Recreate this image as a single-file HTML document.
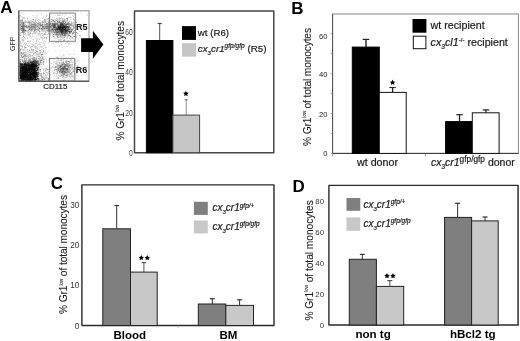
<!DOCTYPE html>
<html><head><meta charset="utf-8"><style>
html,body{margin:0;padding:0;background:#fff;}
body{width:520px;height:341px;overflow:hidden;}
svg{display:block;font-family:"Liberation Sans", sans-serif;filter:grayscale(1) blur(0.3px);}
</style></head><body>
<svg width="520" height="341" viewBox="0 0 520 341">
<rect width="520" height="341" fill="#fff"/>
<text x="0.3" y="13.3" font-size="17" font-weight="bold" font-style="normal" text-anchor="start" fill="#000" >A</text><text x="291.3" y="13.8" font-size="17" font-weight="bold" font-style="normal" text-anchor="start" fill="#000" >B</text><text x="50.8" y="189.4" font-size="17" font-weight="bold" font-style="normal" text-anchor="start" fill="#000" >C</text><text x="292.5" y="192.1" font-size="17" font-weight="bold" font-style="normal" text-anchor="start" fill="#000" >D</text><filter id="bl" x="-5%" y="-5%" width="110%" height="110%"><feGaussianBlur stdDeviation="0.5"/></filter><g fill="#000" filter="url(#bl)"><path fill-opacity="0.68" d="M25.9 70.1h.8v.8h-.8zM20.5 74.6h.8v.8h-.8zM27.5 79.8h.8v.8h-.8zM34.5 64.0h.8v.8h-.8zM28.5 70.2h.8v.8h-.8zM19.3 68.4h.8v.8h-.8zM34.0 69.3h.8v.8h-.8zM30.6 70.7h.8v.8h-.8zM27.7 69.5h.8v.8h-.8zM22.8 70.0h.8v.8h-.8zM21.9 70.0h.8v.8h-.8zM19.4 66.0h.8v.8h-.8zM35.4 68.5h.8v.8h-.8zM38.4 74.4h.8v.8h-.8zM24.6 71.9h.8v.8h-.8zM29.5 69.8h.8v.8h-.8zM33.0 69.0h.8v.8h-.8zM30.8 69.6h.8v.8h-.8zM31.6 75.0h.8v.8h-.8zM34.1 67.2h.8v.8h-.8zM21.5 66.7h.8v.8h-.8zM37.0 74.7h.8v.8h-.8zM33.6 67.9h.8v.8h-.8zM25.7 70.6h.8v.8h-.8zM32.3 77.5h.8v.8h-.8zM20.7 78.0h.8v.8h-.8zM29.4 65.9h.8v.8h-.8zM22.4 66.0h.8v.8h-.8zM36.5 67.6h.8v.8h-.8zM20.8 74.6h.8v.8h-.8zM23.0 70.2h.8v.8h-.8zM32.9 71.9h.8v.8h-.8zM34.5 78.2h.8v.8h-.8zM33.5 75.6h.8v.8h-.8zM35.2 77.2h.8v.8h-.8zM29.8 77.8h.8v.8h-.8zM32.6 78.7h.8v.8h-.8zM32.5 75.0h.8v.8h-.8zM25.0 76.0h.8v.8h-.8zM26.2 65.4h.8v.8h-.8zM31.0 71.5h.8v.8h-.8zM19.6 77.2h.8v.8h-.8zM26.8 73.6h.8v.8h-.8zM27.3 79.0h.8v.8h-.8zM21.2 74.0h.8v.8h-.8zM32.0 66.0h.8v.8h-.8zM29.1 76.2h.8v.8h-.8zM23.7 71.1h.8v.8h-.8zM29.3 79.4h.8v.8h-.8zM30.1 70.5h.8v.8h-.8zM24.0 63.4h.8v.8h-.8zM31.9 68.6h.8v.8h-.8zM28.4 69.8h.8v.8h-.8zM36.3 75.8h.8v.8h-.8zM20.0 67.1h.8v.8h-.8zM21.1 80.3h.8v.8h-.8zM27.1 68.6h.8v.8h-.8zM21.8 67.5h.8v.8h-.8zM21.2 64.2h.8v.8h-.8zM19.5 68.7h.8v.8h-.8zM34.0 72.8h.8v.8h-.8zM33.2 73.0h.8v.8h-.8zM29.6 70.3h.8v.8h-.8zM34.1 65.0h.8v.8h-.8zM22.9 72.8h.8v.8h-.8zM27.6 76.6h.8v.8h-.8zM29.9 77.0h.8v.8h-.8zM29.2 73.8h.8v.8h-.8zM30.6 68.6h.8v.8h-.8zM35.8 64.4h.8v.8h-.8zM29.7 70.9h.8v.8h-.8zM30.7 67.3h.8v.8h-.8zM25.9 67.8h.8v.8h-.8zM30.5 75.9h.8v.8h-.8zM39.8 70.5h.8v.8h-.8zM27.2 65.0h.8v.8h-.8zM35.9 74.5h.8v.8h-.8zM30.9 68.6h.8v.8h-.8zM19.6 66.1h.8v.8h-.8zM36.6 66.5h.8v.8h-.8zM27.5 75.2h.8v.8h-.8zM20.4 64.0h.8v.8h-.8zM25.7 77.2h.8v.8h-.8zM31.7 66.1h.8v.8h-.8zM24.0 64.8h.8v.8h-.8zM28.1 73.8h.8v.8h-.8zM19.9 66.4h.8v.8h-.8zM34.2 74.2h.8v.8h-.8zM19.4 79.7h.8v.8h-.8zM24.7 72.9h.8v.8h-.8zM33.3 64.7h.8v.8h-.8zM34.0 69.2h.8v.8h-.8zM35.5 73.7h.8v.8h-.8zM26.8 73.1h.8v.8h-.8zM23.5 75.0h.8v.8h-.8zM31.6 75.0h.8v.8h-.8zM23.8 72.1h.8v.8h-.8zM32.7 78.9h.8v.8h-.8zM26.7 76.7h.8v.8h-.8zM25.3 77.9h.8v.8h-.8zM32.5 64.8h.8v.8h-.8zM25.7 79.5h.8v.8h-.8zM24.5 70.3h.8v.8h-.8zM20.0 65.0h.8v.8h-.8zM35.1 79.3h.8v.8h-.8zM37.3 75.2h.8v.8h-.8zM22.0 68.8h.8v.8h-.8zM24.7 67.6h.8v.8h-.8zM21.9 67.5h.8v.8h-.8zM21.6 75.9h.8v.8h-.8zM28.5 76.2h.8v.8h-.8zM23.0 67.9h.8v.8h-.8zM23.5 79.2h.8v.8h-.8zM31.7 69.8h.8v.8h-.8zM22.3 68.0h.8v.8h-.8zM21.5 78.4h.8v.8h-.8zM27.3 71.7h.8v.8h-.8zM23.9 70.8h.8v.8h-.8zM32.7 80.5h.8v.8h-.8zM19.7 70.5h.8v.8h-.8zM27.5 66.1h.8v.8h-.8zM22.5 72.9h.8v.8h-.8zM27.1 67.6h.8v.8h-.8zM31.7 75.4h.8v.8h-.8zM29.5 77.3h.8v.8h-.8zM22.9 77.3h.8v.8h-.8zM34.1 68.0h.8v.8h-.8zM23.9 73.9h.8v.8h-.8zM29.7 66.3h.8v.8h-.8zM23.9 68.8h.8v.8h-.8zM21.4 74.9h.8v.8h-.8zM27.9 70.1h.8v.8h-.8zM24.1 66.3h.8v.8h-.8zM24.5 73.6h.8v.8h-.8zM31.3 64.8h.8v.8h-.8zM23.2 73.3h.8v.8h-.8zM24.6 69.8h.8v.8h-.8zM25.1 77.0h.8v.8h-.8zM35.3 73.9h.8v.8h-.8zM24.0 76.6h.8v.8h-.8zM25.2 65.9h.8v.8h-.8zM31.9 74.9h.8v.8h-.8zM35.2 71.7h.8v.8h-.8zM27.8 76.4h.8v.8h-.8zM21.9 68.6h.8v.8h-.8zM33.9 80.2h.8v.8h-.8zM30.0 79.9h.8v.8h-.8zM31.1 76.9h.8v.8h-.8zM25.5 67.1h.8v.8h-.8zM26.1 68.3h.8v.8h-.8zM22.7 75.1h.8v.8h-.8zM37.4 78.1h.8v.8h-.8zM37.1 76.0h.8v.8h-.8zM20.5 77.1h.8v.8h-.8zM23.8 74.9h.8v.8h-.8zM31.3 62.3h.8v.8h-.8zM32.2 68.9h.8v.8h-.8zM31.9 68.7h.8v.8h-.8zM21.1 64.3h.8v.8h-.8zM27.9 67.8h.8v.8h-.8zM25.2 70.5h.8v.8h-.8zM23.3 71.9h.8v.8h-.8zM28.2 70.7h.8v.8h-.8zM24.8 76.7h.8v.8h-.8zM35.7 70.1h.8v.8h-.8zM29.5 77.6h.8v.8h-.8zM25.0 79.9h.8v.8h-.8zM34.1 63.7h.8v.8h-.8zM20.8 69.8h.8v.8h-.8zM23.6 64.3h.8v.8h-.8zM33.2 75.0h.8v.8h-.8zM34.1 79.5h.8v.8h-.8zM23.9 71.4h.8v.8h-.8zM29.6 70.6h.8v.8h-.8zM25.2 66.5h.8v.8h-.8zM29.7 71.9h.8v.8h-.8zM33.6 75.2h.8v.8h-.8zM24.0 76.3h.8v.8h-.8zM23.2 76.3h.8v.8h-.8zM24.5 71.7h.8v.8h-.8zM21.4 75.5h.8v.8h-.8zM36.7 73.6h.8v.8h-.8zM35.9 75.4h.8v.8h-.8zM33.2 76.4h.8v.8h-.8zM23.9 74.0h.8v.8h-.8zM36.1 76.3h.8v.8h-.8zM32.4 77.7h.8v.8h-.8zM23.8 72.2h.8v.8h-.8zM28.4 72.3h.8v.8h-.8zM31.5 79.4h.8v.8h-.8zM21.4 77.5h.8v.8h-.8zM31.7 63.9h.8v.8h-.8zM34.3 66.4h.8v.8h-.8zM29.9 70.6h.8v.8h-.8zM24.2 68.6h.8v.8h-.8zM23.3 72.9h.8v.8h-.8zM25.8 67.0h.8v.8h-.8zM29.2 64.3h.8v.8h-.8zM20.5 67.4h.8v.8h-.8zM30.9 67.9h.8v.8h-.8zM26.4 79.1h.8v.8h-.8zM30.7 71.9h.8v.8h-.8zM22.5 73.6h.8v.8h-.8zM27.7 78.8h.8v.8h-.8zM26.0 69.1h.8v.8h-.8zM27.8 77.9h.8v.8h-.8zM33.6 71.9h.8v.8h-.8zM32.1 70.3h.8v.8h-.8zM23.4 63.5h.8v.8h-.8zM27.2 67.6h.8v.8h-.8zM26.4 75.9h.8v.8h-.8zM26.7 68.9h.8v.8h-.8zM23.6 74.5h.8v.8h-.8zM24.8 70.9h.8v.8h-.8zM24.4 63.1h.8v.8h-.8zM26.6 71.8h.8v.8h-.8zM27.3 69.5h.8v.8h-.8zM37.1 74.4h.8v.8h-.8zM19.7 70.0h.8v.8h-.8zM29.9 75.1h.8v.8h-.8zM21.0 74.1h.8v.8h-.8zM26.9 75.7h.8v.8h-.8zM35.0 68.7h.8v.8h-.8zM27.2 75.9h.8v.8h-.8zM33.9 73.4h.8v.8h-.8zM31.1 69.3h.8v.8h-.8zM32.1 77.8h.8v.8h-.8zM30.3 65.5h.8v.8h-.8zM31.8 71.7h.8v.8h-.8zM34.5 74.9h.8v.8h-.8zM23.0 72.6h.8v.8h-.8zM21.3 64.9h.8v.8h-.8zM31.1 80.1h.8v.8h-.8zM33.9 74.5h.8v.8h-.8zM20.0 70.2h.8v.8h-.8zM21.4 71.3h.8v.8h-.8zM21.1 80.2h.8v.8h-.8zM24.2 79.7h.8v.8h-.8zM27.0 78.3h.8v.8h-.8zM21.4 68.4h.8v.8h-.8zM31.4 79.4h.8v.8h-.8zM20.3 70.6h.8v.8h-.8zM32.4 71.6h.8v.8h-.8zM27.4 70.3h.8v.8h-.8zM27.2 74.6h.8v.8h-.8zM29.8 80.7h.8v.8h-.8zM35.4 74.6h.8v.8h-.8zM30.0 78.4h.8v.8h-.8zM31.8 72.9h.8v.8h-.8zM24.7 73.8h.8v.8h-.8zM32.8 78.0h.8v.8h-.8zM19.7 63.6h.8v.8h-.8zM29.3 67.0h.8v.8h-.8zM21.1 76.2h.8v.8h-.8zM26.7 77.7h.8v.8h-.8zM22.9 75.1h.8v.8h-.8zM22.8 73.8h.8v.8h-.8zM33.1 71.9h.8v.8h-.8zM28.3 67.3h.8v.8h-.8zM21.2 73.5h.8v.8h-.8zM22.8 76.1h.8v.8h-.8zM27.4 78.5h.8v.8h-.8zM27.5 77.8h.8v.8h-.8zM24.8 64.2h.8v.8h-.8zM26.2 69.7h.8v.8h-.8zM34.6 78.0h.8v.8h-.8zM23.5 73.7h.8v.8h-.8zM35.1 74.1h.8v.8h-.8zM24.4 66.0h.8v.8h-.8zM33.6 77.2h.8v.8h-.8zM34.6 66.1h.8v.8h-.8zM22.0 66.4h.8v.8h-.8zM32.5 69.1h.8v.8h-.8zM31.6 78.2h.8v.8h-.8zM22.3 67.0h.8v.8h-.8zM31.8 75.0h.8v.8h-.8zM25.0 69.0h.8v.8h-.8zM32.5 65.5h.8v.8h-.8zM28.1 64.9h.8v.8h-.8zM33.9 72.3h.8v.8h-.8zM26.0 75.3h.8v.8h-.8zM26.1 71.8h.8v.8h-.8zM30.3 72.4h.8v.8h-.8zM30.0 68.5h.8v.8h-.8zM30.1 79.1h.8v.8h-.8zM35.4 74.8h.8v.8h-.8zM23.1 68.1h.8v.8h-.8zM26.5 75.0h.8v.8h-.8zM29.5 78.3h.8v.8h-.8zM25.9 77.2h.8v.8h-.8zM26.9 80.5h.8v.8h-.8zM29.3 69.0h.8v.8h-.8zM20.6 68.3h.8v.8h-.8zM29.5 65.8h.8v.8h-.8zM24.7 62.8h.8v.8h-.8zM22.2 69.9h.8v.8h-.8zM24.7 70.5h.8v.8h-.8zM26.0 74.8h.8v.8h-.8zM29.1 66.8h.8v.8h-.8zM23.0 70.8h.8v.8h-.8zM28.7 64.0h.8v.8h-.8zM26.6 77.5h.8v.8h-.8zM28.5 70.5h.8v.8h-.8zM21.9 74.1h.8v.8h-.8zM32.6 70.2h.8v.8h-.8zM29.4 80.1h.8v.8h-.8zM29.7 75.3h.8v.8h-.8zM39.0 78.4h.8v.8h-.8zM23.1 69.9h.8v.8h-.8zM24.5 72.2h.8v.8h-.8zM25.9 65.6h.8v.8h-.8zM23.2 80.2h.8v.8h-.8zM20.4 67.8h.8v.8h-.8zM25.8 67.0h.8v.8h-.8zM27.3 70.2h.8v.8h-.8zM27.8 69.8h.8v.8h-.8zM21.7 62.9h.8v.8h-.8zM36.1 73.5h.8v.8h-.8zM35.6 80.7h.8v.8h-.8zM20.8 71.4h.8v.8h-.8zM26.1 63.2h.8v.8h-.8zM33.0 66.8h.8v.8h-.8zM27.8 65.4h.8v.8h-.8zM33.5 72.9h.8v.8h-.8zM30.8 73.3h.8v.8h-.8zM21.7 63.8h.8v.8h-.8zM31.4 65.0h.8v.8h-.8zM34.6 67.2h.8v.8h-.8zM35.4 68.8h.8v.8h-.8zM26.6 75.9h.8v.8h-.8zM19.8 75.3h.8v.8h-.8zM22.3 78.6h.8v.8h-.8zM29.1 72.0h.8v.8h-.8zM31.9 68.8h.8v.8h-.8zM26.7 64.1h.8v.8h-.8zM20.1 70.1h.8v.8h-.8zM31.6 74.3h.8v.8h-.8zM37.4 73.6h.8v.8h-.8zM28.9 79.6h.8v.8h-.8zM22.6 76.4h.8v.8h-.8zM28.3 67.0h.8v.8h-.8zM34.4 70.1h.8v.8h-.8zM34.5 65.6h.8v.8h-.8zM32.9 72.3h.8v.8h-.8zM34.8 64.9h.8v.8h-.8zM30.3 64.0h.8v.8h-.8zM21.6 78.3h.8v.8h-.8zM27.1 71.0h.8v.8h-.8zM27.5 67.8h.8v.8h-.8zM22.3 65.5h.8v.8h-.8zM32.5 68.2h.8v.8h-.8zM31.1 72.4h.8v.8h-.8zM27.4 74.0h.8v.8h-.8zM31.0 64.3h.8v.8h-.8zM35.7 73.6h.8v.8h-.8zM20.6 63.9h.8v.8h-.8zM27.2 71.5h.8v.8h-.8zM27.1 74.3h.8v.8h-.8zM26.2 69.8h.8v.8h-.8zM23.8 67.3h.8v.8h-.8zM26.7 73.2h.8v.8h-.8zM26.3 70.9h.8v.8h-.8zM35.9 79.2h.8v.8h-.8zM19.8 77.5h.8v.8h-.8zM28.5 67.0h.8v.8h-.8zM33.8 65.1h.8v.8h-.8zM36.4 79.2h.8v.8h-.8zM23.1 72.2h.8v.8h-.8zM30.9 74.2h.8v.8h-.8zM27.6 75.5h.8v.8h-.8zM29.9 77.6h.8v.8h-.8zM27.2 64.9h.8v.8h-.8zM34.4 74.6h.8v.8h-.8zM32.6 76.9h.8v.8h-.8zM35.4 75.0h.8v.8h-.8zM21.9 66.2h.8v.8h-.8zM23.0 75.7h.8v.8h-.8zM29.6 78.3h.8v.8h-.8zM28.2 79.4h.8v.8h-.8z"/><path fill-opacity="0.68" d="M33.1 68.8h.8v.8h-.8zM32.8 73.8h.8v.8h-.8zM28.4 75.0h.8v.8h-.8zM22.6 79.5h.8v.8h-.8zM23.6 72.0h.8v.8h-.8zM22.5 64.1h.8v.8h-.8zM22.1 77.3h.8v.8h-.8zM33.2 78.9h.8v.8h-.8zM29.4 73.6h.8v.8h-.8zM36.6 67.4h.8v.8h-.8zM26.0 70.1h.8v.8h-.8zM32.6 69.0h.8v.8h-.8zM36.0 65.4h.8v.8h-.8zM27.8 78.5h.8v.8h-.8zM25.2 76.2h.8v.8h-.8zM22.7 73.1h.8v.8h-.8zM30.5 74.2h.8v.8h-.8zM32.0 68.6h.8v.8h-.8zM35.6 66.4h.8v.8h-.8zM28.3 71.7h.8v.8h-.8zM24.5 68.3h.8v.8h-.8zM29.7 77.2h.8v.8h-.8zM29.7 76.5h.8v.8h-.8zM25.1 80.0h.8v.8h-.8zM30.9 76.7h.8v.8h-.8zM36.4 67.5h.8v.8h-.8zM22.1 62.9h.8v.8h-.8zM19.5 62.4h.8v.8h-.8zM30.5 68.4h.8v.8h-.8zM24.9 67.2h.8v.8h-.8zM33.9 64.5h.8v.8h-.8zM30.4 78.0h.8v.8h-.8zM20.7 80.4h.8v.8h-.8zM28.4 74.5h.8v.8h-.8zM19.6 62.3h.8v.8h-.8zM31.3 66.9h.8v.8h-.8zM32.3 73.0h.8v.8h-.8zM23.1 74.2h.8v.8h-.8zM22.7 69.8h.8v.8h-.8zM23.5 70.3h.8v.8h-.8zM30.6 79.2h.8v.8h-.8zM24.0 75.7h.8v.8h-.8zM35.3 71.8h.8v.8h-.8zM28.3 77.7h.8v.8h-.8zM29.2 77.8h.8v.8h-.8zM29.0 70.8h.8v.8h-.8zM21.9 70.1h.8v.8h-.8zM22.4 71.3h.8v.8h-.8zM25.4 74.9h.8v.8h-.8zM36.0 65.4h.8v.8h-.8zM19.3 65.9h.8v.8h-.8zM22.1 68.9h.8v.8h-.8zM21.7 66.2h.8v.8h-.8zM33.6 63.4h.8v.8h-.8zM29.4 78.0h.8v.8h-.8zM29.1 78.9h.8v.8h-.8zM26.4 66.2h.8v.8h-.8zM19.4 78.2h.8v.8h-.8zM25.9 71.0h.8v.8h-.8zM21.8 75.7h.8v.8h-.8zM30.0 75.5h.8v.8h-.8zM24.5 77.2h.8v.8h-.8zM21.4 73.4h.8v.8h-.8zM30.5 77.0h.8v.8h-.8zM29.3 66.4h.8v.8h-.8zM27.2 70.9h.8v.8h-.8zM28.9 68.0h.8v.8h-.8zM19.5 74.9h.8v.8h-.8zM32.3 73.1h.8v.8h-.8zM32.2 63.9h.8v.8h-.8zM25.1 70.8h.8v.8h-.8zM27.7 61.7h.8v.8h-.8zM32.4 64.0h.8v.8h-.8zM25.3 77.8h.8v.8h-.8zM27.4 70.9h.8v.8h-.8zM22.2 68.6h.8v.8h-.8zM23.8 67.0h.8v.8h-.8zM26.1 73.2h.8v.8h-.8zM24.4 78.7h.8v.8h-.8zM27.6 74.1h.8v.8h-.8zM27.6 70.0h.8v.8h-.8zM33.3 72.4h.8v.8h-.8zM28.8 77.9h.8v.8h-.8zM35.8 73.9h.8v.8h-.8zM23.3 75.9h.8v.8h-.8zM22.0 68.8h.8v.8h-.8zM26.1 72.3h.8v.8h-.8zM22.4 75.0h.8v.8h-.8zM34.2 66.0h.8v.8h-.8zM33.8 72.1h.8v.8h-.8zM34.2 77.3h.8v.8h-.8zM28.2 65.6h.8v.8h-.8zM30.5 65.8h.8v.8h-.8zM38.4 80.0h.8v.8h-.8zM23.1 72.3h.8v.8h-.8zM23.9 75.3h.8v.8h-.8zM34.4 70.2h.8v.8h-.8zM23.3 74.3h.8v.8h-.8zM39.4 79.5h.8v.8h-.8zM31.7 72.3h.8v.8h-.8zM31.7 79.3h.8v.8h-.8zM25.6 72.0h.8v.8h-.8zM32.9 76.2h.8v.8h-.8zM38.0 63.0h.8v.8h-.8zM28.1 69.5h.8v.8h-.8zM25.7 75.7h.8v.8h-.8zM21.2 75.3h.8v.8h-.8zM28.3 65.3h.8v.8h-.8zM26.4 66.4h.8v.8h-.8zM29.9 64.6h.8v.8h-.8zM29.0 69.0h.8v.8h-.8zM21.7 80.4h.8v.8h-.8zM28.1 75.4h.8v.8h-.8zM29.6 63.2h.8v.8h-.8zM34.4 77.2h.8v.8h-.8zM25.6 73.1h.8v.8h-.8zM24.6 78.6h.8v.8h-.8zM22.6 74.4h.8v.8h-.8zM26.6 72.8h.8v.8h-.8zM26.8 74.9h.8v.8h-.8zM19.7 66.6h.8v.8h-.8zM26.9 67.7h.8v.8h-.8zM29.8 72.7h.8v.8h-.8zM28.2 68.7h.8v.8h-.8zM35.9 72.5h.8v.8h-.8zM32.4 75.3h.8v.8h-.8zM31.2 68.0h.8v.8h-.8zM27.1 76.7h.8v.8h-.8zM29.4 76.4h.8v.8h-.8zM23.2 66.9h.8v.8h-.8zM34.8 68.9h.8v.8h-.8zM35.1 61.3h.8v.8h-.8zM25.7 76.6h.8v.8h-.8zM19.8 72.4h.8v.8h-.8zM25.1 73.2h.8v.8h-.8zM19.4 64.9h.8v.8h-.8zM22.6 64.4h.8v.8h-.8zM27.1 73.6h.8v.8h-.8zM19.2 64.5h.8v.8h-.8zM20.5 73.0h.8v.8h-.8zM24.6 66.2h.8v.8h-.8zM27.2 66.5h.8v.8h-.8zM25.9 72.4h.8v.8h-.8zM29.5 76.3h.8v.8h-.8zM27.7 68.1h.8v.8h-.8zM20.1 66.8h.8v.8h-.8zM21.8 68.1h.8v.8h-.8zM24.8 66.1h.8v.8h-.8zM25.4 74.3h.8v.8h-.8zM27.3 68.8h.8v.8h-.8zM23.1 74.2h.8v.8h-.8zM35.6 72.7h.8v.8h-.8zM29.0 78.0h.8v.8h-.8zM20.8 74.7h.8v.8h-.8zM23.0 67.8h.8v.8h-.8zM27.3 75.5h.8v.8h-.8zM24.2 76.9h.8v.8h-.8zM23.4 73.8h.8v.8h-.8zM27.9 78.7h.8v.8h-.8zM22.6 78.7h.8v.8h-.8zM29.4 73.6h.8v.8h-.8zM35.1 73.6h.8v.8h-.8zM32.6 78.5h.8v.8h-.8zM34.4 77.7h.8v.8h-.8zM21.9 68.8h.8v.8h-.8zM23.6 75.1h.8v.8h-.8zM29.9 65.5h.8v.8h-.8zM29.7 75.1h.8v.8h-.8zM19.5 66.6h.8v.8h-.8zM30.6 78.8h.8v.8h-.8zM25.9 75.2h.8v.8h-.8zM32.1 76.6h.8v.8h-.8zM23.3 68.5h.8v.8h-.8zM32.3 80.1h.8v.8h-.8zM20.8 77.5h.8v.8h-.8zM30.5 80.5h.8v.8h-.8zM28.4 64.1h.8v.8h-.8zM21.6 64.6h.8v.8h-.8zM20.0 76.7h.8v.8h-.8zM19.8 64.9h.8v.8h-.8zM28.0 72.3h.8v.8h-.8zM19.5 71.2h.8v.8h-.8zM24.2 76.4h.8v.8h-.8zM36.1 67.5h.8v.8h-.8zM31.1 68.0h.8v.8h-.8zM24.7 65.5h.8v.8h-.8zM31.1 69.1h.8v.8h-.8zM24.2 74.7h.8v.8h-.8zM31.5 77.9h.8v.8h-.8zM32.0 78.7h.8v.8h-.8zM29.8 60.7h.8v.8h-.8zM36.5 75.7h.8v.8h-.8zM20.6 76.8h.8v.8h-.8zM37.6 73.1h.8v.8h-.8zM24.9 79.0h.8v.8h-.8zM35.4 69.3h.8v.8h-.8zM29.3 74.6h.8v.8h-.8zM36.7 78.2h.8v.8h-.8zM28.8 68.0h.8v.8h-.8zM25.5 79.7h.8v.8h-.8zM32.7 71.7h.8v.8h-.8zM24.6 79.5h.8v.8h-.8zM32.5 66.3h.8v.8h-.8zM29.7 69.0h.8v.8h-.8zM28.4 65.9h.8v.8h-.8zM29.2 73.3h.8v.8h-.8zM28.0 74.1h.8v.8h-.8zM32.9 66.5h.8v.8h-.8zM29.7 68.4h.8v.8h-.8zM34.2 68.0h.8v.8h-.8zM34.5 77.8h.8v.8h-.8zM29.5 79.0h.8v.8h-.8zM26.1 74.7h.8v.8h-.8zM30.9 73.7h.8v.8h-.8zM32.7 77.9h.8v.8h-.8zM31.2 71.6h.8v.8h-.8zM26.5 76.4h.8v.8h-.8zM25.1 68.4h.8v.8h-.8zM34.9 73.0h.8v.8h-.8zM21.7 66.1h.8v.8h-.8zM37.9 67.8h.8v.8h-.8zM19.5 75.5h.8v.8h-.8zM29.0 72.4h.8v.8h-.8zM20.6 75.3h.8v.8h-.8zM26.2 65.1h.8v.8h-.8zM29.6 73.8h.8v.8h-.8zM35.5 64.2h.8v.8h-.8zM31.5 76.3h.8v.8h-.8zM31.7 68.8h.8v.8h-.8zM37.2 79.6h.8v.8h-.8zM27.9 75.0h.8v.8h-.8zM32.5 66.9h.8v.8h-.8zM31.4 78.4h.8v.8h-.8zM26.5 71.8h.8v.8h-.8zM20.9 74.5h.8v.8h-.8zM33.1 74.1h.8v.8h-.8zM35.9 70.8h.8v.8h-.8zM30.8 71.5h.8v.8h-.8zM22.1 64.6h.8v.8h-.8zM26.5 76.2h.8v.8h-.8zM28.7 77.7h.8v.8h-.8zM25.6 69.0h.8v.8h-.8zM34.4 76.5h.8v.8h-.8zM22.4 80.0h.8v.8h-.8zM27.8 68.5h.8v.8h-.8zM29.2 72.9h.8v.8h-.8zM34.2 72.6h.8v.8h-.8zM25.2 73.0h.8v.8h-.8zM23.2 78.4h.8v.8h-.8zM26.9 78.2h.8v.8h-.8zM32.0 69.8h.8v.8h-.8zM33.9 75.4h.8v.8h-.8zM22.7 79.8h.8v.8h-.8zM27.2 76.0h.8v.8h-.8zM26.3 80.2h.8v.8h-.8zM25.2 74.7h.8v.8h-.8zM23.7 72.5h.8v.8h-.8zM19.6 67.8h.8v.8h-.8zM29.4 77.5h.8v.8h-.8zM34.1 71.7h.8v.8h-.8zM25.3 67.9h.8v.8h-.8zM27.3 66.7h.8v.8h-.8zM32.0 72.1h.8v.8h-.8zM26.0 68.4h.8v.8h-.8zM23.6 76.5h.8v.8h-.8zM27.2 70.5h.8v.8h-.8zM32.5 69.2h.8v.8h-.8zM22.5 76.0h.8v.8h-.8zM19.7 69.0h.8v.8h-.8zM24.6 73.4h.8v.8h-.8zM31.1 78.0h.8v.8h-.8zM27.9 65.4h.8v.8h-.8zM24.3 63.8h.8v.8h-.8zM31.9 73.6h.8v.8h-.8zM23.9 69.5h.8v.8h-.8zM24.3 79.0h.8v.8h-.8zM33.9 77.1h.8v.8h-.8zM33.3 70.0h.8v.8h-.8zM24.1 66.5h.8v.8h-.8zM24.1 66.0h.8v.8h-.8zM26.1 79.4h.8v.8h-.8zM33.3 75.9h.8v.8h-.8zM29.5 66.4h.8v.8h-.8zM22.8 71.7h.8v.8h-.8zM19.3 64.3h.8v.8h-.8zM36.5 75.6h.8v.8h-.8zM25.1 74.0h.8v.8h-.8zM25.8 64.8h.8v.8h-.8zM34.9 73.8h.8v.8h-.8zM29.5 75.0h.8v.8h-.8zM31.5 69.9h.8v.8h-.8zM29.0 80.6h.8v.8h-.8zM30.5 71.0h.8v.8h-.8zM21.3 78.4h.8v.8h-.8zM26.3 79.8h.8v.8h-.8zM34.4 73.4h.8v.8h-.8zM34.3 74.6h.8v.8h-.8zM21.5 76.7h.8v.8h-.8zM33.8 67.7h.8v.8h-.8zM26.3 62.5h.8v.8h-.8zM27.5 77.1h.8v.8h-.8zM35.3 74.0h.8v.8h-.8zM33.0 76.8h.8v.8h-.8zM21.7 69.0h.8v.8h-.8zM24.9 75.8h.8v.8h-.8zM34.4 66.0h.8v.8h-.8zM22.8 74.0h.8v.8h-.8zM30.4 74.0h.8v.8h-.8zM28.8 67.5h.8v.8h-.8zM29.5 75.3h.8v.8h-.8zM33.9 73.8h.8v.8h-.8zM26.5 74.3h.8v.8h-.8zM28.9 63.8h.8v.8h-.8zM21.5 73.9h.8v.8h-.8zM33.5 71.4h.8v.8h-.8zM27.2 78.4h.8v.8h-.8zM24.3 64.1h.8v.8h-.8zM30.9 77.2h.8v.8h-.8zM21.4 72.3h.8v.8h-.8zM32.9 71.8h.8v.8h-.8zM24.8 71.5h.8v.8h-.8zM36.2 72.9h.8v.8h-.8zM31.2 64.2h.8v.8h-.8zM31.8 70.3h.8v.8h-.8zM26.5 65.8h.8v.8h-.8zM23.3 70.2h.8v.8h-.8zM30.5 73.6h.8v.8h-.8zM26.5 69.0h.8v.8h-.8zM32.3 70.1h.8v.8h-.8zM35.8 72.4h.8v.8h-.8zM26.8 78.8h.8v.8h-.8zM32.5 72.5h.8v.8h-.8zM33.3 74.8h.8v.8h-.8zM21.4 68.7h.8v.8h-.8zM25.6 79.1h.8v.8h-.8zM25.3 73.2h.8v.8h-.8zM23.9 74.3h.8v.8h-.8zM35.8 71.7h.8v.8h-.8zM31.3 76.4h.8v.8h-.8zM25.8 72.4h.8v.8h-.8zM23.3 75.2h.8v.8h-.8zM28.5 77.8h.8v.8h-.8zM21.5 70.8h.8v.8h-.8zM21.7 70.7h.8v.8h-.8zM31.8 69.8h.8v.8h-.8zM29.8 77.9h.8v.8h-.8zM29.6 74.3h.8v.8h-.8zM24.5 79.7h.8v.8h-.8zM36.4 78.0h.8v.8h-.8zM28.0 76.2h.8v.8h-.8zM23.7 76.7h.8v.8h-.8zM31.8 70.8h.8v.8h-.8zM26.1 67.6h.8v.8h-.8zM28.2 68.3h.8v.8h-.8zM28.8 64.1h.8v.8h-.8zM32.4 70.2h.8v.8h-.8zM34.0 67.6h.8v.8h-.8zM24.1 76.6h.8v.8h-.8zM22.9 76.5h.8v.8h-.8zM34.1 71.9h.8v.8h-.8zM24.9 76.2h.8v.8h-.8zM24.7 79.3h.8v.8h-.8zM22.9 73.3h.8v.8h-.8zM30.8 72.8h.8v.8h-.8zM33.4 68.5h.8v.8h-.8zM33.6 73.4h.8v.8h-.8zM37.8 78.6h.8v.8h-.8zM22.7 74.3h.8v.8h-.8zM21.8 75.9h.8v.8h-.8zM30.5 80.1h.8v.8h-.8zM32.0 73.5h.8v.8h-.8zM21.2 70.1h.8v.8h-.8zM34.0 73.4h.8v.8h-.8zM30.5 77.8h.8v.8h-.8zM26.8 72.9h.8v.8h-.8zM28.6 69.7h.8v.8h-.8zM20.2 63.8h.8v.8h-.8zM31.1 65.4h.8v.8h-.8zM27.5 72.8h.8v.8h-.8z"/><path fill-opacity="0.68" d="M28.6 80.6h.8v.8h-.8zM30.1 74.7h.8v.8h-.8zM30.2 65.1h.8v.8h-.8zM19.3 73.6h.8v.8h-.8zM33.2 75.2h.8v.8h-.8zM30.9 69.4h.8v.8h-.8zM23.8 78.8h.8v.8h-.8zM21.0 68.5h.8v.8h-.8zM25.4 71.6h.8v.8h-.8zM28.4 75.4h.8v.8h-.8zM22.5 68.5h.8v.8h-.8zM23.2 73.9h.8v.8h-.8zM33.3 74.7h.8v.8h-.8zM21.1 74.1h.8v.8h-.8zM23.4 77.7h.8v.8h-.8zM32.2 79.0h.8v.8h-.8zM25.0 68.2h.8v.8h-.8zM31.5 78.0h.8v.8h-.8zM24.2 66.5h.8v.8h-.8zM35.7 66.2h.8v.8h-.8zM29.7 80.3h.8v.8h-.8zM35.6 72.1h.8v.8h-.8zM24.0 70.9h.8v.8h-.8zM33.2 64.2h.8v.8h-.8zM33.3 74.5h.8v.8h-.8zM35.3 64.9h.8v.8h-.8zM35.6 75.5h.8v.8h-.8zM26.8 77.5h.8v.8h-.8zM31.2 80.7h.8v.8h-.8zM21.9 76.0h.8v.8h-.8zM26.6 69.8h.8v.8h-.8zM22.8 75.4h.8v.8h-.8zM26.8 78.5h.8v.8h-.8zM32.8 77.2h.8v.8h-.8zM29.7 76.4h.8v.8h-.8zM38.7 66.7h.8v.8h-.8zM21.0 68.0h.8v.8h-.8zM24.3 72.0h.8v.8h-.8zM27.7 78.6h.8v.8h-.8zM20.0 68.8h.8v.8h-.8zM22.4 76.7h.8v.8h-.8zM27.3 70.0h.8v.8h-.8zM23.2 65.8h.8v.8h-.8zM21.3 78.1h.8v.8h-.8zM31.2 73.1h.8v.8h-.8zM33.7 70.1h.8v.8h-.8zM32.6 76.1h.8v.8h-.8zM31.7 71.4h.8v.8h-.8zM33.4 65.9h.8v.8h-.8zM25.1 74.5h.8v.8h-.8zM21.4 73.9h.8v.8h-.8zM36.9 66.8h.8v.8h-.8zM22.5 73.8h.8v.8h-.8zM31.7 70.0h.8v.8h-.8zM23.0 65.3h.8v.8h-.8zM25.2 69.5h.8v.8h-.8zM25.6 67.5h.8v.8h-.8zM35.6 78.8h.8v.8h-.8zM26.8 77.6h.8v.8h-.8zM24.6 73.0h.8v.8h-.8zM35.4 69.2h.8v.8h-.8zM35.0 66.5h.8v.8h-.8zM28.3 66.8h.8v.8h-.8zM35.2 66.1h.8v.8h-.8zM30.7 65.3h.8v.8h-.8zM34.5 67.2h.8v.8h-.8zM34.0 76.2h.8v.8h-.8zM27.8 70.8h.8v.8h-.8zM25.5 67.8h.8v.8h-.8zM29.6 75.8h.8v.8h-.8zM28.8 64.2h.8v.8h-.8zM34.0 67.9h.8v.8h-.8zM30.7 66.7h.8v.8h-.8zM21.4 76.7h.8v.8h-.8zM27.2 63.4h.8v.8h-.8zM32.8 66.1h.8v.8h-.8zM27.0 79.2h.8v.8h-.8zM30.8 66.4h.8v.8h-.8zM28.4 68.2h.8v.8h-.8zM21.3 73.9h.8v.8h-.8zM25.4 69.4h.8v.8h-.8zM27.3 71.1h.8v.8h-.8zM27.0 80.3h.8v.8h-.8zM26.4 66.2h.8v.8h-.8zM26.1 69.9h.8v.8h-.8zM23.2 71.7h.8v.8h-.8zM19.3 69.6h.8v.8h-.8zM31.2 67.8h.8v.8h-.8zM34.0 69.8h.8v.8h-.8zM26.9 63.8h.8v.8h-.8zM36.8 66.6h.8v.8h-.8zM24.6 67.9h.8v.8h-.8zM25.8 72.4h.8v.8h-.8zM19.8 73.0h.8v.8h-.8zM31.8 69.1h.8v.8h-.8zM25.8 77.7h.8v.8h-.8zM19.4 72.1h.8v.8h-.8zM32.8 71.1h.8v.8h-.8zM25.9 71.7h.8v.8h-.8zM34.4 79.3h.8v.8h-.8zM23.3 67.0h.8v.8h-.8zM21.6 65.4h.8v.8h-.8zM23.0 72.9h.8v.8h-.8zM27.6 64.9h.8v.8h-.8zM24.9 78.3h.8v.8h-.8zM26.6 72.0h.8v.8h-.8zM28.6 67.6h.8v.8h-.8zM32.8 78.3h.8v.8h-.8zM25.6 74.4h.8v.8h-.8zM33.9 72.8h.8v.8h-.8zM29.4 70.0h.8v.8h-.8zM32.2 67.6h.8v.8h-.8zM34.3 70.6h.8v.8h-.8zM22.9 66.7h.8v.8h-.8zM23.1 75.7h.8v.8h-.8zM27.7 65.8h.8v.8h-.8zM21.2 77.1h.8v.8h-.8zM25.9 66.5h.8v.8h-.8zM37.3 69.6h.8v.8h-.8zM29.8 79.1h.8v.8h-.8zM37.8 76.1h.8v.8h-.8zM35.3 77.5h.8v.8h-.8zM31.3 65.0h.8v.8h-.8zM34.2 70.1h.8v.8h-.8zM34.3 72.9h.8v.8h-.8zM26.6 68.8h.8v.8h-.8zM31.1 70.7h.8v.8h-.8zM29.5 72.1h.8v.8h-.8zM22.2 66.3h.8v.8h-.8zM29.2 76.3h.8v.8h-.8zM22.1 80.8h.8v.8h-.8zM38.0 64.6h.8v.8h-.8zM22.4 70.4h.8v.8h-.8zM21.5 65.3h.8v.8h-.8zM35.3 73.1h.8v.8h-.8zM30.3 67.2h.8v.8h-.8zM32.7 79.7h.8v.8h-.8zM35.0 77.4h.8v.8h-.8zM31.6 62.4h.8v.8h-.8zM34.1 74.7h.8v.8h-.8zM26.2 73.8h.8v.8h-.8zM36.1 74.3h.8v.8h-.8zM22.0 77.6h.8v.8h-.8zM24.9 68.0h.8v.8h-.8zM29.6 66.7h.8v.8h-.8zM27.3 78.5h.8v.8h-.8zM22.8 73.0h.8v.8h-.8zM30.6 72.5h.8v.8h-.8zM33.5 72.9h.8v.8h-.8zM33.6 77.7h.8v.8h-.8zM22.9 74.9h.8v.8h-.8zM33.5 78.2h.8v.8h-.8zM25.5 77.7h.8v.8h-.8zM31.8 75.2h.8v.8h-.8zM28.8 70.5h.8v.8h-.8zM28.3 68.0h.8v.8h-.8zM31.6 69.6h.8v.8h-.8zM34.9 70.4h.8v.8h-.8zM29.3 74.9h.8v.8h-.8zM28.9 64.4h.8v.8h-.8zM24.2 79.2h.8v.8h-.8zM27.4 65.1h.8v.8h-.8zM25.1 70.7h.8v.8h-.8zM22.4 70.3h.8v.8h-.8zM37.8 70.2h.8v.8h-.8zM23.8 66.9h.8v.8h-.8zM19.7 74.2h.8v.8h-.8zM23.4 69.3h.8v.8h-.8zM30.7 77.5h.8v.8h-.8zM32.0 73.9h.8v.8h-.8zM34.7 74.7h.8v.8h-.8zM34.0 69.1h.8v.8h-.8zM28.7 78.4h.8v.8h-.8zM26.4 73.9h.8v.8h-.8zM26.3 65.1h.8v.8h-.8zM35.4 75.9h.8v.8h-.8zM26.1 70.2h.8v.8h-.8zM31.1 80.0h.8v.8h-.8zM29.4 77.7h.8v.8h-.8zM37.6 66.7h.8v.8h-.8zM34.1 73.4h.8v.8h-.8zM33.3 69.0h.8v.8h-.8zM20.1 65.4h.8v.8h-.8zM26.1 70.6h.8v.8h-.8zM33.0 75.0h.8v.8h-.8zM23.5 64.1h.8v.8h-.8zM36.4 79.3h.8v.8h-.8zM34.9 68.5h.8v.8h-.8zM29.3 67.6h.8v.8h-.8zM30.5 75.1h.8v.8h-.8zM33.0 74.7h.8v.8h-.8zM34.7 73.9h.8v.8h-.8zM35.0 66.1h.8v.8h-.8zM30.8 77.4h.8v.8h-.8zM25.9 68.7h.8v.8h-.8zM32.0 77.5h.8v.8h-.8zM24.7 72.7h.8v.8h-.8zM27.1 72.8h.8v.8h-.8zM29.8 72.5h.8v.8h-.8zM25.0 71.6h.8v.8h-.8zM28.7 76.4h.8v.8h-.8zM29.1 65.8h.8v.8h-.8zM29.8 67.6h.8v.8h-.8zM31.1 66.3h.8v.8h-.8zM23.9 75.0h.8v.8h-.8zM22.8 74.3h.8v.8h-.8zM27.7 63.5h.8v.8h-.8zM27.3 70.3h.8v.8h-.8zM32.0 73.8h.8v.8h-.8zM37.2 71.8h.8v.8h-.8zM28.1 68.6h.8v.8h-.8zM23.1 79.8h.8v.8h-.8zM30.6 75.2h.8v.8h-.8zM29.7 70.0h.8v.8h-.8zM31.8 77.6h.8v.8h-.8zM27.9 75.9h.8v.8h-.8zM25.6 80.4h.8v.8h-.8zM27.0 77.3h.8v.8h-.8zM33.4 62.9h.8v.8h-.8zM23.5 66.6h.8v.8h-.8zM19.7 75.4h.8v.8h-.8zM21.6 77.6h.8v.8h-.8zM23.4 71.9h.8v.8h-.8zM30.9 71.2h.8v.8h-.8zM30.9 80.2h.8v.8h-.8zM20.5 68.3h.8v.8h-.8zM23.3 72.1h.8v.8h-.8zM20.5 79.1h.8v.8h-.8zM21.6 79.1h.8v.8h-.8zM30.2 68.0h.8v.8h-.8zM32.9 73.4h.8v.8h-.8zM32.6 73.0h.8v.8h-.8zM27.6 74.5h.8v.8h-.8zM35.5 75.5h.8v.8h-.8zM20.2 74.9h.8v.8h-.8zM27.0 76.7h.8v.8h-.8zM32.2 70.2h.8v.8h-.8zM33.6 76.9h.8v.8h-.8zM26.5 74.9h.8v.8h-.8zM27.6 80.3h.8v.8h-.8zM22.0 65.4h.8v.8h-.8zM25.0 72.0h.8v.8h-.8zM30.5 78.6h.8v.8h-.8zM20.7 69.8h.8v.8h-.8zM24.2 78.3h.8v.8h-.8zM23.1 78.3h.8v.8h-.8zM32.9 65.5h.8v.8h-.8zM26.0 64.4h.8v.8h-.8zM27.2 78.6h.8v.8h-.8zM20.0 67.9h.8v.8h-.8zM24.1 76.4h.8v.8h-.8zM30.1 76.0h.8v.8h-.8zM24.8 69.3h.8v.8h-.8zM25.4 69.1h.8v.8h-.8zM36.0 66.1h.8v.8h-.8zM30.0 62.6h.8v.8h-.8zM30.4 76.9h.8v.8h-.8zM24.3 75.6h.8v.8h-.8zM22.6 78.1h.8v.8h-.8zM20.0 77.5h.8v.8h-.8zM24.3 68.2h.8v.8h-.8zM28.1 72.4h.8v.8h-.8zM23.7 74.1h.8v.8h-.8zM31.9 75.1h.8v.8h-.8zM23.9 74.3h.8v.8h-.8zM25.5 67.7h.8v.8h-.8zM20.0 76.5h.8v.8h-.8zM26.5 76.5h.8v.8h-.8zM29.4 79.0h.8v.8h-.8zM33.7 74.8h.8v.8h-.8zM24.3 74.1h.8v.8h-.8zM26.4 66.9h.8v.8h-.8zM28.2 78.5h.8v.8h-.8zM31.1 66.7h.8v.8h-.8zM23.6 66.3h.8v.8h-.8zM30.9 74.0h.8v.8h-.8zM22.7 69.3h.8v.8h-.8zM37.8 73.2h.8v.8h-.8zM20.2 68.5h.8v.8h-.8zM22.2 68.5h.8v.8h-.8zM34.0 66.7h.8v.8h-.8zM32.1 64.1h.8v.8h-.8zM20.9 77.8h.8v.8h-.8zM32.2 68.1h.8v.8h-.8zM32.6 68.3h.8v.8h-.8zM26.2 71.8h.8v.8h-.8zM20.0 79.7h.8v.8h-.8zM28.8 78.1h.8v.8h-.8zM22.5 78.1h.8v.8h-.8zM35.0 80.4h.8v.8h-.8zM35.7 72.8h.8v.8h-.8zM34.2 71.8h.8v.8h-.8zM30.8 74.8h.8v.8h-.8zM25.6 76.3h.8v.8h-.8zM29.5 75.0h.8v.8h-.8zM31.2 78.9h.8v.8h-.8zM22.1 75.3h.8v.8h-.8zM29.6 75.3h.8v.8h-.8zM34.6 79.0h.8v.8h-.8zM23.3 76.1h.8v.8h-.8zM36.5 72.1h.8v.8h-.8zM25.8 66.5h.8v.8h-.8zM25.1 62.6h.8v.8h-.8zM38.7 63.8h.8v.8h-.8zM34.0 65.8h.8v.8h-.8zM30.7 65.6h.8v.8h-.8zM24.4 73.8h.8v.8h-.8zM29.6 79.5h.8v.8h-.8zM25.2 80.5h.8v.8h-.8zM34.6 74.9h.8v.8h-.8zM33.8 75.8h.8v.8h-.8zM29.2 68.7h.8v.8h-.8zM28.4 67.4h.8v.8h-.8zM26.8 75.2h.8v.8h-.8zM30.5 73.3h.8v.8h-.8zM21.4 67.5h.8v.8h-.8zM29.6 69.7h.8v.8h-.8zM31.9 72.0h.8v.8h-.8zM25.7 72.0h.8v.8h-.8zM29.3 77.6h.8v.8h-.8zM32.0 66.6h.8v.8h-.8zM25.8 79.5h.8v.8h-.8zM30.4 79.8h.8v.8h-.8zM30.4 71.6h.8v.8h-.8zM21.1 65.0h.8v.8h-.8zM28.2 69.8h.8v.8h-.8zM23.9 65.0h.8v.8h-.8zM35.2 79.1h.8v.8h-.8zM22.8 76.8h.8v.8h-.8zM35.1 75.7h.8v.8h-.8zM34.6 80.3h.8v.8h-.8zM34.3 70.3h.8v.8h-.8zM28.1 75.2h.8v.8h-.8zM34.9 75.0h.8v.8h-.8zM22.5 75.4h.8v.8h-.8zM29.1 78.3h.8v.8h-.8zM29.0 68.9h.8v.8h-.8zM24.7 62.2h.8v.8h-.8zM26.2 71.0h.8v.8h-.8zM34.3 72.9h.8v.8h-.8zM29.5 79.5h.8v.8h-.8zM30.0 74.1h.8v.8h-.8zM34.3 66.1h.8v.8h-.8zM25.1 63.8h.8v.8h-.8zM32.7 66.0h.8v.8h-.8zM33.6 73.9h.8v.8h-.8zM24.5 67.8h.8v.8h-.8zM34.6 75.9h.8v.8h-.8zM23.1 70.4h.8v.8h-.8zM26.9 73.8h.8v.8h-.8zM29.7 72.4h.8v.8h-.8zM29.3 65.9h.8v.8h-.8zM36.4 76.9h.8v.8h-.8zM23.9 79.5h.8v.8h-.8zM26.4 80.6h.8v.8h-.8zM28.7 79.9h.8v.8h-.8zM37.3 68.4h.8v.8h-.8zM22.5 69.5h.8v.8h-.8zM31.1 68.4h.8v.8h-.8zM35.1 80.8h.8v.8h-.8zM33.0 74.4h.8v.8h-.8zM34.0 69.1h.8v.8h-.8zM31.4 67.2h.8v.8h-.8zM29.4 75.1h.8v.8h-.8zM34.9 76.3h.8v.8h-.8zM32.5 60.9h.8v.8h-.8zM26.2 76.4h.8v.8h-.8zM25.6 72.1h.8v.8h-.8zM28.2 63.7h.8v.8h-.8zM35.5 79.8h.8v.8h-.8zM21.3 73.2h.8v.8h-.8zM31.8 79.5h.8v.8h-.8zM35.9 65.5h.8v.8h-.8zM22.6 70.1h.8v.8h-.8zM20.5 68.4h.8v.8h-.8zM25.9 73.8h.8v.8h-.8zM33.7 70.6h.8v.8h-.8zM25.0 68.8h.8v.8h-.8zM26.5 72.5h.8v.8h-.8z"/><path fill-opacity="0.68" d="M23.1 67.9h.8v.8h-.8zM27.7 66.3h.8v.8h-.8zM34.6 76.6h.8v.8h-.8zM27.6 79.5h.8v.8h-.8zM28.8 80.4h.8v.8h-.8zM23.8 70.0h.8v.8h-.8zM34.9 76.0h.8v.8h-.8zM30.5 64.0h.8v.8h-.8zM23.0 70.5h.8v.8h-.8zM32.8 71.8h.8v.8h-.8zM22.1 68.5h.8v.8h-.8zM38.1 67.1h.8v.8h-.8zM30.0 77.0h.8v.8h-.8zM34.7 76.2h.8v.8h-.8zM21.9 66.2h.8v.8h-.8zM27.4 75.8h.8v.8h-.8zM29.3 75.2h.8v.8h-.8zM33.9 68.1h.8v.8h-.8zM35.8 70.3h.8v.8h-.8zM23.4 66.3h.8v.8h-.8zM30.6 75.9h.8v.8h-.8zM29.5 68.9h.8v.8h-.8zM34.6 74.3h.8v.8h-.8zM26.6 68.5h.8v.8h-.8zM24.2 70.6h.8v.8h-.8zM21.8 79.7h.8v.8h-.8zM26.7 77.4h.8v.8h-.8zM29.5 72.1h.8v.8h-.8zM28.4 79.9h.8v.8h-.8zM33.4 78.8h.8v.8h-.8zM33.1 76.0h.8v.8h-.8zM29.1 78.1h.8v.8h-.8zM25.5 74.7h.8v.8h-.8zM32.4 64.2h.8v.8h-.8zM27.8 76.6h.8v.8h-.8zM34.1 79.4h.8v.8h-.8zM28.9 76.2h.8v.8h-.8zM27.0 65.3h.8v.8h-.8zM37.3 72.6h.8v.8h-.8zM23.3 68.9h.8v.8h-.8zM21.0 80.0h.8v.8h-.8zM22.4 68.8h.8v.8h-.8zM19.4 78.0h.8v.8h-.8zM27.1 69.6h.8v.8h-.8zM32.2 80.3h.8v.8h-.8zM32.3 68.3h.8v.8h-.8zM32.9 66.1h.8v.8h-.8zM27.1 70.7h.8v.8h-.8zM33.5 76.1h.8v.8h-.8zM30.0 66.5h.8v.8h-.8zM21.7 64.0h.8v.8h-.8zM21.5 70.6h.8v.8h-.8zM26.4 64.1h.8v.8h-.8zM22.1 69.7h.8v.8h-.8zM20.7 76.2h.8v.8h-.8zM30.9 73.9h.8v.8h-.8zM33.6 75.6h.8v.8h-.8zM33.9 77.1h.8v.8h-.8zM31.6 64.9h.8v.8h-.8zM31.9 66.7h.8v.8h-.8zM31.1 73.2h.8v.8h-.8zM24.0 62.9h.8v.8h-.8zM33.7 75.0h.8v.8h-.8zM29.1 71.6h.8v.8h-.8zM28.7 71.1h.8v.8h-.8zM28.6 69.2h.8v.8h-.8zM19.7 70.3h.8v.8h-.8zM19.4 74.4h.8v.8h-.8zM37.4 77.9h.8v.8h-.8zM26.7 78.7h.8v.8h-.8zM29.9 61.7h.8v.8h-.8zM29.7 78.3h.8v.8h-.8zM27.3 78.7h.8v.8h-.8zM22.0 71.0h.8v.8h-.8zM25.1 74.9h.8v.8h-.8zM30.0 68.6h.8v.8h-.8zM21.7 73.3h.8v.8h-.8zM28.2 67.4h.8v.8h-.8zM32.7 71.9h.8v.8h-.8zM30.9 74.1h.8v.8h-.8zM28.1 75.4h.8v.8h-.8zM24.8 66.6h.8v.8h-.8zM19.6 66.2h.8v.8h-.8zM29.1 64.5h.8v.8h-.8zM24.8 70.9h.8v.8h-.8zM24.8 75.1h.8v.8h-.8zM28.2 79.4h.8v.8h-.8zM23.5 65.5h.8v.8h-.8zM29.5 75.8h.8v.8h-.8zM35.3 69.9h.8v.8h-.8zM29.8 71.6h.8v.8h-.8zM27.6 76.7h.8v.8h-.8zM20.5 70.8h.8v.8h-.8zM34.4 70.9h.8v.8h-.8zM27.1 64.1h.8v.8h-.8zM35.8 71.5h.8v.8h-.8zM26.7 77.3h.8v.8h-.8zM31.2 71.1h.8v.8h-.8zM32.8 77.5h.8v.8h-.8zM23.2 76.6h.8v.8h-.8zM28.3 75.6h.8v.8h-.8zM24.7 76.2h.8v.8h-.8zM28.9 75.4h.8v.8h-.8zM31.6 66.0h.8v.8h-.8zM30.0 79.4h.8v.8h-.8zM37.1 67.0h.8v.8h-.8zM37.0 75.6h.8v.8h-.8zM30.8 69.6h.8v.8h-.8zM23.4 68.2h.8v.8h-.8zM27.8 68.9h.8v.8h-.8zM32.1 76.4h.8v.8h-.8zM35.2 71.0h.8v.8h-.8zM21.9 72.4h.8v.8h-.8zM26.6 70.1h.8v.8h-.8zM33.2 76.1h.8v.8h-.8zM29.9 74.6h.8v.8h-.8zM23.3 75.7h.8v.8h-.8zM32.5 75.3h.8v.8h-.8zM35.5 65.9h.8v.8h-.8zM31.2 63.6h.8v.8h-.8zM29.6 77.6h.8v.8h-.8zM27.9 64.8h.8v.8h-.8zM31.4 66.1h.8v.8h-.8zM33.4 78.2h.8v.8h-.8zM26.9 73.4h.8v.8h-.8zM24.9 71.6h.8v.8h-.8zM29.5 69.6h.8v.8h-.8zM26.7 69.0h.8v.8h-.8zM28.8 75.0h.8v.8h-.8zM27.9 74.8h.8v.8h-.8zM20.6 63.5h.8v.8h-.8zM26.3 65.3h.8v.8h-.8zM28.4 74.1h.8v.8h-.8zM33.9 71.5h.8v.8h-.8zM34.6 68.2h.8v.8h-.8zM21.8 68.2h.8v.8h-.8zM32.3 74.8h.8v.8h-.8zM33.6 76.9h.8v.8h-.8zM33.0 65.1h.8v.8h-.8zM33.6 71.5h.8v.8h-.8zM22.1 74.2h.8v.8h-.8zM35.0 78.1h.8v.8h-.8zM36.8 68.1h.8v.8h-.8zM36.3 70.1h.8v.8h-.8zM30.3 79.8h.8v.8h-.8zM34.6 72.0h.8v.8h-.8zM19.5 74.3h.8v.8h-.8zM21.0 72.2h.8v.8h-.8zM23.3 76.4h.8v.8h-.8zM20.9 75.9h.8v.8h-.8zM25.7 77.0h.8v.8h-.8zM31.9 67.7h.8v.8h-.8zM22.6 74.6h.8v.8h-.8zM35.3 76.0h.8v.8h-.8zM27.3 76.1h.8v.8h-.8zM26.9 74.1h.8v.8h-.8zM22.5 67.1h.8v.8h-.8zM20.4 68.1h.8v.8h-.8zM21.7 66.0h.8v.8h-.8zM28.0 76.6h.8v.8h-.8zM28.0 77.1h.8v.8h-.8zM26.8 80.2h.8v.8h-.8zM33.3 66.6h.8v.8h-.8zM30.8 77.3h.8v.8h-.8zM26.5 77.8h.8v.8h-.8zM22.2 70.7h.8v.8h-.8zM23.6 70.5h.8v.8h-.8zM31.0 76.2h.8v.8h-.8zM27.0 77.3h.8v.8h-.8zM36.2 64.6h.8v.8h-.8zM21.4 66.4h.8v.8h-.8zM21.4 76.9h.8v.8h-.8zM28.1 75.3h.8v.8h-.8zM27.8 73.5h.8v.8h-.8zM39.7 72.8h.8v.8h-.8zM22.3 75.3h.8v.8h-.8zM31.6 78.6h.8v.8h-.8zM23.1 68.8h.8v.8h-.8zM19.5 74.8h.8v.8h-.8zM28.9 77.1h.8v.8h-.8zM33.3 65.5h.8v.8h-.8zM27.6 73.9h.8v.8h-.8zM31.3 65.9h.8v.8h-.8zM24.1 69.8h.8v.8h-.8zM37.2 69.4h.8v.8h-.8zM30.7 79.1h.8v.8h-.8zM23.5 69.1h.8v.8h-.8zM22.3 80.4h.8v.8h-.8zM30.2 72.5h.8v.8h-.8zM20.7 63.4h.8v.8h-.8zM24.1 64.6h.8v.8h-.8zM26.3 70.0h.8v.8h-.8zM24.7 77.1h.8v.8h-.8zM25.7 71.2h.8v.8h-.8zM21.4 66.4h.8v.8h-.8zM25.1 67.3h.8v.8h-.8zM33.9 69.7h.8v.8h-.8zM35.2 68.4h.8v.8h-.8zM23.3 70.2h.8v.8h-.8zM28.6 71.1h.8v.8h-.8zM24.5 68.2h.8v.8h-.8zM30.1 76.9h.8v.8h-.8zM25.5 74.9h.8v.8h-.8zM29.8 71.4h.8v.8h-.8zM29.8 72.1h.8v.8h-.8zM24.0 60.4h.8v.8h-.8zM21.4 68.5h.8v.8h-.8zM20.7 76.7h.8v.8h-.8zM22.4 77.9h.8v.8h-.8zM33.5 74.0h.8v.8h-.8zM26.2 72.6h.8v.8h-.8zM32.4 67.2h.8v.8h-.8zM22.1 69.4h.8v.8h-.8zM33.3 74.9h.8v.8h-.8zM33.8 64.9h.8v.8h-.8zM25.7 70.2h.8v.8h-.8zM33.3 65.2h.8v.8h-.8zM20.2 72.7h.8v.8h-.8zM26.0 79.4h.8v.8h-.8zM23.1 73.4h.8v.8h-.8zM35.0 65.1h.8v.8h-.8zM29.7 67.5h.8v.8h-.8zM28.0 65.1h.8v.8h-.8zM24.9 70.3h.8v.8h-.8zM29.3 79.0h.8v.8h-.8zM22.6 70.5h.8v.8h-.8zM27.7 79.2h.8v.8h-.8zM25.1 79.2h.8v.8h-.8zM21.6 72.5h.8v.8h-.8zM25.5 67.4h.8v.8h-.8zM25.3 73.6h.8v.8h-.8zM37.8 72.5h.8v.8h-.8zM31.3 66.8h.8v.8h-.8zM26.0 68.8h.8v.8h-.8zM26.4 71.8h.8v.8h-.8zM26.9 71.8h.8v.8h-.8zM22.8 77.5h.8v.8h-.8zM33.1 68.2h.8v.8h-.8zM24.7 68.8h.8v.8h-.8zM36.9 66.8h.8v.8h-.8zM19.7 71.0h.8v.8h-.8zM31.9 79.1h.8v.8h-.8zM28.2 64.5h.8v.8h-.8zM25.8 70.9h.8v.8h-.8zM27.4 70.2h.8v.8h-.8zM33.8 71.0h.8v.8h-.8zM31.3 69.0h.8v.8h-.8zM26.4 69.4h.8v.8h-.8zM35.2 66.0h.8v.8h-.8zM29.2 73.7h.8v.8h-.8zM33.9 74.6h.8v.8h-.8zM23.2 65.4h.8v.8h-.8zM26.8 80.6h.8v.8h-.8zM21.6 72.0h.8v.8h-.8zM35.6 72.2h.8v.8h-.8zM34.8 73.5h.8v.8h-.8zM28.3 80.0h.8v.8h-.8zM27.1 69.5h.8v.8h-.8zM32.6 71.2h.8v.8h-.8zM32.0 74.9h.8v.8h-.8zM24.8 75.6h.8v.8h-.8zM25.2 68.6h.8v.8h-.8zM23.5 66.5h.8v.8h-.8zM36.0 73.1h.8v.8h-.8zM38.4 75.9h.8v.8h-.8zM33.9 72.7h.8v.8h-.8zM23.0 75.0h.8v.8h-.8zM21.4 68.4h.8v.8h-.8zM31.3 66.2h.8v.8h-.8zM36.2 75.4h.8v.8h-.8zM23.1 80.3h.8v.8h-.8zM34.2 75.4h.8v.8h-.8zM32.1 68.0h.8v.8h-.8zM27.2 74.6h.8v.8h-.8zM23.5 70.5h.8v.8h-.8zM25.8 67.2h.8v.8h-.8zM30.8 69.3h.8v.8h-.8zM32.7 71.7h.8v.8h-.8zM25.4 74.4h.8v.8h-.8zM32.3 71.8h.8v.8h-.8zM23.1 72.8h.8v.8h-.8zM29.6 71.9h.8v.8h-.8zM35.3 70.7h.8v.8h-.8zM24.1 70.1h.8v.8h-.8zM32.1 80.6h.8v.8h-.8zM26.5 68.7h.8v.8h-.8zM32.0 71.7h.8v.8h-.8zM25.3 67.1h.8v.8h-.8zM28.3 76.6h.8v.8h-.8zM32.1 67.5h.8v.8h-.8zM29.9 80.6h.8v.8h-.8zM33.6 67.6h.8v.8h-.8zM30.0 62.0h.8v.8h-.8zM33.2 71.0h.8v.8h-.8zM29.2 72.1h.8v.8h-.8zM26.0 68.2h.8v.8h-.8zM30.7 78.8h.8v.8h-.8zM31.6 80.0h.8v.8h-.8zM28.1 71.1h.8v.8h-.8zM22.5 79.2h.8v.8h-.8zM33.9 70.3h.8v.8h-.8zM29.4 80.2h.8v.8h-.8zM32.6 67.0h.8v.8h-.8zM26.3 69.3h.8v.8h-.8zM24.6 68.3h.8v.8h-.8zM32.6 70.0h.8v.8h-.8zM28.8 65.8h.8v.8h-.8zM30.1 74.6h.8v.8h-.8zM20.2 76.7h.8v.8h-.8zM24.8 71.9h.8v.8h-.8zM34.1 64.9h.8v.8h-.8zM35.8 76.3h.8v.8h-.8zM25.6 67.1h.8v.8h-.8zM19.9 77.5h.8v.8h-.8zM27.8 72.4h.8v.8h-.8zM32.8 75.2h.8v.8h-.8zM27.8 70.5h.8v.8h-.8zM29.2 71.4h.8v.8h-.8zM20.1 69.7h.8v.8h-.8zM22.9 67.5h.8v.8h-.8zM30.9 67.9h.8v.8h-.8zM30.3 76.3h.8v.8h-.8zM23.7 64.2h.8v.8h-.8zM26.1 67.0h.8v.8h-.8zM33.1 74.8h.8v.8h-.8zM22.7 72.3h.8v.8h-.8zM31.2 67.4h.8v.8h-.8zM29.0 77.1h.8v.8h-.8zM24.0 71.3h.8v.8h-.8zM24.5 67.4h.8v.8h-.8zM35.3 70.9h.8v.8h-.8zM20.9 67.5h.8v.8h-.8zM29.0 80.8h.8v.8h-.8zM25.3 64.9h.8v.8h-.8zM22.2 76.1h.8v.8h-.8zM21.9 65.7h.8v.8h-.8zM25.2 72.2h.8v.8h-.8zM31.9 66.8h.8v.8h-.8zM25.7 74.7h.8v.8h-.8zM33.8 68.2h.8v.8h-.8zM32.6 76.5h.8v.8h-.8zM25.6 69.2h.8v.8h-.8zM25.6 64.6h.8v.8h-.8zM20.3 64.3h.8v.8h-.8zM35.4 79.1h.8v.8h-.8zM30.2 74.0h.8v.8h-.8zM28.8 69.0h.8v.8h-.8zM29.6 73.1h.8v.8h-.8zM35.4 74.5h.8v.8h-.8zM21.7 68.6h.8v.8h-.8zM23.9 69.1h.8v.8h-.8zM32.3 69.7h.8v.8h-.8zM30.4 65.8h.8v.8h-.8zM32.9 78.0h.8v.8h-.8zM31.1 65.3h.8v.8h-.8zM27.2 76.8h.8v.8h-.8zM32.6 73.6h.8v.8h-.8zM32.2 77.5h.8v.8h-.8zM31.4 64.4h.8v.8h-.8zM32.3 72.0h.8v.8h-.8zM35.5 73.1h.8v.8h-.8zM33.8 70.6h.8v.8h-.8zM22.6 67.6h.8v.8h-.8zM23.1 78.2h.8v.8h-.8zM34.2 77.1h.8v.8h-.8zM27.8 78.5h.8v.8h-.8zM32.1 64.6h.8v.8h-.8zM25.0 70.2h.8v.8h-.8zM29.3 65.0h.8v.8h-.8zM32.3 75.1h.8v.8h-.8zM27.9 74.9h.8v.8h-.8zM28.3 76.1h.8v.8h-.8zM24.5 64.5h.8v.8h-.8zM31.0 77.9h.8v.8h-.8zM32.5 67.2h.8v.8h-.8zM31.0 65.9h.8v.8h-.8zM35.0 68.1h.8v.8h-.8zM27.0 75.4h.8v.8h-.8zM22.1 73.2h.8v.8h-.8z"/><path fill-opacity="0.68" d="M24.3 71.6h.8v.8h-.8zM21.7 71.6h.8v.8h-.8zM31.5 72.4h.8v.8h-.8zM21.0 63.5h.8v.8h-.8zM26.5 67.1h.8v.8h-.8zM24.6 76.9h.8v.8h-.8zM29.6 74.5h.8v.8h-.8zM27.7 80.0h.8v.8h-.8zM25.5 65.1h.8v.8h-.8zM28.0 65.0h.8v.8h-.8zM21.6 63.5h.8v.8h-.8zM31.1 63.7h.8v.8h-.8zM20.7 76.6h.8v.8h-.8zM27.2 70.7h.8v.8h-.8zM33.1 78.0h.8v.8h-.8zM20.5 71.9h.8v.8h-.8zM33.6 65.1h.8v.8h-.8zM22.0 77.6h.8v.8h-.8zM19.4 74.6h.8v.8h-.8zM20.4 63.1h.8v.8h-.8zM26.4 76.0h.8v.8h-.8zM26.6 67.8h.8v.8h-.8zM33.2 76.1h.8v.8h-.8zM30.0 75.7h.8v.8h-.8zM26.1 64.9h.8v.8h-.8zM28.2 68.0h.8v.8h-.8zM27.8 67.7h.8v.8h-.8zM32.2 74.9h.8v.8h-.8zM35.4 71.2h.8v.8h-.8zM20.4 69.5h.8v.8h-.8zM25.7 68.9h.8v.8h-.8zM35.4 65.8h.8v.8h-.8zM22.4 64.0h.8v.8h-.8zM23.0 73.7h.8v.8h-.8zM28.0 77.7h.8v.8h-.8zM26.0 74.0h.8v.8h-.8zM22.4 75.1h.8v.8h-.8zM32.1 70.8h.8v.8h-.8zM27.7 72.1h.8v.8h-.8zM28.2 79.4h.8v.8h-.8zM19.9 73.6h.8v.8h-.8zM34.3 67.7h.8v.8h-.8zM32.9 75.0h.8v.8h-.8zM30.1 72.0h.8v.8h-.8zM20.4 64.3h.8v.8h-.8zM29.5 77.1h.8v.8h-.8zM31.7 73.1h.8v.8h-.8zM25.2 76.4h.8v.8h-.8zM26.6 69.7h.8v.8h-.8zM35.2 72.8h.8v.8h-.8zM28.4 72.4h.8v.8h-.8zM30.2 79.0h.8v.8h-.8zM32.2 74.2h.8v.8h-.8zM27.8 75.6h.8v.8h-.8zM33.6 64.9h.8v.8h-.8zM21.9 69.0h.8v.8h-.8zM33.6 72.3h.8v.8h-.8zM27.9 65.9h.8v.8h-.8zM23.2 66.1h.8v.8h-.8zM31.9 77.0h.8v.8h-.8zM20.7 79.0h.8v.8h-.8zM34.3 77.5h.8v.8h-.8zM24.5 64.5h.8v.8h-.8zM28.0 78.3h.8v.8h-.8zM29.9 80.3h.8v.8h-.8zM33.1 65.5h.8v.8h-.8zM26.7 74.5h.8v.8h-.8zM25.3 79.1h.8v.8h-.8zM22.4 74.3h.8v.8h-.8zM27.0 66.6h.8v.8h-.8zM27.0 69.1h.8v.8h-.8zM26.6 76.5h.8v.8h-.8zM32.1 78.2h.8v.8h-.8zM25.2 75.9h.8v.8h-.8zM35.1 79.7h.8v.8h-.8zM31.3 75.4h.8v.8h-.8zM22.7 66.5h.8v.8h-.8zM25.3 68.7h.8v.8h-.8zM20.8 70.8h.8v.8h-.8zM23.0 72.2h.8v.8h-.8zM29.7 72.6h.8v.8h-.8zM21.0 79.4h.8v.8h-.8zM22.0 66.4h.8v.8h-.8zM30.6 78.3h.8v.8h-.8zM20.7 66.7h.8v.8h-.8zM33.3 75.9h.8v.8h-.8zM23.1 70.8h.8v.8h-.8zM23.4 76.6h.8v.8h-.8zM19.2 78.7h.8v.8h-.8zM34.1 79.8h.8v.8h-.8zM31.6 72.6h.8v.8h-.8zM34.2 65.7h.8v.8h-.8zM21.9 72.4h.8v.8h-.8zM31.4 77.1h.8v.8h-.8zM22.6 67.0h.8v.8h-.8zM24.0 77.9h.8v.8h-.8zM20.4 64.4h.8v.8h-.8zM24.5 73.8h.8v.8h-.8zM29.0 68.4h.8v.8h-.8zM23.1 77.7h.8v.8h-.8zM33.8 69.7h.8v.8h-.8zM25.7 75.1h.8v.8h-.8zM27.8 79.4h.8v.8h-.8zM27.9 70.5h.8v.8h-.8zM22.8 79.8h.8v.8h-.8zM24.1 79.8h.8v.8h-.8zM30.7 68.3h.8v.8h-.8zM32.8 77.0h.8v.8h-.8zM30.4 80.4h.8v.8h-.8zM22.6 80.2h.8v.8h-.8zM38.3 77.9h.8v.8h-.8zM20.0 75.6h.8v.8h-.8zM25.9 64.7h.8v.8h-.8zM36.1 73.9h.8v.8h-.8zM24.1 73.8h.8v.8h-.8zM22.1 77.9h.8v.8h-.8zM28.1 63.3h.8v.8h-.8zM25.7 72.6h.8v.8h-.8zM24.3 68.4h.8v.8h-.8zM21.7 68.9h.8v.8h-.8zM32.5 64.0h.8v.8h-.8zM20.0 78.1h.8v.8h-.8zM34.3 65.8h.8v.8h-.8zM38.0 72.2h.8v.8h-.8zM33.6 66.3h.8v.8h-.8zM29.1 69.4h.8v.8h-.8zM22.0 77.0h.8v.8h-.8zM23.5 74.3h.8v.8h-.8zM28.2 76.0h.8v.8h-.8zM24.4 76.4h.8v.8h-.8zM36.5 74.0h.8v.8h-.8zM28.9 71.3h.8v.8h-.8zM20.5 69.8h.8v.8h-.8zM26.3 80.3h.8v.8h-.8zM29.8 65.8h.8v.8h-.8zM37.4 69.4h.8v.8h-.8zM27.6 68.3h.8v.8h-.8zM26.3 74.9h.8v.8h-.8zM33.2 66.3h.8v.8h-.8zM23.1 70.3h.8v.8h-.8zM30.5 76.8h.8v.8h-.8zM24.7 72.9h.8v.8h-.8zM29.2 66.0h.8v.8h-.8zM34.7 65.6h.8v.8h-.8zM28.8 73.3h.8v.8h-.8zM25.0 80.2h.8v.8h-.8zM27.6 70.1h.8v.8h-.8zM33.1 68.5h.8v.8h-.8zM36.2 76.7h.8v.8h-.8zM35.7 80.6h.8v.8h-.8zM23.5 76.7h.8v.8h-.8zM24.8 74.1h.8v.8h-.8zM27.7 68.2h.8v.8h-.8zM20.1 76.9h.8v.8h-.8zM27.1 72.7h.8v.8h-.8zM33.6 69.4h.8v.8h-.8zM28.3 76.4h.8v.8h-.8zM25.0 72.2h.8v.8h-.8zM31.7 74.6h.8v.8h-.8zM26.4 63.9h.8v.8h-.8zM31.4 66.1h.8v.8h-.8zM27.2 78.9h.8v.8h-.8zM30.6 65.4h.8v.8h-.8zM26.8 71.6h.8v.8h-.8zM24.6 69.1h.8v.8h-.8zM29.5 73.2h.8v.8h-.8zM31.5 68.0h.8v.8h-.8zM25.3 78.1h.8v.8h-.8zM19.9 76.4h.8v.8h-.8zM20.0 73.9h.8v.8h-.8zM35.2 78.8h.8v.8h-.8zM32.0 74.7h.8v.8h-.8zM36.7 68.3h.8v.8h-.8zM34.3 76.9h.8v.8h-.8zM25.7 62.9h.8v.8h-.8zM27.0 71.6h.8v.8h-.8zM27.3 67.3h.8v.8h-.8zM31.9 78.8h.8v.8h-.8zM36.9 64.8h.8v.8h-.8zM23.3 72.1h.8v.8h-.8zM19.6 65.2h.8v.8h-.8zM30.2 78.8h.8v.8h-.8zM23.6 68.4h.8v.8h-.8zM38.0 67.0h.8v.8h-.8zM34.3 67.4h.8v.8h-.8zM26.6 65.3h.8v.8h-.8zM35.1 75.8h.8v.8h-.8zM24.0 68.9h.8v.8h-.8zM21.1 75.1h.8v.8h-.8zM21.6 80.0h.8v.8h-.8zM24.4 78.7h.8v.8h-.8zM21.9 80.5h.8v.8h-.8zM31.1 68.5h.8v.8h-.8zM29.3 73.7h.8v.8h-.8zM23.2 69.7h.8v.8h-.8zM28.7 75.3h.8v.8h-.8zM19.7 71.9h.8v.8h-.8zM26.5 80.3h.8v.8h-.8zM22.3 69.1h.8v.8h-.8zM21.2 79.2h.8v.8h-.8zM29.3 73.9h.8v.8h-.8zM35.3 73.7h.8v.8h-.8zM26.3 78.7h.8v.8h-.8zM24.6 68.7h.8v.8h-.8zM28.2 80.4h.8v.8h-.8zM30.4 65.7h.8v.8h-.8zM24.7 70.4h.8v.8h-.8zM32.1 69.0h.8v.8h-.8zM24.0 75.0h.8v.8h-.8zM28.7 64.5h.8v.8h-.8zM21.2 79.7h.8v.8h-.8zM34.3 71.5h.8v.8h-.8zM21.8 74.3h.8v.8h-.8zM30.3 71.8h.8v.8h-.8zM33.2 76.1h.8v.8h-.8zM22.1 74.1h.8v.8h-.8zM32.4 79.2h.8v.8h-.8zM26.4 77.9h.8v.8h-.8zM33.5 74.2h.8v.8h-.8zM35.5 71.2h.8v.8h-.8zM35.0 71.0h.8v.8h-.8zM35.1 70.8h.8v.8h-.8zM22.9 78.1h.8v.8h-.8zM32.9 77.1h.8v.8h-.8zM29.7 79.2h.8v.8h-.8zM20.1 75.6h.8v.8h-.8zM22.8 67.8h.8v.8h-.8zM25.8 66.6h.8v.8h-.8zM25.0 64.4h.8v.8h-.8zM33.1 63.8h.8v.8h-.8zM24.6 65.3h.8v.8h-.8zM20.2 75.7h.8v.8h-.8zM28.0 76.2h.8v.8h-.8zM19.7 80.6h.8v.8h-.8zM27.8 74.7h.8v.8h-.8zM25.0 67.2h.8v.8h-.8zM19.3 80.4h.8v.8h-.8zM27.4 77.8h.8v.8h-.8zM32.4 76.9h.8v.8h-.8zM37.4 77.6h.8v.8h-.8zM33.6 67.0h.8v.8h-.8zM19.9 79.9h.8v.8h-.8zM22.2 77.1h.8v.8h-.8zM28.0 78.7h.8v.8h-.8zM24.5 76.3h.8v.8h-.8zM24.2 75.6h.8v.8h-.8zM29.5 69.2h.8v.8h-.8zM27.7 74.3h.8v.8h-.8zM23.4 74.0h.8v.8h-.8zM25.7 72.7h.8v.8h-.8zM29.1 76.4h.8v.8h-.8zM29.6 67.4h.8v.8h-.8zM30.4 74.6h.8v.8h-.8zM34.1 64.9h.8v.8h-.8zM24.1 76.4h.8v.8h-.8zM32.7 70.1h.8v.8h-.8zM27.3 76.0h.8v.8h-.8zM32.5 73.3h.8v.8h-.8zM23.7 73.1h.8v.8h-.8zM34.8 76.7h.8v.8h-.8zM31.5 68.2h.8v.8h-.8zM19.6 74.8h.8v.8h-.8zM26.6 64.6h.8v.8h-.8zM35.5 74.2h.8v.8h-.8zM21.6 70.8h.8v.8h-.8zM26.2 76.2h.8v.8h-.8zM35.0 76.8h.8v.8h-.8zM36.3 76.9h.8v.8h-.8zM26.9 76.6h.8v.8h-.8zM29.1 75.1h.8v.8h-.8zM33.1 71.8h.8v.8h-.8zM23.1 78.5h.8v.8h-.8zM20.8 70.5h.8v.8h-.8zM30.1 74.8h.8v.8h-.8zM23.7 70.7h.8v.8h-.8zM28.3 76.4h.8v.8h-.8zM21.8 67.4h.8v.8h-.8zM33.1 65.8h.8v.8h-.8zM30.4 64.9h.8v.8h-.8zM32.4 79.3h.8v.8h-.8zM32.8 73.5h.8v.8h-.8zM26.2 67.7h.8v.8h-.8zM35.9 71.9h.8v.8h-.8zM31.0 75.7h.8v.8h-.8zM33.5 64.4h.8v.8h-.8zM23.0 76.3h.8v.8h-.8zM26.0 70.0h.8v.8h-.8zM26.3 77.1h.8v.8h-.8zM29.3 70.4h.8v.8h-.8zM34.2 79.2h.8v.8h-.8zM31.0 73.0h.8v.8h-.8zM29.5 65.8h.8v.8h-.8zM22.5 67.7h.8v.8h-.8zM24.2 77.5h.8v.8h-.8zM35.9 72.9h.8v.8h-.8zM33.5 65.0h.8v.8h-.8zM26.7 74.2h.8v.8h-.8zM22.5 68.7h.8v.8h-.8zM27.4 72.0h.8v.8h-.8zM26.7 72.4h.8v.8h-.8zM26.8 76.1h.8v.8h-.8zM32.3 72.1h.8v.8h-.8zM22.6 67.7h.8v.8h-.8zM32.2 77.9h.8v.8h-.8zM21.2 67.0h.8v.8h-.8zM26.4 67.7h.8v.8h-.8zM31.8 63.0h.8v.8h-.8zM29.6 67.3h.8v.8h-.8zM20.3 68.8h.8v.8h-.8zM23.1 67.0h.8v.8h-.8zM25.2 72.3h.8v.8h-.8zM31.9 67.7h.8v.8h-.8zM35.3 71.7h.8v.8h-.8zM25.0 69.7h.8v.8h-.8zM32.6 79.0h.8v.8h-.8zM30.9 64.3h.8v.8h-.8zM34.9 72.9h.8v.8h-.8zM19.4 77.8h.8v.8h-.8zM29.7 76.3h.8v.8h-.8zM31.3 70.3h.8v.8h-.8zM20.6 76.2h.8v.8h-.8zM32.5 66.9h.8v.8h-.8zM19.6 65.9h.8v.8h-.8zM34.0 76.3h.8v.8h-.8zM27.4 76.4h.8v.8h-.8zM33.1 66.2h.8v.8h-.8zM27.2 74.8h.8v.8h-.8zM32.4 73.1h.8v.8h-.8zM28.3 70.0h.8v.8h-.8zM24.8 70.0h.8v.8h-.8zM23.1 75.6h.8v.8h-.8zM31.6 65.6h.8v.8h-.8zM24.5 80.3h.8v.8h-.8zM21.0 67.4h.8v.8h-.8zM25.7 80.0h.8v.8h-.8zM31.4 73.9h.8v.8h-.8zM22.6 78.9h.8v.8h-.8zM28.5 78.2h.8v.8h-.8zM20.6 76.8h.8v.8h-.8zM35.6 76.6h.8v.8h-.8zM26.8 66.8h.8v.8h-.8zM36.2 78.9h.8v.8h-.8zM19.7 71.6h.8v.8h-.8zM34.9 76.9h.8v.8h-.8zM29.4 65.4h.8v.8h-.8zM21.4 75.3h.8v.8h-.8zM22.4 75.2h.8v.8h-.8zM25.7 75.1h.8v.8h-.8zM20.1 76.0h.8v.8h-.8zM23.4 65.5h.8v.8h-.8zM22.7 78.5h.8v.8h-.8zM22.3 80.0h.8v.8h-.8zM24.8 80.3h.8v.8h-.8zM37.5 70.4h.8v.8h-.8zM23.6 62.2h.8v.8h-.8zM31.9 67.5h.8v.8h-.8zM22.4 72.7h.8v.8h-.8zM23.5 77.0h.8v.8h-.8zM27.2 74.1h.8v.8h-.8zM24.9 65.3h.8v.8h-.8zM30.5 76.6h.8v.8h-.8zM25.3 69.1h.8v.8h-.8zM26.5 69.6h.8v.8h-.8zM25.3 62.2h.8v.8h-.8zM34.2 66.2h.8v.8h-.8zM26.3 73.9h.8v.8h-.8zM28.2 66.1h.8v.8h-.8zM30.1 78.4h.8v.8h-.8zM26.8 65.3h.8v.8h-.8zM20.8 72.9h.8v.8h-.8zM32.5 65.8h.8v.8h-.8zM30.8 76.7h.8v.8h-.8zM28.6 69.8h.8v.8h-.8zM30.7 66.0h.8v.8h-.8zM25.4 79.4h.8v.8h-.8zM28.1 72.3h.8v.8h-.8zM30.1 75.2h.8v.8h-.8zM24.0 78.8h.8v.8h-.8zM30.0 72.8h.8v.8h-.8z"/><path fill-opacity="0.68" d="M30.9 70.6h.8v.8h-.8zM25.3 69.7h.8v.8h-.8zM28.2 72.1h.8v.8h-.8zM19.7 72.1h.8v.8h-.8zM25.0 80.2h.8v.8h-.8zM21.3 72.6h.8v.8h-.8zM35.1 80.8h.8v.8h-.8zM30.1 67.6h.8v.8h-.8zM33.8 74.7h.8v.8h-.8zM26.5 79.9h.8v.8h-.8zM38.5 71.7h.8v.8h-.8zM21.1 68.4h.8v.8h-.8zM19.2 73.1h.8v.8h-.8zM26.3 77.6h.8v.8h-.8zM27.9 63.4h.8v.8h-.8zM21.3 64.2h.8v.8h-.8zM23.5 68.7h.8v.8h-.8zM33.5 69.8h.8v.8h-.8zM30.4 72.8h.8v.8h-.8zM27.7 72.0h.8v.8h-.8zM25.2 68.9h.8v.8h-.8zM33.6 70.4h.8v.8h-.8zM21.1 64.7h.8v.8h-.8zM31.0 77.7h.8v.8h-.8zM24.0 73.8h.8v.8h-.8zM28.0 74.1h.8v.8h-.8zM30.3 67.1h.8v.8h-.8zM21.6 73.8h.8v.8h-.8zM23.8 78.3h.8v.8h-.8zM30.4 63.8h.8v.8h-.8zM35.4 79.2h.8v.8h-.8zM36.5 69.4h.8v.8h-.8zM27.6 80.2h.8v.8h-.8zM33.8 77.2h.8v.8h-.8zM21.8 67.2h.8v.8h-.8zM29.7 67.9h.8v.8h-.8zM26.9 67.7h.8v.8h-.8zM22.8 79.8h.8v.8h-.8zM25.1 69.9h.8v.8h-.8zM20.7 77.3h.8v.8h-.8zM22.3 77.0h.8v.8h-.8zM19.9 77.5h.8v.8h-.8zM34.1 75.5h.8v.8h-.8zM19.4 77.8h.8v.8h-.8zM25.1 63.9h.8v.8h-.8zM23.7 73.0h.8v.8h-.8zM27.1 70.4h.8v.8h-.8zM26.2 77.5h.8v.8h-.8zM21.1 67.0h.8v.8h-.8zM37.1 69.4h.8v.8h-.8zM27.8 76.8h.8v.8h-.8zM21.8 68.3h.8v.8h-.8zM30.0 75.3h.8v.8h-.8zM22.2 65.9h.8v.8h-.8zM29.2 69.6h.8v.8h-.8zM23.2 79.4h.8v.8h-.8zM21.0 78.4h.8v.8h-.8zM37.0 68.3h.8v.8h-.8zM30.9 73.5h.8v.8h-.8zM32.7 70.8h.8v.8h-.8zM19.7 74.5h.8v.8h-.8zM20.6 77.1h.8v.8h-.8zM31.2 73.7h.8v.8h-.8zM30.7 67.9h.8v.8h-.8zM34.9 67.2h.8v.8h-.8zM19.5 62.0h.8v.8h-.8zM30.1 74.2h.8v.8h-.8zM22.0 78.3h.8v.8h-.8zM32.2 79.3h.8v.8h-.8zM27.3 62.5h.8v.8h-.8zM25.2 65.6h.8v.8h-.8zM29.8 75.1h.8v.8h-.8zM30.5 73.0h.8v.8h-.8zM28.1 75.7h.8v.8h-.8zM36.8 63.3h.8v.8h-.8zM20.0 71.3h.8v.8h-.8zM34.7 78.8h.8v.8h-.8zM28.4 70.2h.8v.8h-.8zM31.5 64.8h.8v.8h-.8zM31.7 77.2h.8v.8h-.8zM30.6 77.2h.8v.8h-.8zM21.0 65.9h.8v.8h-.8zM24.5 65.1h.8v.8h-.8zM29.6 73.1h.8v.8h-.8zM30.2 78.9h.8v.8h-.8zM20.9 70.3h.8v.8h-.8zM23.7 72.1h.8v.8h-.8zM34.3 64.2h.8v.8h-.8zM32.9 72.0h.8v.8h-.8zM27.8 68.4h.8v.8h-.8zM29.8 71.8h.8v.8h-.8zM30.6 65.6h.8v.8h-.8zM23.3 75.9h.8v.8h-.8zM31.6 80.2h.8v.8h-.8zM32.8 75.1h.8v.8h-.8zM31.3 76.1h.8v.8h-.8zM27.3 80.6h.8v.8h-.8zM33.5 70.9h.8v.8h-.8zM26.6 77.7h.8v.8h-.8zM34.9 71.3h.8v.8h-.8zM24.7 76.4h.8v.8h-.8zM22.1 78.3h.8v.8h-.8zM19.9 74.7h.8v.8h-.8zM35.0 78.1h.8v.8h-.8zM24.3 64.1h.8v.8h-.8zM24.1 64.6h.8v.8h-.8zM30.7 71.1h.8v.8h-.8zM29.3 78.9h.8v.8h-.8zM35.8 67.4h.8v.8h-.8zM25.1 73.6h.8v.8h-.8zM20.4 75.0h.8v.8h-.8zM27.8 65.7h.8v.8h-.8zM29.7 66.2h.8v.8h-.8zM32.2 74.3h.8v.8h-.8zM33.7 68.6h.8v.8h-.8zM22.1 73.3h.8v.8h-.8zM25.9 66.3h.8v.8h-.8zM27.6 77.4h.8v.8h-.8zM30.0 67.8h.8v.8h-.8zM32.3 72.9h.8v.8h-.8zM20.9 77.9h.8v.8h-.8zM25.6 69.3h.8v.8h-.8zM19.2 74.9h.8v.8h-.8zM23.1 71.8h.8v.8h-.8zM24.3 72.0h.8v.8h-.8zM20.8 67.9h.8v.8h-.8zM24.2 73.2h.8v.8h-.8zM32.3 74.7h.8v.8h-.8zM31.3 67.7h.8v.8h-.8zM31.6 69.0h.8v.8h-.8zM24.2 77.1h.8v.8h-.8zM29.7 78.4h.8v.8h-.8zM22.5 78.7h.8v.8h-.8zM22.6 77.9h.8v.8h-.8zM23.0 78.6h.8v.8h-.8zM24.9 67.4h.8v.8h-.8zM20.7 70.7h.8v.8h-.8zM19.4 63.1h.8v.8h-.8zM28.8 65.1h.8v.8h-.8zM34.1 76.8h.8v.8h-.8zM21.9 71.9h.8v.8h-.8zM23.5 75.1h.8v.8h-.8zM22.1 73.6h.8v.8h-.8zM21.6 74.8h.8v.8h-.8zM31.1 69.4h.8v.8h-.8zM27.6 72.8h.8v.8h-.8zM26.2 72.5h.8v.8h-.8zM38.0 73.9h.8v.8h-.8zM31.9 72.5h.8v.8h-.8zM26.6 77.5h.8v.8h-.8zM30.1 76.5h.8v.8h-.8zM38.1 79.2h.8v.8h-.8zM23.9 65.4h.8v.8h-.8zM23.4 72.8h.8v.8h-.8zM24.6 68.6h.8v.8h-.8zM24.9 77.8h.8v.8h-.8zM35.3 76.7h.8v.8h-.8zM33.9 66.9h.8v.8h-.8zM33.3 67.2h.8v.8h-.8zM33.8 74.2h.8v.8h-.8zM27.4 68.1h.8v.8h-.8zM21.5 68.0h.8v.8h-.8zM27.1 69.3h.8v.8h-.8zM33.1 70.0h.8v.8h-.8zM22.0 72.6h.8v.8h-.8zM33.2 64.5h.8v.8h-.8zM20.7 68.0h.8v.8h-.8zM34.1 73.6h.8v.8h-.8zM25.6 67.0h.8v.8h-.8zM28.6 61.1h.8v.8h-.8zM30.2 80.4h.8v.8h-.8zM23.4 76.0h.8v.8h-.8zM22.1 64.7h.8v.8h-.8zM29.9 64.7h.8v.8h-.8zM26.3 64.7h.8v.8h-.8zM29.0 69.8h.8v.8h-.8zM32.8 73.2h.8v.8h-.8zM31.1 70.1h.8v.8h-.8zM32.8 74.1h.8v.8h-.8zM25.2 67.2h.8v.8h-.8zM28.6 66.7h.8v.8h-.8zM25.5 66.5h.8v.8h-.8zM31.8 65.6h.8v.8h-.8zM30.4 71.0h.8v.8h-.8zM31.1 66.2h.8v.8h-.8zM37.6 68.6h.8v.8h-.8zM34.0 76.1h.8v.8h-.8zM35.5 74.2h.8v.8h-.8zM25.6 75.4h.8v.8h-.8zM33.1 68.8h.8v.8h-.8zM30.3 73.9h.8v.8h-.8zM29.4 65.4h.8v.8h-.8zM28.5 79.9h.8v.8h-.8zM28.8 76.0h.8v.8h-.8zM23.7 76.9h.8v.8h-.8zM30.2 74.2h.8v.8h-.8zM35.4 76.9h.8v.8h-.8zM27.5 68.8h.8v.8h-.8zM31.8 72.4h.8v.8h-.8zM30.7 69.8h.8v.8h-.8zM26.3 75.2h.8v.8h-.8zM33.2 72.1h.8v.8h-.8zM26.9 75.6h.8v.8h-.8zM29.2 69.9h.8v.8h-.8zM23.6 69.3h.8v.8h-.8zM23.8 71.6h.8v.8h-.8zM25.0 75.4h.8v.8h-.8zM28.1 80.0h.8v.8h-.8zM30.7 75.1h.8v.8h-.8zM23.3 62.8h.8v.8h-.8zM30.1 79.8h.8v.8h-.8zM29.2 65.6h.8v.8h-.8zM25.6 74.7h.8v.8h-.8zM27.6 77.2h.8v.8h-.8zM32.2 64.8h.8v.8h-.8zM20.4 66.6h.8v.8h-.8zM33.2 70.8h.8v.8h-.8zM34.6 70.8h.8v.8h-.8zM25.3 68.7h.8v.8h-.8zM28.1 74.0h.8v.8h-.8zM31.2 78.3h.8v.8h-.8zM26.1 75.7h.8v.8h-.8zM34.2 73.3h.8v.8h-.8zM22.0 70.6h.8v.8h-.8zM35.4 78.1h.8v.8h-.8zM21.8 71.0h.8v.8h-.8zM24.2 72.6h.8v.8h-.8zM30.6 75.7h.8v.8h-.8zM24.0 71.1h.8v.8h-.8zM25.6 80.6h.8v.8h-.8zM19.2 67.5h.8v.8h-.8zM22.8 74.1h.8v.8h-.8zM23.3 74.7h.8v.8h-.8zM25.1 74.2h.8v.8h-.8zM33.0 70.5h.8v.8h-.8zM30.2 61.9h.8v.8h-.8zM31.5 73.7h.8v.8h-.8zM30.8 68.1h.8v.8h-.8zM30.2 71.2h.8v.8h-.8zM36.3 61.1h.8v.8h-.8zM23.8 78.3h.8v.8h-.8zM22.1 74.3h.8v.8h-.8zM30.6 70.1h.8v.8h-.8zM21.9 71.6h.8v.8h-.8zM24.8 71.9h.8v.8h-.8zM29.0 69.1h.8v.8h-.8zM23.1 74.3h.8v.8h-.8zM30.7 78.6h.8v.8h-.8zM23.5 76.6h.8v.8h-.8zM31.5 68.7h.8v.8h-.8zM29.3 66.3h.8v.8h-.8zM30.6 73.6h.8v.8h-.8zM27.2 73.7h.8v.8h-.8zM24.4 63.3h.8v.8h-.8zM26.0 70.0h.8v.8h-.8zM31.8 68.1h.8v.8h-.8zM26.3 75.9h.8v.8h-.8zM23.1 73.5h.8v.8h-.8zM32.9 76.3h.8v.8h-.8zM22.5 72.9h.8v.8h-.8zM27.0 71.1h.8v.8h-.8zM21.9 75.6h.8v.8h-.8zM24.5 75.2h.8v.8h-.8zM28.9 75.7h.8v.8h-.8zM23.1 71.3h.8v.8h-.8zM29.4 79.5h.8v.8h-.8zM34.3 78.5h.8v.8h-.8zM21.9 72.8h.8v.8h-.8zM35.2 77.9h.8v.8h-.8zM25.8 67.4h.8v.8h-.8zM30.1 71.0h.8v.8h-.8zM21.4 75.7h.8v.8h-.8zM25.0 74.9h.8v.8h-.8zM28.5 69.5h.8v.8h-.8zM33.1 78.4h.8v.8h-.8zM34.4 80.5h.8v.8h-.8zM32.4 63.3h.8v.8h-.8zM23.8 65.3h.8v.8h-.8zM29.0 80.3h.8v.8h-.8zM29.6 79.1h.8v.8h-.8zM29.2 68.0h.8v.8h-.8zM28.4 68.0h.8v.8h-.8zM35.7 70.1h.8v.8h-.8zM32.8 61.2h.8v.8h-.8zM23.4 64.0h.8v.8h-.8zM20.2 75.6h.8v.8h-.8zM29.2 76.4h.8v.8h-.8zM24.8 70.4h.8v.8h-.8zM32.7 79.7h.8v.8h-.8zM20.5 77.5h.8v.8h-.8zM27.8 70.3h.8v.8h-.8zM35.4 72.2h.8v.8h-.8zM27.5 79.4h.8v.8h-.8zM34.9 70.7h.8v.8h-.8zM33.0 66.3h.8v.8h-.8zM35.8 64.9h.8v.8h-.8zM29.9 77.6h.8v.8h-.8zM23.9 72.8h.8v.8h-.8zM24.3 68.0h.8v.8h-.8zM27.3 72.3h.8v.8h-.8zM32.6 80.4h.8v.8h-.8zM29.0 75.0h.8v.8h-.8zM25.8 68.1h.8v.8h-.8zM29.2 68.3h.8v.8h-.8zM23.0 80.3h.8v.8h-.8zM29.9 79.3h.8v.8h-.8zM25.8 74.2h.8v.8h-.8zM28.3 63.4h.8v.8h-.8zM24.4 72.6h.8v.8h-.8zM23.0 77.7h.8v.8h-.8zM22.3 72.1h.8v.8h-.8zM22.0 66.7h.8v.8h-.8zM21.3 68.5h.8v.8h-.8zM35.9 72.9h.8v.8h-.8zM20.4 73.4h.8v.8h-.8zM25.0 76.2h.8v.8h-.8zM20.5 69.7h.8v.8h-.8zM28.1 77.6h.8v.8h-.8zM31.7 79.1h.8v.8h-.8zM29.9 69.5h.8v.8h-.8zM20.1 72.0h.8v.8h-.8zM25.9 73.4h.8v.8h-.8zM20.9 77.2h.8v.8h-.8zM25.4 66.3h.8v.8h-.8zM25.4 73.3h.8v.8h-.8zM21.1 66.8h.8v.8h-.8zM35.0 73.8h.8v.8h-.8zM23.4 77.5h.8v.8h-.8zM20.7 78.6h.8v.8h-.8zM23.8 68.9h.8v.8h-.8zM36.3 69.6h.8v.8h-.8zM30.3 69.0h.8v.8h-.8zM31.2 73.4h.8v.8h-.8zM24.1 75.4h.8v.8h-.8zM31.6 66.1h.8v.8h-.8zM36.0 70.4h.8v.8h-.8zM25.0 72.2h.8v.8h-.8zM24.0 75.5h.8v.8h-.8zM24.1 67.1h.8v.8h-.8zM23.2 77.3h.8v.8h-.8zM39.7 74.7h.8v.8h-.8zM28.0 78.3h.8v.8h-.8zM20.5 76.1h.8v.8h-.8zM21.3 80.3h.8v.8h-.8zM32.7 65.8h.8v.8h-.8zM27.1 77.4h.8v.8h-.8zM30.1 79.7h.8v.8h-.8zM33.8 63.9h.8v.8h-.8zM29.0 76.6h.8v.8h-.8zM20.6 75.3h.8v.8h-.8zM34.4 66.0h.8v.8h-.8zM20.5 66.9h.8v.8h-.8zM21.1 71.4h.8v.8h-.8zM34.0 71.6h.8v.8h-.8zM29.6 69.7h.8v.8h-.8zM35.1 76.1h.8v.8h-.8zM25.8 67.8h.8v.8h-.8zM32.2 73.4h.8v.8h-.8zM22.1 70.5h.8v.8h-.8zM29.1 74.1h.8v.8h-.8zM30.9 78.1h.8v.8h-.8zM33.4 68.1h.8v.8h-.8zM22.3 68.4h.8v.8h-.8zM36.6 72.0h.8v.8h-.8zM21.1 71.7h.8v.8h-.8zM22.5 71.9h.8v.8h-.8zM26.4 77.9h.8v.8h-.8zM21.9 73.3h.8v.8h-.8zM25.6 71.8h.8v.8h-.8zM34.0 68.9h.8v.8h-.8zM34.0 79.7h.8v.8h-.8zM27.1 63.8h.8v.8h-.8zM24.9 76.6h.8v.8h-.8zM21.7 70.4h.8v.8h-.8zM28.3 80.0h.8v.8h-.8zM33.7 77.6h.8v.8h-.8zM34.8 65.9h.8v.8h-.8zM21.0 77.6h.8v.8h-.8zM28.9 76.8h.8v.8h-.8z"/><path fill-opacity="0.5" d="M40.5 65.7h.8v.8h-.8zM43.1 63.8h.8v.8h-.8zM31.5 64.2h.8v.8h-.8zM32.5 63.8h.8v.8h-.8zM31.5 62.6h.8v.8h-.8zM35.0 63.0h.8v.8h-.8zM33.4 62.7h.8v.8h-.8zM36.6 65.0h.8v.8h-.8zM29.8 63.9h.8v.8h-.8zM34.8 63.0h.8v.8h-.8zM37.9 61.3h.8v.8h-.8zM34.4 62.5h.8v.8h-.8zM37.4 64.8h.8v.8h-.8zM35.7 57.9h.8v.8h-.8zM32.5 63.8h.8v.8h-.8zM35.3 64.8h.8v.8h-.8zM33.5 63.2h.8v.8h-.8zM29.2 64.6h.8v.8h-.8zM38.3 60.2h.8v.8h-.8zM34.0 63.5h.8v.8h-.8zM36.3 62.9h.8v.8h-.8zM36.3 64.5h.8v.8h-.8zM37.2 61.2h.8v.8h-.8zM34.4 62.3h.8v.8h-.8zM35.0 63.5h.8v.8h-.8z"/><path fill-opacity="0.5" d="M34.4 68.3h.8v.8h-.8zM34.0 62.3h.8v.8h-.8zM28.7 66.0h.8v.8h-.8zM34.3 64.5h.8v.8h-.8zM30.8 62.5h.8v.8h-.8zM36.6 62.0h.8v.8h-.8zM34.1 64.0h.8v.8h-.8zM38.8 64.1h.8v.8h-.8zM33.5 62.2h.8v.8h-.8zM31.4 65.3h.8v.8h-.8zM35.1 63.8h.8v.8h-.8zM29.4 60.0h.8v.8h-.8zM33.2 63.9h.8v.8h-.8zM31.3 62.8h.8v.8h-.8zM32.4 62.7h.8v.8h-.8zM33.9 67.7h.8v.8h-.8zM33.7 66.7h.8v.8h-.8zM37.3 65.0h.8v.8h-.8zM32.5 60.7h.8v.8h-.8zM32.2 62.1h.8v.8h-.8zM35.7 62.4h.8v.8h-.8zM36.7 60.7h.8v.8h-.8zM35.3 63.4h.8v.8h-.8zM32.7 64.1h.8v.8h-.8zM30.9 63.8h.8v.8h-.8z"/><path fill-opacity="0.5" d="M29.1 63.1h.8v.8h-.8zM36.7 64.7h.8v.8h-.8zM37.1 62.3h.8v.8h-.8zM33.9 65.1h.8v.8h-.8zM32.0 67.7h.8v.8h-.8zM34.5 59.6h.8v.8h-.8zM39.0 64.9h.8v.8h-.8zM33.3 60.8h.8v.8h-.8zM34.0 66.1h.8v.8h-.8zM32.3 64.9h.8v.8h-.8zM28.5 62.2h.8v.8h-.8zM34.6 64.6h.8v.8h-.8zM31.6 66.2h.8v.8h-.8zM36.2 64.0h.8v.8h-.8zM36.0 65.8h.8v.8h-.8zM29.1 63.1h.8v.8h-.8zM34.7 67.2h.8v.8h-.8zM36.5 64.8h.8v.8h-.8zM34.5 60.2h.8v.8h-.8zM39.6 63.5h.8v.8h-.8zM32.7 63.6h.8v.8h-.8zM35.6 66.6h.8v.8h-.8zM32.0 64.3h.8v.8h-.8zM35.1 65.3h.8v.8h-.8zM34.7 66.0h.8v.8h-.8z"/><path fill-opacity="0.5" d="M36.2 61.8h.8v.8h-.8zM32.7 63.7h.8v.8h-.8zM31.2 61.9h.8v.8h-.8zM32.9 63.6h.8v.8h-.8zM34.5 65.4h.8v.8h-.8zM37.0 65.2h.8v.8h-.8zM31.1 61.4h.8v.8h-.8zM27.0 62.3h.8v.8h-.8zM28.2 63.4h.8v.8h-.8zM32.5 60.8h.8v.8h-.8zM38.5 62.3h.8v.8h-.8zM27.8 62.4h.8v.8h-.8zM36.5 62.8h.8v.8h-.8zM28.6 62.7h.8v.8h-.8zM36.1 62.1h.8v.8h-.8zM28.1 59.6h.8v.8h-.8zM33.5 62.1h.8v.8h-.8zM30.6 61.0h.8v.8h-.8zM37.1 63.1h.8v.8h-.8zM36.4 64.7h.8v.8h-.8zM32.9 61.2h.8v.8h-.8zM36.2 65.3h.8v.8h-.8zM35.4 68.8h.8v.8h-.8zM38.5 64.6h.8v.8h-.8zM33.3 60.5h.8v.8h-.8z"/><path fill-opacity="0.5" d="M40.8 64.5h.8v.8h-.8zM33.5 59.0h.8v.8h-.8zM35.1 65.9h.8v.8h-.8zM34.3 61.2h.8v.8h-.8zM37.7 61.3h.8v.8h-.8zM34.5 65.2h.8v.8h-.8zM34.2 62.9h.8v.8h-.8zM35.7 67.2h.8v.8h-.8zM35.9 62.6h.8v.8h-.8zM35.4 66.8h.8v.8h-.8zM34.5 62.2h.8v.8h-.8zM31.5 66.0h.8v.8h-.8zM34.0 61.5h.8v.8h-.8zM37.9 66.1h.8v.8h-.8zM35.0 62.7h.8v.8h-.8zM28.1 64.9h.8v.8h-.8zM31.5 62.5h.8v.8h-.8zM33.4 61.9h.8v.8h-.8zM29.6 64.4h.8v.8h-.8zM34.6 62.9h.8v.8h-.8zM30.3 65.7h.8v.8h-.8zM32.5 61.8h.8v.8h-.8zM36.2 60.7h.8v.8h-.8zM34.5 64.4h.8v.8h-.8zM36.6 62.5h.8v.8h-.8z"/><path fill-opacity="0.5" d="M31.7 63.4h.8v.8h-.8zM31.0 63.1h.8v.8h-.8zM35.0 62.3h.8v.8h-.8zM34.3 65.6h.8v.8h-.8zM37.9 62.5h.8v.8h-.8zM35.2 64.0h.8v.8h-.8zM32.6 62.4h.8v.8h-.8zM35.7 61.5h.8v.8h-.8zM35.3 61.1h.8v.8h-.8zM31.6 63.0h.8v.8h-.8zM32.7 63.3h.8v.8h-.8zM37.6 64.6h.8v.8h-.8zM34.7 64.2h.8v.8h-.8zM30.0 65.0h.8v.8h-.8zM35.5 65.1h.8v.8h-.8zM34.0 66.1h.8v.8h-.8zM30.2 60.9h.8v.8h-.8zM35.2 60.6h.8v.8h-.8zM32.2 64.8h.8v.8h-.8zM31.6 63.6h.8v.8h-.8zM33.9 60.3h.8v.8h-.8zM32.8 62.6h.8v.8h-.8zM35.9 66.1h.8v.8h-.8zM32.3 63.1h.8v.8h-.8zM34.3 60.9h.8v.8h-.8z"/><path fill-opacity="0.2" d="M38.5 52.9h.8v.8h-.8zM23.4 36.1h.8v.8h-.8zM20.3 49.4h.8v.8h-.8zM41.2 33.8h.8v.8h-.8zM36.4 33.3h.8v.8h-.8zM36.3 42.3h.8v.8h-.8zM26.2 43.0h.8v.8h-.8zM23.5 32.8h.8v.8h-.8zM25.9 43.8h.8v.8h-.8zM28.6 33.6h.8v.8h-.8zM35.2 48.0h.8v.8h-.8zM32.1 35.1h.8v.8h-.8zM23.4 60.7h.8v.8h-.8zM20.1 56.9h.8v.8h-.8zM39.5 56.7h.8v.8h-.8zM30.1 59.6h.8v.8h-.8zM35.3 38.0h.8v.8h-.8zM20.3 45.3h.8v.8h-.8zM40.8 42.3h.8v.8h-.8zM30.7 60.3h.8v.8h-.8zM29.8 36.4h.8v.8h-.8zM21.7 43.3h.8v.8h-.8zM24.0 58.5h.8v.8h-.8zM27.7 42.7h.8v.8h-.8zM43.2 50.5h.8v.8h-.8zM43.5 41.0h.8v.8h-.8zM31.5 38.0h.8v.8h-.8zM20.5 55.0h.8v.8h-.8zM36.9 51.2h.8v.8h-.8zM29.5 35.9h.8v.8h-.8zM28.1 56.9h.8v.8h-.8zM34.3 57.1h.8v.8h-.8zM30.6 45.9h.8v.8h-.8zM25.9 61.1h.8v.8h-.8zM31.7 55.6h.8v.8h-.8zM44.6 58.0h.8v.8h-.8zM45.0 47.8h.8v.8h-.8zM40.2 61.6h.8v.8h-.8zM22.0 37.0h.8v.8h-.8zM37.1 51.7h.8v.8h-.8zM41.7 40.3h.8v.8h-.8zM25.7 50.0h.8v.8h-.8zM21.2 52.3h.8v.8h-.8zM40.7 55.4h.8v.8h-.8zM27.4 61.5h.8v.8h-.8zM42.9 53.7h.8v.8h-.8zM30.1 60.8h.8v.8h-.8zM22.8 56.1h.8v.8h-.8zM21.5 39.3h.8v.8h-.8zM34.9 58.5h.8v.8h-.8z"/><path fill-opacity="0.2" d="M32.2 49.0h.8v.8h-.8zM29.0 61.6h.8v.8h-.8zM32.8 51.4h.8v.8h-.8zM45.6 59.6h.8v.8h-.8zM45.7 36.7h.8v.8h-.8zM36.0 36.7h.8v.8h-.8zM33.1 61.3h.8v.8h-.8zM21.0 51.9h.8v.8h-.8zM43.3 51.6h.8v.8h-.8zM31.3 43.4h.8v.8h-.8zM34.1 47.0h.8v.8h-.8zM30.9 37.0h.8v.8h-.8zM22.1 39.7h.8v.8h-.8zM37.2 61.4h.8v.8h-.8zM36.3 34.7h.8v.8h-.8zM44.5 38.3h.8v.8h-.8zM43.9 61.3h.8v.8h-.8zM37.2 38.6h.8v.8h-.8zM24.9 60.5h.8v.8h-.8zM43.7 56.3h.8v.8h-.8zM43.0 48.0h.8v.8h-.8zM45.8 37.5h.8v.8h-.8zM41.7 33.3h.8v.8h-.8zM37.2 48.6h.8v.8h-.8zM41.6 42.5h.8v.8h-.8zM25.8 59.3h.8v.8h-.8zM45.3 39.5h.8v.8h-.8zM22.2 39.6h.8v.8h-.8zM27.3 48.9h.8v.8h-.8zM42.0 35.0h.8v.8h-.8zM42.3 52.5h.8v.8h-.8zM35.9 35.7h.8v.8h-.8zM42.7 36.3h.8v.8h-.8zM38.0 41.2h.8v.8h-.8zM31.8 52.5h.8v.8h-.8zM36.7 42.8h.8v.8h-.8zM27.2 50.0h.8v.8h-.8zM25.3 47.1h.8v.8h-.8zM36.9 44.7h.8v.8h-.8zM39.4 44.1h.8v.8h-.8zM38.9 50.2h.8v.8h-.8zM38.5 49.3h.8v.8h-.8zM24.2 55.1h.8v.8h-.8zM29.4 34.0h.8v.8h-.8zM23.1 52.2h.8v.8h-.8zM40.7 44.4h.8v.8h-.8zM24.8 55.2h.8v.8h-.8zM42.3 37.6h.8v.8h-.8zM20.6 58.9h.8v.8h-.8zM27.9 56.8h.8v.8h-.8z"/><path fill-opacity="0.2" d="M22.7 43.8h.8v.8h-.8zM30.5 56.7h.8v.8h-.8zM22.8 53.1h.8v.8h-.8zM40.9 54.1h.8v.8h-.8zM28.7 41.5h.8v.8h-.8zM45.9 32.5h.8v.8h-.8zM39.1 59.6h.8v.8h-.8zM30.4 43.6h.8v.8h-.8zM24.1 42.7h.8v.8h-.8zM43.5 54.0h.8v.8h-.8zM44.9 33.2h.8v.8h-.8zM32.0 50.6h.8v.8h-.8zM30.3 41.0h.8v.8h-.8zM38.6 43.8h.8v.8h-.8zM36.2 62.0h.8v.8h-.8zM20.5 45.7h.8v.8h-.8zM33.9 50.6h.8v.8h-.8zM27.0 56.2h.8v.8h-.8zM28.9 45.4h.8v.8h-.8zM25.7 58.8h.8v.8h-.8zM35.7 60.5h.8v.8h-.8zM34.7 45.7h.8v.8h-.8zM39.4 42.4h.8v.8h-.8zM38.1 60.7h.8v.8h-.8zM22.8 43.7h.8v.8h-.8zM21.0 44.6h.8v.8h-.8zM33.5 45.1h.8v.8h-.8zM42.7 46.3h.8v.8h-.8zM42.5 46.6h.8v.8h-.8zM41.5 47.1h.8v.8h-.8zM23.0 36.3h.8v.8h-.8zM43.3 61.7h.8v.8h-.8zM23.2 38.2h.8v.8h-.8zM29.3 46.4h.8v.8h-.8zM30.0 35.5h.8v.8h-.8zM44.7 45.8h.8v.8h-.8zM44.2 37.1h.8v.8h-.8zM46.0 34.0h.8v.8h-.8zM38.6 37.9h.8v.8h-.8zM43.9 59.3h.8v.8h-.8zM32.7 40.8h.8v.8h-.8zM40.1 47.2h.8v.8h-.8zM39.4 44.5h.8v.8h-.8zM39.7 42.6h.8v.8h-.8zM42.5 38.0h.8v.8h-.8zM41.9 34.6h.8v.8h-.8zM20.7 32.6h.8v.8h-.8zM39.5 58.4h.8v.8h-.8zM23.1 34.4h.8v.8h-.8zM40.4 52.4h.8v.8h-.8z"/><path fill-opacity="0.2" d="M42.4 47.9h.8v.8h-.8zM25.2 46.9h.8v.8h-.8zM23.5 61.7h.8v.8h-.8zM33.2 49.5h.8v.8h-.8zM43.5 61.9h.8v.8h-.8zM30.8 36.3h.8v.8h-.8zM24.7 48.7h.8v.8h-.8zM41.4 59.8h.8v.8h-.8zM30.3 56.3h.8v.8h-.8zM32.2 45.9h.8v.8h-.8zM33.2 49.7h.8v.8h-.8zM23.1 40.6h.8v.8h-.8zM23.9 39.5h.8v.8h-.8zM44.6 58.0h.8v.8h-.8zM44.3 44.0h.8v.8h-.8zM28.8 54.1h.8v.8h-.8zM20.1 50.4h.8v.8h-.8zM28.9 41.9h.8v.8h-.8zM36.5 51.5h.8v.8h-.8zM37.0 48.0h.8v.8h-.8zM36.7 48.6h.8v.8h-.8zM35.1 45.8h.8v.8h-.8zM24.4 53.7h.8v.8h-.8zM33.0 39.1h.8v.8h-.8zM42.4 41.8h.8v.8h-.8zM31.6 46.7h.8v.8h-.8zM45.7 46.8h.8v.8h-.8zM37.9 34.3h.8v.8h-.8zM39.0 39.2h.8v.8h-.8zM43.6 49.0h.8v.8h-.8zM42.8 56.2h.8v.8h-.8zM22.3 59.0h.8v.8h-.8zM23.7 38.2h.8v.8h-.8zM20.7 43.2h.8v.8h-.8zM43.6 40.3h.8v.8h-.8zM31.7 33.4h.8v.8h-.8zM28.9 34.3h.8v.8h-.8zM32.9 34.3h.8v.8h-.8zM25.3 55.3h.8v.8h-.8zM28.4 43.5h.8v.8h-.8zM27.0 57.8h.8v.8h-.8zM45.9 37.8h.8v.8h-.8zM27.1 38.1h.8v.8h-.8zM31.4 51.5h.8v.8h-.8zM44.0 32.4h.8v.8h-.8zM36.4 46.4h.8v.8h-.8zM44.8 40.8h.8v.8h-.8zM21.0 51.8h.8v.8h-.8zM23.7 40.0h.8v.8h-.8zM36.5 42.8h.8v.8h-.8z"/><path fill-opacity="0.2" d="M25.4 39.3h.8v.8h-.8zM24.2 61.3h.8v.8h-.8zM23.1 55.5h.8v.8h-.8zM30.2 46.7h.8v.8h-.8zM44.7 52.8h.8v.8h-.8zM40.2 37.2h.8v.8h-.8zM41.3 37.0h.8v.8h-.8zM45.4 41.5h.8v.8h-.8zM37.4 38.7h.8v.8h-.8zM22.3 57.3h.8v.8h-.8zM40.6 37.7h.8v.8h-.8zM22.2 40.8h.8v.8h-.8zM45.4 41.4h.8v.8h-.8zM26.4 35.2h.8v.8h-.8zM45.9 47.0h.8v.8h-.8zM39.9 45.8h.8v.8h-.8zM23.0 52.5h.8v.8h-.8zM40.4 36.3h.8v.8h-.8zM33.1 55.6h.8v.8h-.8zM40.8 35.9h.8v.8h-.8zM26.7 44.9h.8v.8h-.8zM24.5 60.0h.8v.8h-.8zM40.5 45.4h.8v.8h-.8zM38.0 34.7h.8v.8h-.8zM44.7 51.9h.8v.8h-.8zM23.1 39.7h.8v.8h-.8zM33.2 57.3h.8v.8h-.8zM34.7 58.8h.8v.8h-.8zM22.1 56.7h.8v.8h-.8zM23.0 40.3h.8v.8h-.8zM45.3 33.7h.8v.8h-.8zM42.2 37.4h.8v.8h-.8zM37.7 52.2h.8v.8h-.8zM26.8 43.5h.8v.8h-.8zM30.0 50.8h.8v.8h-.8zM35.7 47.6h.8v.8h-.8zM40.0 53.4h.8v.8h-.8zM21.9 61.1h.8v.8h-.8zM23.0 53.9h.8v.8h-.8zM22.5 54.1h.8v.8h-.8zM39.0 47.5h.8v.8h-.8zM29.8 42.5h.8v.8h-.8zM43.7 55.9h.8v.8h-.8zM25.5 59.9h.8v.8h-.8zM40.7 59.9h.8v.8h-.8zM25.4 51.3h.8v.8h-.8zM30.1 59.0h.8v.8h-.8zM25.2 44.1h.8v.8h-.8zM40.1 53.5h.8v.8h-.8zM21.6 45.2h.8v.8h-.8z"/><path fill-opacity="0.2" d="M25.3 49.6h.8v.8h-.8zM31.7 52.3h.8v.8h-.8zM42.0 39.1h.8v.8h-.8zM35.2 60.5h.8v.8h-.8zM44.8 50.0h.8v.8h-.8zM22.1 47.3h.8v.8h-.8zM34.9 41.5h.8v.8h-.8zM39.8 57.5h.8v.8h-.8zM28.8 36.8h.8v.8h-.8zM29.3 49.6h.8v.8h-.8zM39.5 34.5h.8v.8h-.8zM23.0 44.4h.8v.8h-.8zM30.6 40.9h.8v.8h-.8zM28.3 46.5h.8v.8h-.8zM20.2 60.4h.8v.8h-.8zM21.9 60.2h.8v.8h-.8zM30.6 39.9h.8v.8h-.8zM39.1 58.7h.8v.8h-.8zM41.0 47.5h.8v.8h-.8zM45.7 37.2h.8v.8h-.8zM42.8 35.4h.8v.8h-.8zM37.6 43.9h.8v.8h-.8zM36.5 34.4h.8v.8h-.8zM40.6 54.7h.8v.8h-.8zM32.6 58.0h.8v.8h-.8zM23.4 34.6h.8v.8h-.8zM32.0 42.8h.8v.8h-.8zM43.2 42.6h.8v.8h-.8zM41.6 46.2h.8v.8h-.8zM39.1 39.0h.8v.8h-.8zM33.4 57.3h.8v.8h-.8zM29.1 51.6h.8v.8h-.8zM39.0 49.2h.8v.8h-.8zM24.2 49.5h.8v.8h-.8zM25.0 54.9h.8v.8h-.8zM28.5 41.1h.8v.8h-.8zM36.8 53.7h.8v.8h-.8zM37.7 54.1h.8v.8h-.8zM23.5 59.8h.8v.8h-.8zM36.4 38.6h.8v.8h-.8zM42.3 59.9h.8v.8h-.8zM30.2 58.9h.8v.8h-.8zM28.3 44.5h.8v.8h-.8zM25.3 38.0h.8v.8h-.8zM20.1 52.3h.8v.8h-.8zM27.7 40.3h.8v.8h-.8zM35.8 54.4h.8v.8h-.8zM39.4 52.5h.8v.8h-.8zM40.3 44.5h.8v.8h-.8zM24.9 41.9h.8v.8h-.8z"/><path fill-opacity="0.25" d="M27.1 52.6h.8v.8h-.8zM27.5 60.0h.8v.8h-.8zM36.3 53.2h.8v.8h-.8zM33.4 60.1h.8v.8h-.8zM35.4 43.2h.8v.8h-.8zM35.7 62.1h.8v.8h-.8zM40.1 50.3h.8v.8h-.8zM32.3 58.5h.8v.8h-.8zM29.7 51.8h.8v.8h-.8zM32.9 61.7h.8v.8h-.8zM24.7 62.9h.8v.8h-.8zM19.6 50.0h.8v.8h-.8zM22.1 56.8h.8v.8h-.8zM38.6 46.0h.8v.8h-.8zM30.8 48.2h.8v.8h-.8zM26.4 62.7h.8v.8h-.8zM42.6 57.4h.8v.8h-.8zM41.4 55.4h.8v.8h-.8zM41.9 56.6h.8v.8h-.8zM31.2 47.6h.8v.8h-.8zM37.2 60.0h.8v.8h-.8zM26.6 59.9h.8v.8h-.8zM22.0 51.8h.8v.8h-.8zM38.8 54.3h.8v.8h-.8zM38.1 58.0h.8v.8h-.8zM25.0 47.2h.8v.8h-.8zM21.0 52.8h.8v.8h-.8zM28.3 55.2h.8v.8h-.8zM27.0 55.6h.8v.8h-.8zM28.2 60.9h.8v.8h-.8zM34.6 52.9h.8v.8h-.8zM22.2 61.3h.8v.8h-.8zM34.3 62.0h.8v.8h-.8zM22.9 51.8h.8v.8h-.8zM23.5 49.7h.8v.8h-.8zM29.3 62.0h.8v.8h-.8zM19.7 59.7h.8v.8h-.8zM40.9 59.7h.8v.8h-.8zM26.3 61.5h.8v.8h-.8zM37.0 53.8h.8v.8h-.8zM35.4 50.3h.8v.8h-.8zM30.4 56.5h.8v.8h-.8zM19.7 52.9h.8v.8h-.8zM33.2 44.9h.8v.8h-.8zM40.4 59.7h.8v.8h-.8zM29.0 60.6h.8v.8h-.8zM31.3 54.7h.8v.8h-.8zM23.9 55.5h.8v.8h-.8zM36.4 57.7h.8v.8h-.8zM34.5 59.7h.8v.8h-.8zM40.8 57.9h.8v.8h-.8zM27.1 62.9h.8v.8h-.8zM42.5 53.9h.8v.8h-.8zM21.7 53.7h.8v.8h-.8zM29.2 49.8h.8v.8h-.8zM43.4 37.5h.8v.8h-.8zM28.6 54.2h.8v.8h-.8zM32.6 59.0h.8v.8h-.8zM30.3 47.0h.8v.8h-.8zM33.6 44.2h.8v.8h-.8zM42.2 44.2h.8v.8h-.8zM43.6 60.9h.8v.8h-.8zM43.6 50.9h.8v.8h-.8zM39.8 55.8h.8v.8h-.8zM34.1 62.6h.8v.8h-.8zM22.3 57.1h.8v.8h-.8zM24.5 59.6h.8v.8h-.8zM23.2 53.1h.8v.8h-.8zM43.1 60.8h.8v.8h-.8zM24.0 56.7h.8v.8h-.8zM29.3 54.7h.8v.8h-.8zM38.6 58.7h.8v.8h-.8zM20.9 48.4h.8v.8h-.8zM38.0 55.6h.8v.8h-.8zM36.6 60.3h.8v.8h-.8zM21.6 30.7h.8v.8h-.8zM21.6 20.7h.8v.8h-.8zM21.1 28.1h.8v.8h-.8zM23.5 30.5h.8v.8h-.8zM21.4 34.4h.8v.8h-.8zM22.6 28.0h.8v.8h-.8zM20.8 30.2h.8v.8h-.8zM22.1 19.3h.8v.8h-.8zM21.8 27.9h.8v.8h-.8zM20.6 25.0h.8v.8h-.8zM22.8 28.9h.8v.8h-.8zM20.6 32.0h.8v.8h-.8zM21.8 30.8h.8v.8h-.8zM20.1 30.0h.8v.8h-.8zM23.0 24.5h.8v.8h-.8zM23.1 21.9h.8v.8h-.8zM19.7 20.0h.8v.8h-.8zM19.3 16.7h.8v.8h-.8zM23.4 25.6h.8v.8h-.8zM23.0 25.6h.8v.8h-.8zM19.6 36.5h.8v.8h-.8zM21.5 32.8h.8v.8h-.8zM20.0 27.3h.8v.8h-.8zM20.1 24.2h.8v.8h-.8zM19.5 16.8h.8v.8h-.8zM20.0 35.3h.8v.8h-.8zM19.6 41.2h.8v.8h-.8zM19.3 48.6h.8v.8h-.8zM20.1 15.0h.8v.8h-.8zM19.2 22.7h.8v.8h-.8zM20.1 53.5h.8v.8h-.8zM19.8 73.0h.8v.8h-.8zM19.5 29.7h.8v.8h-.8zM19.3 46.7h.8v.8h-.8zM19.6 43.0h.8v.8h-.8z"/><path fill-opacity="0.25" d="M19.8 34.5h.8v.8h-.8zM23.9 62.9h.8v.8h-.8zM28.0 61.9h.8v.8h-.8zM33.9 63.5h.8v.8h-.8zM20.3 56.9h.8v.8h-.8zM21.3 53.3h.8v.8h-.8zM20.6 57.1h.8v.8h-.8zM39.7 51.8h.8v.8h-.8zM29.6 62.3h.8v.8h-.8zM30.1 61.5h.8v.8h-.8zM39.3 52.7h.8v.8h-.8zM24.0 54.1h.8v.8h-.8zM19.9 61.5h.8v.8h-.8zM23.4 55.9h.8v.8h-.8zM30.6 59.9h.8v.8h-.8zM25.1 60.8h.8v.8h-.8zM36.8 50.9h.8v.8h-.8zM19.9 61.1h.8v.8h-.8zM25.4 60.2h.8v.8h-.8zM40.3 57.3h.8v.8h-.8zM27.1 45.2h.8v.8h-.8zM25.2 61.4h.8v.8h-.8zM28.2 61.6h.8v.8h-.8zM21.6 59.3h.8v.8h-.8zM39.2 50.7h.8v.8h-.8zM31.9 61.9h.8v.8h-.8zM31.5 52.7h.8v.8h-.8zM25.8 56.7h.8v.8h-.8zM29.3 50.1h.8v.8h-.8zM19.6 58.9h.8v.8h-.8zM39.9 61.3h.8v.8h-.8zM33.5 53.4h.8v.8h-.8zM34.5 54.3h.8v.8h-.8zM31.9 54.9h.8v.8h-.8zM25.1 63.4h.8v.8h-.8zM24.7 53.5h.8v.8h-.8zM31.4 49.3h.8v.8h-.8zM25.3 61.3h.8v.8h-.8zM34.0 63.3h.8v.8h-.8zM37.6 58.2h.8v.8h-.8zM36.2 41.1h.8v.8h-.8zM41.8 58.3h.8v.8h-.8zM29.8 58.9h.8v.8h-.8zM34.6 42.9h.8v.8h-.8zM40.3 63.1h.8v.8h-.8zM39.9 60.2h.8v.8h-.8zM28.0 61.5h.8v.8h-.8zM42.1 59.8h.8v.8h-.8zM27.7 52.9h.8v.8h-.8zM24.1 59.0h.8v.8h-.8zM29.6 63.5h.8v.8h-.8zM24.2 52.1h.8v.8h-.8zM36.3 63.2h.8v.8h-.8zM20.9 59.5h.8v.8h-.8zM23.9 57.2h.8v.8h-.8zM34.8 60.1h.8v.8h-.8zM35.2 54.6h.8v.8h-.8zM39.8 52.3h.8v.8h-.8zM22.3 46.4h.8v.8h-.8zM27.4 55.7h.8v.8h-.8zM33.5 58.3h.8v.8h-.8zM43.0 57.8h.8v.8h-.8zM22.9 55.9h.8v.8h-.8zM34.1 58.7h.8v.8h-.8zM38.9 63.8h.8v.8h-.8zM35.3 63.1h.8v.8h-.8zM40.3 50.1h.8v.8h-.8zM31.8 62.2h.8v.8h-.8zM22.8 49.7h.8v.8h-.8zM31.5 62.8h.8v.8h-.8zM20.8 57.8h.8v.8h-.8zM28.5 63.7h.8v.8h-.8zM38.7 56.0h.8v.8h-.8zM41.0 49.4h.8v.8h-.8zM20.6 52.0h.8v.8h-.8zM23.3 29.2h.8v.8h-.8zM23.0 32.5h.8v.8h-.8zM23.5 25.1h.8v.8h-.8zM20.6 22.3h.8v.8h-.8zM21.3 30.0h.8v.8h-.8zM21.1 24.8h.8v.8h-.8zM21.7 32.1h.8v.8h-.8zM24.0 31.4h.8v.8h-.8zM21.5 40.4h.8v.8h-.8zM21.1 26.3h.8v.8h-.8zM23.8 27.9h.8v.8h-.8zM23.3 17.6h.8v.8h-.8zM20.4 20.1h.8v.8h-.8zM19.8 22.9h.8v.8h-.8zM19.9 14.8h.8v.8h-.8zM22.3 24.4h.8v.8h-.8zM23.8 24.3h.8v.8h-.8zM22.2 31.7h.8v.8h-.8zM19.6 21.5h.8v.8h-.8zM23.6 29.7h.8v.8h-.8zM20.7 16.3h.8v.8h-.8zM23.0 36.1h.8v.8h-.8zM23.1 30.7h.8v.8h-.8zM20.0 21.4h.8v.8h-.8zM23.6 23.3h.8v.8h-.8zM20.0 76.0h.8v.8h-.8zM20.1 64.0h.8v.8h-.8zM19.8 72.6h.8v.8h-.8zM19.4 60.8h.8v.8h-.8zM19.6 20.5h.8v.8h-.8zM19.5 18.8h.8v.8h-.8zM19.4 24.1h.8v.8h-.8zM20.0 73.8h.8v.8h-.8zM19.7 78.3h.8v.8h-.8zM19.9 45.3h.8v.8h-.8z"/><path fill-opacity="0.25" d="M25.8 55.5h.8v.8h-.8zM21.4 53.6h.8v.8h-.8zM33.3 49.0h.8v.8h-.8zM23.3 61.5h.8v.8h-.8zM26.1 58.6h.8v.8h-.8zM20.9 52.6h.8v.8h-.8zM40.5 41.9h.8v.8h-.8zM24.5 55.4h.8v.8h-.8zM43.1 51.0h.8v.8h-.8zM35.5 46.9h.8v.8h-.8zM27.4 62.8h.8v.8h-.8zM40.8 62.3h.8v.8h-.8zM41.7 51.8h.8v.8h-.8zM30.0 52.1h.8v.8h-.8zM43.6 42.9h.8v.8h-.8zM43.3 59.3h.8v.8h-.8zM23.9 47.9h.8v.8h-.8zM37.1 52.5h.8v.8h-.8zM27.4 63.5h.8v.8h-.8zM32.7 61.8h.8v.8h-.8zM24.1 62.9h.8v.8h-.8zM22.8 49.4h.8v.8h-.8zM42.7 62.3h.8v.8h-.8zM42.8 61.6h.8v.8h-.8zM35.5 57.0h.8v.8h-.8zM29.2 60.0h.8v.8h-.8zM31.3 50.2h.8v.8h-.8zM25.8 55.6h.8v.8h-.8zM36.6 54.3h.8v.8h-.8zM27.5 63.2h.8v.8h-.8zM33.2 53.1h.8v.8h-.8zM31.2 61.0h.8v.8h-.8zM20.2 61.3h.8v.8h-.8zM37.4 60.4h.8v.8h-.8zM33.0 50.8h.8v.8h-.8zM34.2 57.3h.8v.8h-.8zM24.0 54.9h.8v.8h-.8zM29.9 61.7h.8v.8h-.8zM24.3 58.4h.8v.8h-.8zM33.4 62.9h.8v.8h-.8zM41.6 53.9h.8v.8h-.8zM27.1 61.4h.8v.8h-.8zM24.4 46.0h.8v.8h-.8zM31.0 49.6h.8v.8h-.8zM22.2 60.9h.8v.8h-.8zM41.4 56.3h.8v.8h-.8zM22.6 59.9h.8v.8h-.8zM21.4 54.4h.8v.8h-.8zM34.8 59.0h.8v.8h-.8zM27.7 58.1h.8v.8h-.8zM25.5 50.4h.8v.8h-.8zM40.4 51.3h.8v.8h-.8zM22.1 59.7h.8v.8h-.8zM39.9 52.3h.8v.8h-.8zM30.2 54.4h.8v.8h-.8zM33.5 59.8h.8v.8h-.8zM42.5 62.6h.8v.8h-.8zM37.5 51.2h.8v.8h-.8zM41.9 53.9h.8v.8h-.8zM35.4 52.5h.8v.8h-.8zM38.7 43.0h.8v.8h-.8zM25.5 43.9h.8v.8h-.8zM37.4 60.8h.8v.8h-.8zM39.1 61.5h.8v.8h-.8zM39.6 58.3h.8v.8h-.8zM29.2 59.2h.8v.8h-.8zM26.2 54.6h.8v.8h-.8zM39.4 49.9h.8v.8h-.8zM24.2 45.8h.8v.8h-.8zM21.1 63.5h.8v.8h-.8zM19.8 59.5h.8v.8h-.8zM25.9 56.2h.8v.8h-.8zM29.2 54.5h.8v.8h-.8zM22.2 56.8h.8v.8h-.8zM25.1 52.0h.8v.8h-.8zM22.0 31.1h.8v.8h-.8zM19.8 22.5h.8v.8h-.8zM20.8 27.7h.8v.8h-.8zM21.8 30.5h.8v.8h-.8zM21.6 19.2h.8v.8h-.8zM23.9 34.3h.8v.8h-.8zM19.6 29.4h.8v.8h-.8zM22.7 24.8h.8v.8h-.8zM22.7 22.6h.8v.8h-.8zM23.8 30.1h.8v.8h-.8zM23.9 22.6h.8v.8h-.8zM22.8 29.1h.8v.8h-.8zM19.3 28.9h.8v.8h-.8zM19.4 16.7h.8v.8h-.8zM20.2 24.7h.8v.8h-.8zM19.4 22.0h.8v.8h-.8zM21.6 32.0h.8v.8h-.8zM23.6 26.2h.8v.8h-.8zM20.6 19.7h.8v.8h-.8zM23.3 31.0h.8v.8h-.8zM20.7 20.7h.8v.8h-.8zM21.1 22.5h.8v.8h-.8zM21.4 22.8h.8v.8h-.8zM23.8 31.9h.8v.8h-.8zM20.7 25.7h.8v.8h-.8zM19.5 34.4h.8v.8h-.8zM19.6 63.7h.8v.8h-.8zM19.5 40.6h.8v.8h-.8zM20.1 49.8h.8v.8h-.8zM19.3 71.1h.8v.8h-.8zM19.5 42.4h.8v.8h-.8zM19.9 48.3h.8v.8h-.8zM20.0 71.6h.8v.8h-.8zM19.7 24.0h.8v.8h-.8zM19.7 58.7h.8v.8h-.8z"/><path fill-opacity="0.25" d="M36.5 59.0h.8v.8h-.8zM23.3 60.8h.8v.8h-.8zM22.8 57.1h.8v.8h-.8zM42.6 62.8h.8v.8h-.8zM32.5 44.3h.8v.8h-.8zM40.6 62.3h.8v.8h-.8zM35.5 52.4h.8v.8h-.8zM25.6 53.5h.8v.8h-.8zM32.6 46.7h.8v.8h-.8zM39.9 62.2h.8v.8h-.8zM30.5 60.3h.8v.8h-.8zM30.7 58.2h.8v.8h-.8zM39.6 61.3h.8v.8h-.8zM23.7 61.6h.8v.8h-.8zM28.8 62.7h.8v.8h-.8zM22.6 41.8h.8v.8h-.8zM42.0 57.4h.8v.8h-.8zM38.1 63.7h.8v.8h-.8zM40.0 61.3h.8v.8h-.8zM25.1 54.0h.8v.8h-.8zM38.6 58.8h.8v.8h-.8zM28.9 58.1h.8v.8h-.8zM30.7 52.5h.8v.8h-.8zM43.1 59.1h.8v.8h-.8zM38.5 61.8h.8v.8h-.8zM24.7 54.4h.8v.8h-.8zM22.2 53.9h.8v.8h-.8zM25.1 61.2h.8v.8h-.8zM27.0 40.9h.8v.8h-.8zM41.0 62.4h.8v.8h-.8zM36.9 56.3h.8v.8h-.8zM32.2 61.6h.8v.8h-.8zM26.3 58.9h.8v.8h-.8zM34.7 59.0h.8v.8h-.8zM32.2 61.2h.8v.8h-.8zM33.8 58.1h.8v.8h-.8zM25.3 55.5h.8v.8h-.8zM40.6 58.9h.8v.8h-.8zM20.0 49.2h.8v.8h-.8zM34.2 60.2h.8v.8h-.8zM22.4 58.3h.8v.8h-.8zM36.1 63.7h.8v.8h-.8zM24.2 58.5h.8v.8h-.8zM33.3 52.4h.8v.8h-.8zM27.5 55.0h.8v.8h-.8zM33.3 61.4h.8v.8h-.8zM42.6 49.7h.8v.8h-.8zM36.1 50.6h.8v.8h-.8zM41.0 54.1h.8v.8h-.8zM37.0 60.2h.8v.8h-.8zM23.2 56.2h.8v.8h-.8zM23.1 53.3h.8v.8h-.8zM32.2 58.3h.8v.8h-.8zM42.4 61.5h.8v.8h-.8zM31.1 61.7h.8v.8h-.8zM39.8 53.4h.8v.8h-.8zM21.2 55.9h.8v.8h-.8zM33.0 54.3h.8v.8h-.8zM40.1 57.8h.8v.8h-.8zM20.4 54.6h.8v.8h-.8zM24.9 45.5h.8v.8h-.8zM34.8 60.3h.8v.8h-.8zM32.1 62.3h.8v.8h-.8zM40.4 60.1h.8v.8h-.8zM35.0 62.7h.8v.8h-.8zM36.1 59.0h.8v.8h-.8zM35.0 52.2h.8v.8h-.8zM25.2 46.9h.8v.8h-.8zM32.9 54.2h.8v.8h-.8zM36.0 58.0h.8v.8h-.8zM27.6 61.4h.8v.8h-.8zM21.2 55.2h.8v.8h-.8zM36.2 51.1h.8v.8h-.8zM43.3 59.0h.8v.8h-.8zM41.7 54.1h.8v.8h-.8zM23.2 22.2h.8v.8h-.8zM20.8 21.4h.8v.8h-.8zM23.6 30.3h.8v.8h-.8zM19.6 29.3h.8v.8h-.8zM23.0 28.5h.8v.8h-.8zM22.0 27.7h.8v.8h-.8zM22.1 26.2h.8v.8h-.8zM19.2 35.2h.8v.8h-.8zM23.7 28.3h.8v.8h-.8zM19.5 22.5h.8v.8h-.8zM23.7 27.1h.8v.8h-.8zM22.6 29.8h.8v.8h-.8zM20.4 28.7h.8v.8h-.8zM21.9 28.3h.8v.8h-.8zM23.8 33.7h.8v.8h-.8zM21.5 29.5h.8v.8h-.8zM22.4 20.5h.8v.8h-.8zM23.5 37.2h.8v.8h-.8zM23.2 30.3h.8v.8h-.8zM22.6 26.4h.8v.8h-.8zM24.0 28.7h.8v.8h-.8zM21.7 29.4h.8v.8h-.8zM19.3 27.2h.8v.8h-.8zM21.3 27.9h.8v.8h-.8zM23.7 30.3h.8v.8h-.8zM19.4 16.8h.8v.8h-.8zM19.7 29.0h.8v.8h-.8zM20.1 28.9h.8v.8h-.8zM20.0 69.1h.8v.8h-.8zM20.0 63.3h.8v.8h-.8zM19.8 51.7h.8v.8h-.8zM19.5 58.9h.8v.8h-.8zM19.3 50.4h.8v.8h-.8zM19.7 20.6h.8v.8h-.8zM20.1 27.6h.8v.8h-.8z"/><path fill-opacity="0.25" d="M32.8 58.1h.8v.8h-.8zM34.7 59.7h.8v.8h-.8zM21.5 55.6h.8v.8h-.8zM22.9 57.5h.8v.8h-.8zM36.1 40.2h.8v.8h-.8zM23.1 55.5h.8v.8h-.8zM29.0 59.6h.8v.8h-.8zM31.7 61.8h.8v.8h-.8zM38.8 58.2h.8v.8h-.8zM23.0 49.8h.8v.8h-.8zM32.1 61.0h.8v.8h-.8zM28.5 61.9h.8v.8h-.8zM32.7 49.8h.8v.8h-.8zM29.5 56.6h.8v.8h-.8zM32.5 58.4h.8v.8h-.8zM35.2 63.8h.8v.8h-.8zM32.1 45.4h.8v.8h-.8zM35.9 63.8h.8v.8h-.8zM42.1 57.8h.8v.8h-.8zM28.6 40.9h.8v.8h-.8zM26.9 40.8h.8v.8h-.8zM24.1 56.2h.8v.8h-.8zM41.4 55.4h.8v.8h-.8zM36.5 59.3h.8v.8h-.8zM25.7 63.0h.8v.8h-.8zM25.8 61.4h.8v.8h-.8zM21.5 59.9h.8v.8h-.8zM35.1 45.4h.8v.8h-.8zM22.6 57.8h.8v.8h-.8zM20.8 48.6h.8v.8h-.8zM41.2 63.9h.8v.8h-.8zM28.3 56.7h.8v.8h-.8zM26.4 52.2h.8v.8h-.8zM38.2 58.0h.8v.8h-.8zM29.5 51.8h.8v.8h-.8zM38.7 54.7h.8v.8h-.8zM38.4 56.0h.8v.8h-.8zM40.1 61.4h.8v.8h-.8zM24.9 58.0h.8v.8h-.8zM32.3 58.5h.8v.8h-.8zM20.4 49.1h.8v.8h-.8zM36.5 54.9h.8v.8h-.8zM30.8 61.4h.8v.8h-.8zM24.3 47.2h.8v.8h-.8zM37.1 62.5h.8v.8h-.8zM25.6 59.8h.8v.8h-.8zM36.4 60.5h.8v.8h-.8zM33.4 59.6h.8v.8h-.8zM33.5 61.8h.8v.8h-.8zM33.4 63.0h.8v.8h-.8zM42.2 52.9h.8v.8h-.8zM32.3 55.2h.8v.8h-.8zM41.8 58.0h.8v.8h-.8zM30.8 63.0h.8v.8h-.8zM32.6 36.3h.8v.8h-.8zM20.7 62.1h.8v.8h-.8zM23.7 61.8h.8v.8h-.8zM24.2 61.0h.8v.8h-.8zM34.5 45.9h.8v.8h-.8zM34.3 61.7h.8v.8h-.8zM33.0 59.2h.8v.8h-.8zM21.2 46.0h.8v.8h-.8zM43.8 53.3h.8v.8h-.8zM35.4 61.3h.8v.8h-.8zM30.7 46.2h.8v.8h-.8zM32.3 60.1h.8v.8h-.8zM22.0 46.1h.8v.8h-.8zM35.3 48.4h.8v.8h-.8zM36.2 56.7h.8v.8h-.8zM27.6 62.6h.8v.8h-.8zM25.9 56.3h.8v.8h-.8zM22.5 39.2h.8v.8h-.8zM34.6 52.0h.8v.8h-.8zM39.3 53.4h.8v.8h-.8zM40.6 59.1h.8v.8h-.8zM22.1 30.7h.8v.8h-.8zM19.7 28.3h.8v.8h-.8zM20.7 26.2h.8v.8h-.8zM22.2 27.0h.8v.8h-.8zM20.2 25.7h.8v.8h-.8zM21.6 26.5h.8v.8h-.8zM20.8 27.0h.8v.8h-.8zM19.8 35.1h.8v.8h-.8zM19.5 25.3h.8v.8h-.8zM20.2 28.8h.8v.8h-.8zM22.9 22.8h.8v.8h-.8zM22.9 23.5h.8v.8h-.8zM22.4 22.8h.8v.8h-.8zM22.4 22.8h.8v.8h-.8zM20.6 12.6h.8v.8h-.8zM21.8 26.3h.8v.8h-.8zM22.9 28.4h.8v.8h-.8zM23.4 34.8h.8v.8h-.8zM19.6 25.2h.8v.8h-.8zM20.0 25.4h.8v.8h-.8zM23.3 27.1h.8v.8h-.8zM23.4 25.2h.8v.8h-.8zM20.7 23.9h.8v.8h-.8zM23.6 31.8h.8v.8h-.8zM22.4 31.6h.8v.8h-.8zM19.3 46.5h.8v.8h-.8zM19.6 41.0h.8v.8h-.8zM19.9 72.8h.8v.8h-.8zM19.4 78.3h.8v.8h-.8zM19.5 68.6h.8v.8h-.8zM19.7 33.0h.8v.8h-.8zM19.4 46.8h.8v.8h-.8zM20.1 41.9h.8v.8h-.8zM19.2 25.5h.8v.8h-.8zM19.5 43.4h.8v.8h-.8z"/><path fill-opacity="0.25" d="M27.6 51.2h.8v.8h-.8zM42.3 59.0h.8v.8h-.8zM21.0 55.7h.8v.8h-.8zM32.0 59.1h.8v.8h-.8zM36.2 63.6h.8v.8h-.8zM28.4 59.9h.8v.8h-.8zM25.4 63.7h.8v.8h-.8zM39.3 56.3h.8v.8h-.8zM36.0 59.6h.8v.8h-.8zM26.1 62.0h.8v.8h-.8zM42.9 60.2h.8v.8h-.8zM42.6 59.9h.8v.8h-.8zM26.0 57.9h.8v.8h-.8zM19.6 62.9h.8v.8h-.8zM23.2 60.6h.8v.8h-.8zM39.9 62.2h.8v.8h-.8zM32.4 49.9h.8v.8h-.8zM24.3 52.7h.8v.8h-.8zM26.0 46.9h.8v.8h-.8zM35.0 46.8h.8v.8h-.8zM25.5 53.4h.8v.8h-.8zM35.4 60.0h.8v.8h-.8zM25.1 56.1h.8v.8h-.8zM24.5 59.2h.8v.8h-.8zM38.6 53.4h.8v.8h-.8zM41.2 60.0h.8v.8h-.8zM30.2 54.7h.8v.8h-.8zM43.4 51.5h.8v.8h-.8zM35.4 62.4h.8v.8h-.8zM41.3 45.9h.8v.8h-.8zM23.7 47.6h.8v.8h-.8zM43.5 61.8h.8v.8h-.8zM43.8 63.7h.8v.8h-.8zM28.4 59.5h.8v.8h-.8zM42.0 54.2h.8v.8h-.8zM33.2 56.7h.8v.8h-.8zM43.1 50.0h.8v.8h-.8zM20.9 55.5h.8v.8h-.8zM32.8 62.6h.8v.8h-.8zM39.0 63.2h.8v.8h-.8zM32.5 63.7h.8v.8h-.8zM25.3 57.5h.8v.8h-.8zM23.9 47.8h.8v.8h-.8zM33.6 61.6h.8v.8h-.8zM34.0 52.7h.8v.8h-.8zM43.1 63.7h.8v.8h-.8zM21.2 55.7h.8v.8h-.8zM31.8 56.8h.8v.8h-.8zM32.4 62.8h.8v.8h-.8zM22.4 63.0h.8v.8h-.8zM37.4 45.0h.8v.8h-.8zM35.9 61.0h.8v.8h-.8zM26.1 62.8h.8v.8h-.8zM27.0 49.1h.8v.8h-.8zM22.1 48.7h.8v.8h-.8zM33.9 60.9h.8v.8h-.8zM28.1 46.3h.8v.8h-.8zM31.8 61.5h.8v.8h-.8zM25.5 60.4h.8v.8h-.8zM33.2 49.0h.8v.8h-.8zM27.4 62.6h.8v.8h-.8zM32.9 62.4h.8v.8h-.8zM29.5 63.7h.8v.8h-.8zM28.1 56.6h.8v.8h-.8zM21.6 37.4h.8v.8h-.8zM29.3 58.8h.8v.8h-.8zM43.1 50.5h.8v.8h-.8zM29.5 62.9h.8v.8h-.8zM33.6 63.4h.8v.8h-.8zM43.0 61.8h.8v.8h-.8zM42.8 57.6h.8v.8h-.8zM37.7 55.6h.8v.8h-.8zM22.2 55.7h.8v.8h-.8zM34.3 57.7h.8v.8h-.8zM24.8 60.6h.8v.8h-.8zM21.7 28.1h.8v.8h-.8zM22.4 23.4h.8v.8h-.8zM23.7 30.6h.8v.8h-.8zM22.5 31.8h.8v.8h-.8zM23.2 25.0h.8v.8h-.8zM21.7 30.2h.8v.8h-.8zM22.4 15.9h.8v.8h-.8zM21.6 20.3h.8v.8h-.8zM22.2 25.2h.8v.8h-.8zM21.6 23.0h.8v.8h-.8zM21.4 22.3h.8v.8h-.8zM23.6 31.7h.8v.8h-.8zM21.0 29.2h.8v.8h-.8zM23.8 18.0h.8v.8h-.8zM21.8 28.6h.8v.8h-.8zM21.8 22.6h.8v.8h-.8zM20.4 28.0h.8v.8h-.8zM20.2 25.2h.8v.8h-.8zM22.9 24.4h.8v.8h-.8zM19.8 26.9h.8v.8h-.8zM19.6 32.4h.8v.8h-.8zM23.6 31.1h.8v.8h-.8zM23.5 25.1h.8v.8h-.8zM20.5 21.5h.8v.8h-.8zM23.2 32.4h.8v.8h-.8zM19.8 61.1h.8v.8h-.8zM19.5 80.1h.8v.8h-.8zM19.8 44.4h.8v.8h-.8zM19.4 60.1h.8v.8h-.8zM19.4 50.4h.8v.8h-.8zM19.5 19.3h.8v.8h-.8zM19.5 73.5h.8v.8h-.8zM20.0 71.5h.8v.8h-.8zM20.1 70.1h.8v.8h-.8zM19.9 54.5h.8v.8h-.8z"/><path fill-opacity="0.35" d="M48.7 80.7h.8v.8h-.8zM49.5 71.9h.8v.8h-.8zM49.3 78.9h.8v.8h-.8zM40.4 75.7h.8v.8h-.8zM38.0 78.8h.8v.8h-.8zM48.3 79.0h.8v.8h-.8zM36.3 70.3h.8v.8h-.8zM34.4 76.1h.8v.8h-.8zM41.4 78.9h.8v.8h-.8zM42.6 73.7h.8v.8h-.8zM40.1 70.7h.8v.8h-.8zM45.3 68.0h.8v.8h-.8zM45.4 68.8h.8v.8h-.8zM36.5 73.3h.8v.8h-.8zM50.0 74.4h.8v.8h-.8zM37.0 74.3h.8v.8h-.8zM37.8 74.2h.8v.8h-.8zM49.4 77.6h.8v.8h-.8zM43.5 68.4h.8v.8h-.8zM49.2 69.6h.8v.8h-.8zM48.4 80.5h.8v.8h-.8zM49.3 77.7h.8v.8h-.8zM44.9 70.5h.8v.8h-.8zM41.9 77.5h.8v.8h-.8zM63.1 71.3h.8v.8h-.8zM64.3 72.4h.8v.8h-.8zM60.0 71.2h.8v.8h-.8zM65.2 69.3h.8v.8h-.8zM64.9 71.0h.8v.8h-.8zM56.7 72.4h.8v.8h-.8zM65.5 73.0h.8v.8h-.8zM64.9 64.4h.8v.8h-.8zM62.0 66.6h.8v.8h-.8zM67.1 66.2h.8v.8h-.8zM62.7 70.8h.8v.8h-.8zM61.9 69.8h.8v.8h-.8zM61.9 68.5h.8v.8h-.8zM64.2 67.4h.8v.8h-.8zM61.2 67.9h.8v.8h-.8zM65.2 69.6h.8v.8h-.8zM64.8 65.3h.8v.8h-.8zM67.6 68.8h.8v.8h-.8zM62.9 71.8h.8v.8h-.8zM66.9 71.3h.8v.8h-.8zM63.6 66.9h.8v.8h-.8zM57.5 66.8h.8v.8h-.8zM60.2 66.2h.8v.8h-.8zM59.2 70.8h.8v.8h-.8zM63.8 70.7h.8v.8h-.8z"/><path fill-opacity="0.35" d="M37.7 75.2h.8v.8h-.8zM36.0 70.1h.8v.8h-.8zM44.3 78.6h.8v.8h-.8zM35.6 75.1h.8v.8h-.8zM45.2 77.2h.8v.8h-.8zM43.6 73.2h.8v.8h-.8zM43.0 78.2h.8v.8h-.8zM38.2 80.3h.8v.8h-.8zM35.6 75.8h.8v.8h-.8zM39.9 74.7h.8v.8h-.8zM35.3 80.7h.8v.8h-.8zM37.8 75.4h.8v.8h-.8zM43.8 79.4h.8v.8h-.8zM36.5 74.6h.8v.8h-.8zM46.0 69.7h.8v.8h-.8zM48.1 80.4h.8v.8h-.8zM45.7 69.8h.8v.8h-.8zM34.2 79.1h.8v.8h-.8zM38.4 71.3h.8v.8h-.8zM37.0 73.9h.8v.8h-.8zM38.7 68.3h.8v.8h-.8zM47.8 69.4h.8v.8h-.8zM43.4 71.9h.8v.8h-.8zM43.7 77.2h.8v.8h-.8zM66.9 68.6h.8v.8h-.8zM65.6 62.2h.8v.8h-.8zM62.1 70.0h.8v.8h-.8zM66.1 71.4h.8v.8h-.8zM57.9 69.2h.8v.8h-.8zM65.6 68.2h.8v.8h-.8zM60.5 68.7h.8v.8h-.8zM63.9 67.9h.8v.8h-.8zM64.0 64.4h.8v.8h-.8zM60.6 70.1h.8v.8h-.8zM61.3 68.8h.8v.8h-.8zM67.3 68.2h.8v.8h-.8zM69.5 71.8h.8v.8h-.8zM66.1 68.9h.8v.8h-.8zM61.6 69.0h.8v.8h-.8zM64.2 70.9h.8v.8h-.8zM62.2 63.6h.8v.8h-.8zM65.2 68.3h.8v.8h-.8zM63.5 64.1h.8v.8h-.8zM66.4 72.3h.8v.8h-.8zM63.5 69.1h.8v.8h-.8zM66.7 72.6h.8v.8h-.8zM70.1 66.4h.8v.8h-.8zM59.7 72.6h.8v.8h-.8zM62.6 69.7h.8v.8h-.8z"/><path fill-opacity="0.35" d="M38.0 78.2h.8v.8h-.8zM41.2 73.6h.8v.8h-.8zM41.5 80.0h.8v.8h-.8zM40.4 73.7h.8v.8h-.8zM36.8 70.6h.8v.8h-.8zM38.8 73.1h.8v.8h-.8zM39.0 69.0h.8v.8h-.8zM45.3 74.7h.8v.8h-.8zM45.1 71.4h.8v.8h-.8zM40.4 78.2h.8v.8h-.8zM37.7 68.4h.8v.8h-.8zM44.4 76.0h.8v.8h-.8zM44.9 74.8h.8v.8h-.8zM41.0 75.8h.8v.8h-.8zM42.7 76.9h.8v.8h-.8zM42.3 78.8h.8v.8h-.8zM45.8 75.8h.8v.8h-.8zM36.5 78.3h.8v.8h-.8zM34.5 76.5h.8v.8h-.8zM43.7 78.4h.8v.8h-.8zM44.3 78.6h.8v.8h-.8zM42.9 75.6h.8v.8h-.8zM47.0 69.5h.8v.8h-.8zM36.4 68.4h.8v.8h-.8zM63.1 62.5h.8v.8h-.8zM63.3 68.1h.8v.8h-.8zM63.1 66.9h.8v.8h-.8zM68.8 66.5h.8v.8h-.8zM65.3 67.6h.8v.8h-.8zM64.6 69.4h.8v.8h-.8zM59.4 69.6h.8v.8h-.8zM66.7 71.6h.8v.8h-.8zM60.2 67.0h.8v.8h-.8zM67.3 70.6h.8v.8h-.8zM60.0 65.4h.8v.8h-.8zM55.8 69.1h.8v.8h-.8zM62.6 71.5h.8v.8h-.8zM60.4 67.4h.8v.8h-.8zM66.0 70.2h.8v.8h-.8zM60.4 66.9h.8v.8h-.8zM60.6 66.4h.8v.8h-.8zM61.9 68.0h.8v.8h-.8zM60.3 70.0h.8v.8h-.8zM68.6 72.2h.8v.8h-.8zM61.2 68.1h.8v.8h-.8zM59.0 71.6h.8v.8h-.8zM62.5 67.6h.8v.8h-.8zM61.7 71.0h.8v.8h-.8zM58.9 67.4h.8v.8h-.8z"/><path fill-opacity="0.35" d="M42.9 69.6h.8v.8h-.8zM40.8 78.0h.8v.8h-.8zM41.0 76.4h.8v.8h-.8zM46.8 73.8h.8v.8h-.8zM34.8 72.5h.8v.8h-.8zM40.3 80.8h.8v.8h-.8zM48.4 78.2h.8v.8h-.8zM43.8 70.9h.8v.8h-.8zM35.7 68.2h.8v.8h-.8zM48.0 71.0h.8v.8h-.8zM40.8 76.7h.8v.8h-.8zM42.4 78.8h.8v.8h-.8zM42.3 79.3h.8v.8h-.8zM48.8 80.2h.8v.8h-.8zM36.7 77.5h.8v.8h-.8zM42.1 76.6h.8v.8h-.8zM48.5 69.2h.8v.8h-.8zM45.3 78.3h.8v.8h-.8zM45.8 72.1h.8v.8h-.8zM40.7 79.8h.8v.8h-.8zM37.7 68.6h.8v.8h-.8zM43.0 72.5h.8v.8h-.8zM41.5 73.3h.8v.8h-.8zM37.2 76.5h.8v.8h-.8zM60.0 65.8h.8v.8h-.8zM63.3 68.0h.8v.8h-.8zM68.6 69.4h.8v.8h-.8zM60.8 72.1h.8v.8h-.8zM58.9 66.6h.8v.8h-.8zM62.0 73.2h.8v.8h-.8zM60.2 70.6h.8v.8h-.8zM64.0 71.2h.8v.8h-.8zM69.2 67.7h.8v.8h-.8zM64.2 63.6h.8v.8h-.8zM64.7 66.5h.8v.8h-.8zM65.3 70.6h.8v.8h-.8zM65.3 66.3h.8v.8h-.8zM62.4 66.9h.8v.8h-.8zM63.9 66.2h.8v.8h-.8zM64.6 66.4h.8v.8h-.8zM67.7 72.0h.8v.8h-.8zM61.3 64.5h.8v.8h-.8zM66.7 65.1h.8v.8h-.8zM64.4 67.7h.8v.8h-.8zM65.2 70.8h.8v.8h-.8zM66.1 65.2h.8v.8h-.8zM60.4 70.5h.8v.8h-.8zM57.5 66.4h.8v.8h-.8zM65.4 65.9h.8v.8h-.8z"/><path fill-opacity="0.35" d="M37.5 72.3h.8v.8h-.8zM49.8 68.4h.8v.8h-.8zM47.7 79.0h.8v.8h-.8zM47.3 77.2h.8v.8h-.8zM47.9 78.9h.8v.8h-.8zM48.4 73.0h.8v.8h-.8zM36.6 74.5h.8v.8h-.8zM48.7 80.0h.8v.8h-.8zM48.8 78.6h.8v.8h-.8zM46.1 68.3h.8v.8h-.8zM41.1 74.9h.8v.8h-.8zM44.4 78.8h.8v.8h-.8zM49.9 79.8h.8v.8h-.8zM36.3 68.5h.8v.8h-.8zM34.5 69.5h.8v.8h-.8zM43.8 73.2h.8v.8h-.8zM41.8 79.2h.8v.8h-.8zM47.8 78.2h.8v.8h-.8zM35.9 72.1h.8v.8h-.8zM43.8 68.9h.8v.8h-.8zM36.9 76.8h.8v.8h-.8zM34.5 75.3h.8v.8h-.8zM40.1 69.1h.8v.8h-.8zM36.9 76.8h.8v.8h-.8zM64.0 72.3h.8v.8h-.8zM65.6 63.9h.8v.8h-.8zM71.8 71.8h.8v.8h-.8zM62.4 68.2h.8v.8h-.8zM66.4 68.9h.8v.8h-.8zM67.0 69.4h.8v.8h-.8zM60.7 68.1h.8v.8h-.8zM64.1 73.0h.8v.8h-.8zM64.3 66.4h.8v.8h-.8zM70.0 67.3h.8v.8h-.8zM60.6 68.7h.8v.8h-.8zM64.1 63.5h.8v.8h-.8zM63.1 68.5h.8v.8h-.8zM59.4 65.2h.8v.8h-.8zM65.2 66.4h.8v.8h-.8zM62.8 65.2h.8v.8h-.8zM69.8 68.5h.8v.8h-.8zM63.0 73.1h.8v.8h-.8zM60.3 64.8h.8v.8h-.8zM61.9 70.6h.8v.8h-.8zM56.4 63.3h.8v.8h-.8zM71.8 68.3h.8v.8h-.8zM67.9 71.0h.8v.8h-.8zM66.6 66.1h.8v.8h-.8zM61.7 72.0h.8v.8h-.8z"/><path fill-opacity="0.35" d="M48.5 80.2h.8v.8h-.8zM35.0 76.3h.8v.8h-.8zM36.1 73.2h.8v.8h-.8zM36.3 70.0h.8v.8h-.8zM34.4 73.5h.8v.8h-.8zM43.3 73.5h.8v.8h-.8zM41.9 79.2h.8v.8h-.8zM36.5 79.6h.8v.8h-.8zM41.8 76.6h.8v.8h-.8zM40.2 69.2h.8v.8h-.8zM36.8 74.4h.8v.8h-.8zM48.3 78.5h.8v.8h-.8zM47.1 69.1h.8v.8h-.8zM37.8 75.8h.8v.8h-.8zM39.3 69.4h.8v.8h-.8zM41.9 80.4h.8v.8h-.8zM36.1 74.5h.8v.8h-.8zM49.1 73.0h.8v.8h-.8zM45.9 77.2h.8v.8h-.8zM35.9 78.5h.8v.8h-.8zM38.1 69.1h.8v.8h-.8zM46.3 77.9h.8v.8h-.8zM45.9 68.4h.8v.8h-.8zM46.8 72.5h.8v.8h-.8zM70.9 69.2h.8v.8h-.8zM55.5 66.6h.8v.8h-.8zM66.0 65.4h.8v.8h-.8zM64.5 71.6h.8v.8h-.8zM66.7 69.0h.8v.8h-.8zM70.3 69.7h.8v.8h-.8zM67.5 65.3h.8v.8h-.8zM61.3 71.0h.8v.8h-.8zM62.2 71.0h.8v.8h-.8zM62.2 72.0h.8v.8h-.8zM65.0 72.0h.8v.8h-.8zM63.9 65.7h.8v.8h-.8zM62.8 66.4h.8v.8h-.8zM65.2 64.0h.8v.8h-.8zM63.5 72.0h.8v.8h-.8zM63.2 71.2h.8v.8h-.8zM62.8 69.1h.8v.8h-.8zM62.6 68.0h.8v.8h-.8zM60.5 69.2h.8v.8h-.8zM67.6 66.8h.8v.8h-.8zM65.6 71.6h.8v.8h-.8zM63.0 70.3h.8v.8h-.8zM54.8 67.3h.8v.8h-.8zM67.2 69.3h.8v.8h-.8zM65.9 68.0h.8v.8h-.8z"/><path fill-opacity="0.27" d="M31.0 29.0h.8v.8h-.8zM38.4 27.9h.8v.8h-.8zM44.2 34.1h.8v.8h-.8zM32.8 24.2h.8v.8h-.8zM47.7 26.6h.8v.8h-.8zM53.5 25.7h.8v.8h-.8zM45.5 26.1h.8v.8h-.8zM52.2 29.9h.8v.8h-.8zM41.8 28.6h.8v.8h-.8zM44.8 28.5h.8v.8h-.8zM25.6 31.3h.8v.8h-.8zM40.0 24.8h.8v.8h-.8zM21.8 16.9h.8v.8h-.8zM44.8 20.3h.8v.8h-.8zM40.4 22.9h.8v.8h-.8zM23.4 22.6h.8v.8h-.8zM46.9 27.9h.8v.8h-.8zM50.3 23.3h.8v.8h-.8zM34.0 30.1h.8v.8h-.8zM42.6 23.0h.8v.8h-.8zM49.6 26.4h.8v.8h-.8zM27.3 26.7h.8v.8h-.8zM54.4 29.2h.8v.8h-.8zM46.3 23.1h.8v.8h-.8zM33.9 36.8h.8v.8h-.8zM33.6 24.6h.8v.8h-.8zM21.1 26.4h.8v.8h-.8zM38.0 24.4h.8v.8h-.8zM22.0 21.3h.8v.8h-.8zM47.8 27.3h.8v.8h-.8zM30.5 26.9h.8v.8h-.8zM45.7 19.6h.8v.8h-.8zM28.7 21.5h.8v.8h-.8zM26.9 18.5h.8v.8h-.8zM39.3 22.1h.8v.8h-.8zM26.2 25.9h.8v.8h-.8zM39.9 23.8h.8v.8h-.8zM36.4 23.7h.8v.8h-.8zM41.7 24.8h.8v.8h-.8zM39.9 25.8h.8v.8h-.8zM23.0 29.9h.8v.8h-.8zM38.5 27.2h.8v.8h-.8zM44.2 21.8h.8v.8h-.8zM50.7 25.3h.8v.8h-.8zM22.7 24.4h.8v.8h-.8zM28.0 24.4h.8v.8h-.8zM46.3 26.1h.8v.8h-.8zM36.1 24.6h.8v.8h-.8zM34.7 25.5h.8v.8h-.8zM28.2 21.9h.8v.8h-.8zM44.7 23.7h.8v.8h-.8zM35.0 27.0h.8v.8h-.8zM54.5 24.7h.8v.8h-.8zM36.7 25.5h.8v.8h-.8zM52.0 16.7h.8v.8h-.8zM34.5 31.1h.8v.8h-.8zM41.2 28.5h.8v.8h-.8zM28.1 34.0h.8v.8h-.8zM44.0 21.8h.8v.8h-.8zM29.0 26.0h.8v.8h-.8zM52.6 24.5h.8v.8h-.8zM23.7 26.2h.8v.8h-.8zM43.0 29.9h.8v.8h-.8zM42.7 30.4h.8v.8h-.8zM46.1 28.0h.8v.8h-.8zM42.2 26.9h.8v.8h-.8zM38.9 24.3h.8v.8h-.8zM53.6 23.3h.8v.8h-.8zM29.2 29.0h.8v.8h-.8zM31.5 26.1h.8v.8h-.8zM54.2 28.0h.8v.8h-.8zM52.0 28.9h.8v.8h-.8zM42.4 30.7h.8v.8h-.8zM50.2 24.0h.8v.8h-.8zM24.5 16.6h.8v.8h-.8zM23.0 33.8h.8v.8h-.8zM34.5 29.3h.8v.8h-.8zM49.5 21.9h.8v.8h-.8zM48.4 29.1h.8v.8h-.8zM34.9 26.7h.8v.8h-.8zM23.7 23.0h.8v.8h-.8zM38.5 26.2h.8v.8h-.8zM45.1 27.3h.8v.8h-.8zM31.7 29.7h.8v.8h-.8zM39.9 28.6h.8v.8h-.8zM43.1 26.9h.8v.8h-.8zM35.7 24.0h.8v.8h-.8zM49.8 30.6h.8v.8h-.8zM24.8 30.0h.8v.8h-.8zM29.6 34.8h.8v.8h-.8zM36.4 31.8h.8v.8h-.8zM40.0 35.5h.8v.8h-.8zM22.0 25.9h.8v.8h-.8zM45.4 24.1h.8v.8h-.8zM42.0 22.4h.8v.8h-.8zM49.8 24.2h.8v.8h-.8zM48.1 22.9h.8v.8h-.8zM34.5 21.0h.8v.8h-.8zM46.8 27.9h.8v.8h-.8zM46.0 16.2h.8v.8h-.8zM47.1 28.0h.8v.8h-.8zM45.0 27.8h.8v.8h-.8zM44.0 19.5h.8v.8h-.8zM51.5 19.0h.8v.8h-.8zM32.2 21.1h.8v.8h-.8zM31.1 26.0h.8v.8h-.8zM49.2 21.8h.8v.8h-.8zM23.1 23.5h.8v.8h-.8zM37.5 23.2h.8v.8h-.8zM35.3 32.0h.8v.8h-.8zM46.7 30.1h.8v.8h-.8zM22.8 26.6h.8v.8h-.8zM52.5 27.6h.8v.8h-.8zM23.1 28.0h.8v.8h-.8zM35.2 30.8h.8v.8h-.8zM50.8 25.2h.8v.8h-.8zM43.6 26.5h.8v.8h-.8zM50.3 29.8h.8v.8h-.8zM31.7 19.1h.8v.8h-.8zM22.9 26.8h.8v.8h-.8zM28.0 32.7h.8v.8h-.8zM49.0 31.1h.8v.8h-.8zM49.5 31.0h.8v.8h-.8zM42.6 25.6h.8v.8h-.8zM37.8 24.9h.8v.8h-.8zM51.6 29.2h.8v.8h-.8zM42.3 27.7h.8v.8h-.8zM41.7 33.6h.8v.8h-.8zM23.7 27.5h.8v.8h-.8zM43.6 28.1h.8v.8h-.8zM54.5 23.8h.8v.8h-.8zM53.4 21.3h.8v.8h-.8zM30.9 26.8h.8v.8h-.8zM40.3 25.8h.8v.8h-.8zM49.7 25.8h.8v.8h-.8zM25.7 30.1h.8v.8h-.8zM49.1 26.3h.8v.8h-.8zM22.6 25.7h.8v.8h-.8zM42.1 33.3h.8v.8h-.8zM21.8 20.0h.8v.8h-.8zM22.7 23.0h.8v.8h-.8zM49.8 22.4h.8v.8h-.8zM26.4 26.5h.8v.8h-.8zM25.8 20.9h.8v.8h-.8zM30.5 30.3h.8v.8h-.8zM35.2 29.7h.8v.8h-.8zM28.4 29.2h.8v.8h-.8zM26.0 25.3h.8v.8h-.8zM21.6 24.5h.8v.8h-.8zM49.0 33.5h.8v.8h-.8z"/><path fill-opacity="0.27" d="M28.8 21.9h.8v.8h-.8zM46.8 22.9h.8v.8h-.8zM25.8 26.9h.8v.8h-.8zM32.7 27.4h.8v.8h-.8zM46.4 23.6h.8v.8h-.8zM50.0 34.0h.8v.8h-.8zM34.5 20.1h.8v.8h-.8zM35.4 20.4h.8v.8h-.8zM25.6 30.5h.8v.8h-.8zM41.8 23.4h.8v.8h-.8zM31.3 22.3h.8v.8h-.8zM34.5 27.7h.8v.8h-.8zM47.8 18.1h.8v.8h-.8zM53.2 20.1h.8v.8h-.8zM43.0 28.5h.8v.8h-.8zM38.7 24.6h.8v.8h-.8zM48.3 24.4h.8v.8h-.8zM21.2 23.6h.8v.8h-.8zM21.7 22.8h.8v.8h-.8zM33.6 24.6h.8v.8h-.8zM21.2 28.2h.8v.8h-.8zM28.0 26.9h.8v.8h-.8zM44.4 28.8h.8v.8h-.8zM37.2 17.8h.8v.8h-.8zM50.1 24.3h.8v.8h-.8zM33.6 27.3h.8v.8h-.8zM31.2 21.6h.8v.8h-.8zM29.5 21.3h.8v.8h-.8zM55.0 25.5h.8v.8h-.8zM40.2 25.5h.8v.8h-.8zM29.1 26.6h.8v.8h-.8zM21.9 26.7h.8v.8h-.8zM49.6 22.4h.8v.8h-.8zM50.8 28.7h.8v.8h-.8zM25.0 25.6h.8v.8h-.8zM34.8 22.8h.8v.8h-.8zM45.4 26.7h.8v.8h-.8zM28.1 26.3h.8v.8h-.8zM31.0 27.4h.8v.8h-.8zM50.0 33.1h.8v.8h-.8zM48.2 29.0h.8v.8h-.8zM44.1 28.8h.8v.8h-.8zM37.4 20.2h.8v.8h-.8zM51.2 26.9h.8v.8h-.8zM49.1 24.0h.8v.8h-.8zM53.1 31.4h.8v.8h-.8zM33.6 25.7h.8v.8h-.8zM44.7 27.0h.8v.8h-.8zM25.8 25.6h.8v.8h-.8zM41.1 28.4h.8v.8h-.8zM38.6 34.7h.8v.8h-.8zM28.9 26.3h.8v.8h-.8zM39.7 23.6h.8v.8h-.8zM47.2 28.1h.8v.8h-.8zM24.1 28.4h.8v.8h-.8zM54.2 21.6h.8v.8h-.8zM49.6 26.6h.8v.8h-.8zM35.3 28.1h.8v.8h-.8zM29.8 29.4h.8v.8h-.8zM47.4 24.9h.8v.8h-.8zM54.1 24.0h.8v.8h-.8zM29.6 23.7h.8v.8h-.8zM49.6 23.1h.8v.8h-.8zM24.2 26.1h.8v.8h-.8zM47.9 26.1h.8v.8h-.8zM46.6 25.3h.8v.8h-.8zM54.1 25.9h.8v.8h-.8zM39.3 29.3h.8v.8h-.8zM39.2 30.7h.8v.8h-.8zM40.9 28.5h.8v.8h-.8zM50.3 30.4h.8v.8h-.8zM54.3 31.8h.8v.8h-.8zM24.2 24.8h.8v.8h-.8zM46.2 25.1h.8v.8h-.8zM44.2 37.5h.8v.8h-.8zM30.5 32.9h.8v.8h-.8zM38.0 21.4h.8v.8h-.8zM24.8 21.5h.8v.8h-.8zM54.5 27.0h.8v.8h-.8zM38.4 23.2h.8v.8h-.8zM24.8 25.4h.8v.8h-.8zM41.9 28.9h.8v.8h-.8zM35.8 26.7h.8v.8h-.8zM25.3 13.8h.8v.8h-.8zM38.2 24.5h.8v.8h-.8zM29.2 21.1h.8v.8h-.8zM27.4 22.6h.8v.8h-.8zM46.6 24.2h.8v.8h-.8zM53.2 30.5h.8v.8h-.8zM40.9 25.5h.8v.8h-.8zM35.5 29.8h.8v.8h-.8zM26.8 21.8h.8v.8h-.8zM36.0 22.3h.8v.8h-.8zM48.7 33.1h.8v.8h-.8zM43.8 28.1h.8v.8h-.8zM50.7 32.5h.8v.8h-.8zM21.9 32.1h.8v.8h-.8zM53.3 29.6h.8v.8h-.8zM31.6 26.5h.8v.8h-.8zM34.1 26.8h.8v.8h-.8zM49.0 24.6h.8v.8h-.8zM28.9 29.3h.8v.8h-.8zM40.2 26.3h.8v.8h-.8zM52.1 21.0h.8v.8h-.8zM26.0 27.5h.8v.8h-.8zM29.8 32.8h.8v.8h-.8zM38.1 26.8h.8v.8h-.8zM46.0 29.9h.8v.8h-.8zM34.8 26.9h.8v.8h-.8zM25.2 33.7h.8v.8h-.8zM33.4 27.6h.8v.8h-.8zM24.8 29.9h.8v.8h-.8zM54.9 25.5h.8v.8h-.8zM30.7 27.1h.8v.8h-.8zM46.0 24.9h.8v.8h-.8zM34.7 29.1h.8v.8h-.8zM32.6 25.4h.8v.8h-.8zM48.1 27.6h.8v.8h-.8zM25.7 25.5h.8v.8h-.8zM51.3 26.7h.8v.8h-.8zM23.0 26.4h.8v.8h-.8zM47.6 25.7h.8v.8h-.8zM26.3 24.9h.8v.8h-.8zM48.3 18.3h.8v.8h-.8zM53.4 24.6h.8v.8h-.8zM36.2 29.1h.8v.8h-.8zM28.2 26.3h.8v.8h-.8zM47.7 18.8h.8v.8h-.8zM44.4 26.1h.8v.8h-.8zM47.6 25.7h.8v.8h-.8zM32.6 15.1h.8v.8h-.8zM32.3 29.5h.8v.8h-.8zM33.5 31.5h.8v.8h-.8zM33.2 26.0h.8v.8h-.8zM39.1 33.2h.8v.8h-.8zM22.8 24.3h.8v.8h-.8zM46.0 24.1h.8v.8h-.8zM35.1 28.9h.8v.8h-.8zM47.3 29.7h.8v.8h-.8zM47.2 26.4h.8v.8h-.8zM25.3 22.4h.8v.8h-.8zM29.4 29.1h.8v.8h-.8zM35.0 33.1h.8v.8h-.8zM38.2 33.3h.8v.8h-.8zM42.8 26.1h.8v.8h-.8zM41.4 25.1h.8v.8h-.8zM47.8 22.5h.8v.8h-.8zM30.4 25.3h.8v.8h-.8zM54.7 27.1h.8v.8h-.8zM25.0 25.6h.8v.8h-.8z"/><path fill-opacity="0.27" d="M41.5 28.8h.8v.8h-.8zM28.7 27.1h.8v.8h-.8zM52.2 22.6h.8v.8h-.8zM27.8 30.1h.8v.8h-.8zM42.4 21.6h.8v.8h-.8zM40.6 23.6h.8v.8h-.8zM46.5 23.4h.8v.8h-.8zM39.7 23.4h.8v.8h-.8zM25.7 30.4h.8v.8h-.8zM41.6 25.5h.8v.8h-.8zM26.7 17.7h.8v.8h-.8zM23.5 30.9h.8v.8h-.8zM33.5 23.5h.8v.8h-.8zM52.0 19.8h.8v.8h-.8zM30.4 27.3h.8v.8h-.8zM53.3 23.3h.8v.8h-.8zM46.0 30.5h.8v.8h-.8zM22.2 29.7h.8v.8h-.8zM41.6 31.3h.8v.8h-.8zM33.4 23.5h.8v.8h-.8zM47.5 18.0h.8v.8h-.8zM45.3 34.0h.8v.8h-.8zM52.2 28.8h.8v.8h-.8zM31.0 29.3h.8v.8h-.8zM32.3 21.4h.8v.8h-.8zM45.2 24.5h.8v.8h-.8zM34.6 29.7h.8v.8h-.8zM34.3 31.9h.8v.8h-.8zM26.1 20.9h.8v.8h-.8zM29.9 29.1h.8v.8h-.8zM40.2 24.8h.8v.8h-.8zM36.2 25.5h.8v.8h-.8zM27.6 28.6h.8v.8h-.8zM33.6 31.4h.8v.8h-.8zM39.4 27.7h.8v.8h-.8zM47.7 23.1h.8v.8h-.8zM36.8 26.4h.8v.8h-.8zM51.9 30.5h.8v.8h-.8zM25.0 24.3h.8v.8h-.8zM21.9 28.2h.8v.8h-.8zM24.2 37.1h.8v.8h-.8zM29.7 22.4h.8v.8h-.8zM33.7 30.4h.8v.8h-.8zM28.1 27.7h.8v.8h-.8zM48.8 24.4h.8v.8h-.8zM50.3 27.2h.8v.8h-.8zM32.0 23.9h.8v.8h-.8zM48.9 27.1h.8v.8h-.8zM52.1 26.1h.8v.8h-.8zM51.9 27.9h.8v.8h-.8zM39.9 28.7h.8v.8h-.8zM50.3 20.8h.8v.8h-.8zM30.6 28.4h.8v.8h-.8zM43.8 25.8h.8v.8h-.8zM21.9 24.1h.8v.8h-.8zM53.1 26.0h.8v.8h-.8zM50.9 20.9h.8v.8h-.8zM23.6 22.3h.8v.8h-.8zM38.8 28.5h.8v.8h-.8zM46.7 26.9h.8v.8h-.8zM28.0 31.9h.8v.8h-.8zM53.7 34.3h.8v.8h-.8zM29.6 32.0h.8v.8h-.8zM36.8 15.0h.8v.8h-.8zM43.2 27.7h.8v.8h-.8zM30.8 20.6h.8v.8h-.8zM45.0 21.9h.8v.8h-.8zM39.4 27.9h.8v.8h-.8zM44.2 20.6h.8v.8h-.8zM44.7 20.7h.8v.8h-.8zM22.1 29.4h.8v.8h-.8zM47.1 23.3h.8v.8h-.8zM45.7 27.0h.8v.8h-.8zM33.9 27.3h.8v.8h-.8zM29.4 29.2h.8v.8h-.8zM42.3 26.4h.8v.8h-.8zM53.2 25.4h.8v.8h-.8zM34.0 24.8h.8v.8h-.8zM45.4 24.2h.8v.8h-.8zM49.7 24.4h.8v.8h-.8zM22.8 27.3h.8v.8h-.8zM53.0 24.9h.8v.8h-.8zM47.5 24.9h.8v.8h-.8zM35.3 28.4h.8v.8h-.8zM21.9 25.8h.8v.8h-.8zM45.8 26.3h.8v.8h-.8zM52.9 24.2h.8v.8h-.8zM30.4 25.5h.8v.8h-.8zM33.4 28.1h.8v.8h-.8zM29.6 32.0h.8v.8h-.8zM29.5 28.2h.8v.8h-.8zM35.2 19.4h.8v.8h-.8zM24.4 25.8h.8v.8h-.8zM32.6 25.9h.8v.8h-.8zM45.1 21.5h.8v.8h-.8zM21.8 22.2h.8v.8h-.8zM51.6 23.9h.8v.8h-.8zM36.8 24.5h.8v.8h-.8zM52.9 23.7h.8v.8h-.8zM39.1 31.2h.8v.8h-.8zM35.0 25.8h.8v.8h-.8zM47.9 22.6h.8v.8h-.8zM34.4 23.6h.8v.8h-.8zM25.3 22.5h.8v.8h-.8zM36.2 31.1h.8v.8h-.8zM38.7 28.8h.8v.8h-.8zM47.8 28.2h.8v.8h-.8zM39.3 26.4h.8v.8h-.8zM25.1 19.8h.8v.8h-.8zM29.7 28.0h.8v.8h-.8zM41.5 20.4h.8v.8h-.8zM44.2 24.4h.8v.8h-.8zM47.3 30.7h.8v.8h-.8zM45.1 24.7h.8v.8h-.8zM29.6 30.9h.8v.8h-.8zM51.6 18.5h.8v.8h-.8zM32.2 28.8h.8v.8h-.8zM48.4 26.3h.8v.8h-.8zM48.5 29.9h.8v.8h-.8zM29.6 28.0h.8v.8h-.8zM53.4 23.3h.8v.8h-.8zM52.3 33.7h.8v.8h-.8zM37.7 27.1h.8v.8h-.8zM46.3 28.4h.8v.8h-.8zM28.0 22.6h.8v.8h-.8zM28.5 26.1h.8v.8h-.8zM46.7 23.4h.8v.8h-.8zM36.5 29.3h.8v.8h-.8zM23.2 29.5h.8v.8h-.8zM44.2 30.8h.8v.8h-.8zM26.9 28.8h.8v.8h-.8zM27.3 25.9h.8v.8h-.8zM44.3 34.2h.8v.8h-.8zM33.6 26.6h.8v.8h-.8zM29.8 32.2h.8v.8h-.8zM35.4 26.7h.8v.8h-.8zM27.2 26.0h.8v.8h-.8zM30.2 30.4h.8v.8h-.8zM51.2 22.7h.8v.8h-.8zM22.8 21.2h.8v.8h-.8zM53.5 22.9h.8v.8h-.8zM25.1 26.1h.8v.8h-.8zM51.4 31.1h.8v.8h-.8zM47.7 31.8h.8v.8h-.8zM32.5 25.2h.8v.8h-.8zM29.9 29.5h.8v.8h-.8zM27.0 33.3h.8v.8h-.8zM39.1 30.6h.8v.8h-.8zM36.5 25.9h.8v.8h-.8zM28.3 34.7h.8v.8h-.8z"/><path fill-opacity="0.27" d="M25.5 34.8h.8v.8h-.8zM31.6 25.3h.8v.8h-.8zM53.1 25.0h.8v.8h-.8zM39.3 25.3h.8v.8h-.8zM51.2 25.7h.8v.8h-.8zM30.9 26.3h.8v.8h-.8zM32.3 33.5h.8v.8h-.8zM21.5 21.5h.8v.8h-.8zM41.0 37.0h.8v.8h-.8zM30.3 28.2h.8v.8h-.8zM22.2 26.9h.8v.8h-.8zM50.3 29.7h.8v.8h-.8zM53.2 26.9h.8v.8h-.8zM33.8 28.9h.8v.8h-.8zM43.3 29.3h.8v.8h-.8zM42.4 28.9h.8v.8h-.8zM38.4 19.1h.8v.8h-.8zM36.8 25.0h.8v.8h-.8zM53.5 31.5h.8v.8h-.8zM22.9 28.5h.8v.8h-.8zM32.9 19.3h.8v.8h-.8zM51.9 28.7h.8v.8h-.8zM34.1 25.7h.8v.8h-.8zM33.4 29.0h.8v.8h-.8zM40.1 24.3h.8v.8h-.8zM51.7 26.6h.8v.8h-.8zM30.6 22.5h.8v.8h-.8zM28.5 25.7h.8v.8h-.8zM47.9 30.5h.8v.8h-.8zM33.9 23.5h.8v.8h-.8zM25.1 26.3h.8v.8h-.8zM34.6 27.9h.8v.8h-.8zM43.0 22.1h.8v.8h-.8zM44.1 26.9h.8v.8h-.8zM39.1 23.1h.8v.8h-.8zM21.4 28.9h.8v.8h-.8zM27.6 25.4h.8v.8h-.8zM34.4 29.7h.8v.8h-.8zM31.7 24.8h.8v.8h-.8zM34.9 24.6h.8v.8h-.8zM45.3 22.0h.8v.8h-.8zM54.4 23.3h.8v.8h-.8zM23.9 29.3h.8v.8h-.8zM30.9 25.6h.8v.8h-.8zM42.2 24.1h.8v.8h-.8zM41.0 24.8h.8v.8h-.8zM53.3 24.6h.8v.8h-.8zM24.4 27.2h.8v.8h-.8zM47.8 27.7h.8v.8h-.8zM52.7 21.8h.8v.8h-.8zM44.0 24.8h.8v.8h-.8zM33.4 22.2h.8v.8h-.8zM51.7 29.6h.8v.8h-.8zM39.6 27.1h.8v.8h-.8zM24.4 27.6h.8v.8h-.8zM35.4 22.0h.8v.8h-.8zM30.7 27.0h.8v.8h-.8zM32.8 24.1h.8v.8h-.8zM34.3 22.8h.8v.8h-.8zM44.9 21.7h.8v.8h-.8zM37.7 28.0h.8v.8h-.8zM36.1 15.8h.8v.8h-.8zM46.7 24.0h.8v.8h-.8zM37.5 23.4h.8v.8h-.8zM30.6 26.8h.8v.8h-.8zM52.1 23.8h.8v.8h-.8zM24.2 26.1h.8v.8h-.8zM21.0 26.3h.8v.8h-.8zM41.2 24.5h.8v.8h-.8zM23.4 31.8h.8v.8h-.8zM23.8 29.3h.8v.8h-.8zM42.2 20.9h.8v.8h-.8zM32.3 27.9h.8v.8h-.8zM49.0 26.4h.8v.8h-.8zM38.2 29.4h.8v.8h-.8zM49.7 21.5h.8v.8h-.8zM27.0 27.1h.8v.8h-.8zM33.6 29.2h.8v.8h-.8zM21.7 26.6h.8v.8h-.8zM45.3 24.6h.8v.8h-.8zM34.6 30.2h.8v.8h-.8zM54.8 22.4h.8v.8h-.8zM49.5 23.1h.8v.8h-.8zM41.6 30.2h.8v.8h-.8zM44.5 28.1h.8v.8h-.8zM36.5 20.6h.8v.8h-.8zM49.2 17.8h.8v.8h-.8zM48.9 31.3h.8v.8h-.8zM52.3 22.4h.8v.8h-.8zM43.9 33.2h.8v.8h-.8zM37.5 26.1h.8v.8h-.8zM32.0 26.7h.8v.8h-.8zM33.1 22.3h.8v.8h-.8zM33.7 26.8h.8v.8h-.8zM39.3 27.4h.8v.8h-.8zM33.8 23.6h.8v.8h-.8zM35.8 27.4h.8v.8h-.8zM24.7 30.9h.8v.8h-.8zM29.7 25.6h.8v.8h-.8zM33.0 29.5h.8v.8h-.8zM31.1 25.7h.8v.8h-.8zM51.1 28.7h.8v.8h-.8zM45.4 26.1h.8v.8h-.8zM48.3 21.0h.8v.8h-.8zM28.2 30.2h.8v.8h-.8zM24.9 33.2h.8v.8h-.8zM49.3 25.4h.8v.8h-.8zM50.0 26.5h.8v.8h-.8zM25.8 26.1h.8v.8h-.8zM35.9 29.7h.8v.8h-.8zM46.4 22.8h.8v.8h-.8zM24.3 21.4h.8v.8h-.8zM33.3 22.0h.8v.8h-.8zM42.0 23.8h.8v.8h-.8zM29.1 23.0h.8v.8h-.8zM49.2 29.0h.8v.8h-.8zM45.3 26.4h.8v.8h-.8zM32.1 27.0h.8v.8h-.8zM45.0 24.7h.8v.8h-.8zM32.3 28.8h.8v.8h-.8zM25.7 26.9h.8v.8h-.8zM37.1 28.7h.8v.8h-.8zM43.3 24.3h.8v.8h-.8zM35.8 17.9h.8v.8h-.8zM48.8 24.5h.8v.8h-.8zM31.5 30.8h.8v.8h-.8zM49.5 16.4h.8v.8h-.8zM40.1 22.7h.8v.8h-.8zM30.2 26.8h.8v.8h-.8zM49.0 25.8h.8v.8h-.8zM37.8 21.9h.8v.8h-.8zM39.2 27.9h.8v.8h-.8zM44.1 27.4h.8v.8h-.8zM41.6 28.0h.8v.8h-.8zM45.9 27.9h.8v.8h-.8zM34.5 24.6h.8v.8h-.8zM26.3 26.5h.8v.8h-.8zM39.8 26.9h.8v.8h-.8zM37.5 26.1h.8v.8h-.8zM31.0 24.1h.8v.8h-.8zM34.9 19.3h.8v.8h-.8zM51.4 24.3h.8v.8h-.8zM51.9 23.7h.8v.8h-.8zM29.8 21.6h.8v.8h-.8zM28.4 30.9h.8v.8h-.8zM42.2 26.3h.8v.8h-.8zM35.3 25.7h.8v.8h-.8zM51.5 24.7h.8v.8h-.8zM44.0 19.3h.8v.8h-.8zM31.3 28.8h.8v.8h-.8z"/><path fill-opacity="0.27" d="M39.6 32.0h.8v.8h-.8zM37.4 22.8h.8v.8h-.8zM25.3 32.4h.8v.8h-.8zM48.3 22.1h.8v.8h-.8zM41.5 30.2h.8v.8h-.8zM41.5 21.3h.8v.8h-.8zM25.4 29.4h.8v.8h-.8zM53.4 23.4h.8v.8h-.8zM43.9 24.7h.8v.8h-.8zM33.6 23.2h.8v.8h-.8zM36.3 22.5h.8v.8h-.8zM22.3 25.2h.8v.8h-.8zM31.8 23.9h.8v.8h-.8zM44.1 18.8h.8v.8h-.8zM31.4 31.0h.8v.8h-.8zM53.0 25.9h.8v.8h-.8zM47.8 27.2h.8v.8h-.8zM45.4 18.8h.8v.8h-.8zM41.9 25.4h.8v.8h-.8zM45.3 21.2h.8v.8h-.8zM32.9 22.8h.8v.8h-.8zM25.8 28.5h.8v.8h-.8zM47.1 28.6h.8v.8h-.8zM25.9 25.3h.8v.8h-.8zM49.0 28.1h.8v.8h-.8zM21.3 26.0h.8v.8h-.8zM35.0 25.2h.8v.8h-.8zM35.3 28.1h.8v.8h-.8zM30.8 24.6h.8v.8h-.8zM50.4 27.5h.8v.8h-.8zM28.8 28.7h.8v.8h-.8zM46.1 26.3h.8v.8h-.8zM30.6 27.4h.8v.8h-.8zM46.5 20.7h.8v.8h-.8zM51.4 19.6h.8v.8h-.8zM22.2 25.7h.8v.8h-.8zM43.7 20.8h.8v.8h-.8zM44.6 28.5h.8v.8h-.8zM23.2 22.9h.8v.8h-.8zM54.5 29.0h.8v.8h-.8zM38.9 25.8h.8v.8h-.8zM28.1 27.2h.8v.8h-.8zM48.0 30.2h.8v.8h-.8zM45.2 25.9h.8v.8h-.8zM51.3 26.6h.8v.8h-.8zM24.8 30.8h.8v.8h-.8zM28.8 26.4h.8v.8h-.8zM29.9 34.8h.8v.8h-.8zM40.8 25.0h.8v.8h-.8zM52.6 28.4h.8v.8h-.8zM31.0 24.3h.8v.8h-.8zM22.3 23.4h.8v.8h-.8zM42.4 26.3h.8v.8h-.8zM32.4 26.4h.8v.8h-.8zM50.7 24.9h.8v.8h-.8zM33.6 26.3h.8v.8h-.8zM50.0 29.4h.8v.8h-.8zM21.9 26.4h.8v.8h-.8zM48.9 28.3h.8v.8h-.8zM23.2 28.0h.8v.8h-.8zM36.8 24.2h.8v.8h-.8zM28.0 26.3h.8v.8h-.8zM21.7 30.1h.8v.8h-.8zM22.0 20.3h.8v.8h-.8zM44.6 23.9h.8v.8h-.8zM36.7 26.1h.8v.8h-.8zM30.4 20.3h.8v.8h-.8zM26.2 21.8h.8v.8h-.8zM47.1 26.5h.8v.8h-.8zM53.8 21.8h.8v.8h-.8zM50.1 30.8h.8v.8h-.8zM35.9 22.4h.8v.8h-.8zM25.6 30.0h.8v.8h-.8zM40.0 24.9h.8v.8h-.8zM29.1 23.7h.8v.8h-.8zM45.8 26.7h.8v.8h-.8zM47.8 24.4h.8v.8h-.8zM43.7 25.0h.8v.8h-.8zM24.3 25.2h.8v.8h-.8zM38.9 27.5h.8v.8h-.8zM53.2 27.1h.8v.8h-.8zM43.3 26.5h.8v.8h-.8zM28.3 25.0h.8v.8h-.8zM38.6 30.8h.8v.8h-.8zM47.8 22.0h.8v.8h-.8zM42.8 26.9h.8v.8h-.8zM34.0 24.6h.8v.8h-.8zM32.5 32.6h.8v.8h-.8zM29.4 22.6h.8v.8h-.8zM44.1 21.5h.8v.8h-.8zM39.0 28.5h.8v.8h-.8zM39.1 31.5h.8v.8h-.8zM46.0 22.4h.8v.8h-.8zM27.4 34.5h.8v.8h-.8zM22.7 30.5h.8v.8h-.8zM37.7 27.0h.8v.8h-.8zM53.9 24.6h.8v.8h-.8zM27.8 21.8h.8v.8h-.8zM54.2 21.3h.8v.8h-.8zM38.2 29.3h.8v.8h-.8zM41.1 13.5h.8v.8h-.8zM46.1 27.9h.8v.8h-.8zM35.3 23.7h.8v.8h-.8zM42.1 24.0h.8v.8h-.8zM43.9 33.7h.8v.8h-.8zM25.8 25.4h.8v.8h-.8zM31.3 29.9h.8v.8h-.8zM43.3 31.4h.8v.8h-.8zM45.0 27.6h.8v.8h-.8zM46.1 31.8h.8v.8h-.8zM35.3 24.1h.8v.8h-.8zM27.4 34.0h.8v.8h-.8zM27.0 25.4h.8v.8h-.8zM52.6 20.5h.8v.8h-.8zM54.3 25.9h.8v.8h-.8zM31.0 28.8h.8v.8h-.8zM35.0 23.0h.8v.8h-.8zM54.2 24.4h.8v.8h-.8zM52.9 22.8h.8v.8h-.8zM25.3 26.0h.8v.8h-.8zM33.5 30.7h.8v.8h-.8zM47.8 25.8h.8v.8h-.8zM31.4 29.6h.8v.8h-.8zM25.0 22.3h.8v.8h-.8zM29.7 19.7h.8v.8h-.8zM46.4 27.9h.8v.8h-.8zM36.7 28.6h.8v.8h-.8zM46.4 26.2h.8v.8h-.8zM44.2 28.0h.8v.8h-.8zM41.7 27.7h.8v.8h-.8zM40.9 29.0h.8v.8h-.8zM28.6 21.8h.8v.8h-.8zM22.6 24.9h.8v.8h-.8zM47.6 28.9h.8v.8h-.8zM26.6 27.3h.8v.8h-.8zM53.8 23.9h.8v.8h-.8zM48.9 24.5h.8v.8h-.8zM36.4 25.3h.8v.8h-.8zM33.8 24.3h.8v.8h-.8zM52.4 31.9h.8v.8h-.8zM33.5 22.6h.8v.8h-.8zM34.0 32.8h.8v.8h-.8zM27.5 27.5h.8v.8h-.8zM41.0 28.1h.8v.8h-.8zM31.9 26.3h.8v.8h-.8zM22.4 29.3h.8v.8h-.8zM54.8 32.8h.8v.8h-.8zM22.1 27.8h.8v.8h-.8zM29.8 28.1h.8v.8h-.8zM48.9 28.0h.8v.8h-.8z"/><path fill-opacity="0.27" d="M34.8 26.5h.8v.8h-.8zM32.1 21.4h.8v.8h-.8zM37.5 32.9h.8v.8h-.8zM29.1 22.8h.8v.8h-.8zM48.2 29.2h.8v.8h-.8zM45.5 29.6h.8v.8h-.8zM53.6 27.0h.8v.8h-.8zM33.0 25.1h.8v.8h-.8zM54.3 26.5h.8v.8h-.8zM42.3 28.4h.8v.8h-.8zM33.7 27.2h.8v.8h-.8zM21.7 22.0h.8v.8h-.8zM34.9 24.2h.8v.8h-.8zM23.1 29.1h.8v.8h-.8zM47.1 23.3h.8v.8h-.8zM53.2 26.3h.8v.8h-.8zM47.8 28.2h.8v.8h-.8zM35.3 21.0h.8v.8h-.8zM29.3 28.3h.8v.8h-.8zM21.0 25.7h.8v.8h-.8zM37.7 25.3h.8v.8h-.8zM30.4 24.3h.8v.8h-.8zM45.1 32.1h.8v.8h-.8zM23.7 24.4h.8v.8h-.8zM24.6 23.8h.8v.8h-.8zM39.5 22.0h.8v.8h-.8zM33.3 19.1h.8v.8h-.8zM45.1 19.4h.8v.8h-.8zM23.4 26.7h.8v.8h-.8zM45.0 30.7h.8v.8h-.8zM48.4 25.2h.8v.8h-.8zM35.5 32.2h.8v.8h-.8zM42.0 26.0h.8v.8h-.8zM36.9 29.1h.8v.8h-.8zM33.0 25.5h.8v.8h-.8zM55.0 24.3h.8v.8h-.8zM29.2 24.7h.8v.8h-.8zM27.2 26.5h.8v.8h-.8zM41.5 25.9h.8v.8h-.8zM32.8 24.3h.8v.8h-.8zM50.8 25.6h.8v.8h-.8zM49.4 29.7h.8v.8h-.8zM28.7 22.4h.8v.8h-.8zM47.0 29.9h.8v.8h-.8zM54.2 25.3h.8v.8h-.8zM53.7 24.0h.8v.8h-.8zM48.9 20.7h.8v.8h-.8zM24.9 28.6h.8v.8h-.8zM27.5 31.7h.8v.8h-.8zM32.0 28.1h.8v.8h-.8zM30.1 23.3h.8v.8h-.8zM42.5 24.6h.8v.8h-.8zM42.1 17.9h.8v.8h-.8zM47.7 20.5h.8v.8h-.8zM42.0 25.4h.8v.8h-.8zM39.1 27.8h.8v.8h-.8zM23.6 29.7h.8v.8h-.8zM48.4 29.9h.8v.8h-.8zM31.0 23.2h.8v.8h-.8zM22.4 18.0h.8v.8h-.8zM30.6 22.7h.8v.8h-.8zM23.6 17.0h.8v.8h-.8zM25.4 26.8h.8v.8h-.8zM49.0 29.6h.8v.8h-.8zM40.4 33.3h.8v.8h-.8zM31.7 25.4h.8v.8h-.8zM43.9 22.9h.8v.8h-.8zM48.4 24.6h.8v.8h-.8zM42.9 27.4h.8v.8h-.8zM42.1 26.3h.8v.8h-.8zM29.4 25.5h.8v.8h-.8zM51.9 31.3h.8v.8h-.8zM33.5 19.1h.8v.8h-.8zM32.5 27.2h.8v.8h-.8zM42.5 27.7h.8v.8h-.8zM30.8 25.0h.8v.8h-.8zM24.9 30.1h.8v.8h-.8zM31.7 23.9h.8v.8h-.8zM48.3 28.4h.8v.8h-.8zM31.2 27.5h.8v.8h-.8zM24.8 33.4h.8v.8h-.8zM40.7 27.9h.8v.8h-.8zM39.0 27.9h.8v.8h-.8zM34.1 27.6h.8v.8h-.8zM36.7 23.2h.8v.8h-.8zM43.9 26.2h.8v.8h-.8zM33.9 26.6h.8v.8h-.8zM49.6 24.3h.8v.8h-.8zM33.7 28.3h.8v.8h-.8zM47.1 23.9h.8v.8h-.8zM30.4 23.8h.8v.8h-.8zM47.4 24.3h.8v.8h-.8zM42.6 20.6h.8v.8h-.8zM32.1 23.8h.8v.8h-.8zM42.9 22.1h.8v.8h-.8zM42.2 24.9h.8v.8h-.8zM47.8 25.3h.8v.8h-.8zM39.2 24.3h.8v.8h-.8zM43.1 26.3h.8v.8h-.8zM49.6 24.5h.8v.8h-.8zM53.4 29.6h.8v.8h-.8zM45.7 17.7h.8v.8h-.8zM27.0 31.7h.8v.8h-.8zM32.2 26.0h.8v.8h-.8zM53.1 30.4h.8v.8h-.8zM27.0 18.2h.8v.8h-.8zM27.0 21.8h.8v.8h-.8zM26.8 30.3h.8v.8h-.8zM43.5 19.7h.8v.8h-.8zM35.1 25.5h.8v.8h-.8zM37.0 30.2h.8v.8h-.8zM37.5 36.4h.8v.8h-.8zM34.9 20.8h.8v.8h-.8zM31.7 23.1h.8v.8h-.8zM32.8 24.5h.8v.8h-.8zM22.7 26.2h.8v.8h-.8zM30.4 26.8h.8v.8h-.8zM38.4 24.5h.8v.8h-.8zM24.2 29.6h.8v.8h-.8zM38.0 23.1h.8v.8h-.8zM27.8 20.9h.8v.8h-.8zM48.6 30.9h.8v.8h-.8zM47.7 21.0h.8v.8h-.8zM29.2 27.2h.8v.8h-.8zM41.0 27.4h.8v.8h-.8zM43.8 29.8h.8v.8h-.8zM30.4 25.8h.8v.8h-.8zM52.2 22.9h.8v.8h-.8zM26.9 31.0h.8v.8h-.8zM38.1 25.0h.8v.8h-.8zM33.3 32.9h.8v.8h-.8zM42.4 26.3h.8v.8h-.8zM40.2 34.5h.8v.8h-.8zM47.5 24.1h.8v.8h-.8zM21.7 25.4h.8v.8h-.8zM50.0 26.4h.8v.8h-.8zM46.9 23.8h.8v.8h-.8zM36.9 26.1h.8v.8h-.8zM50.1 24.9h.8v.8h-.8zM31.6 30.0h.8v.8h-.8zM51.8 25.3h.8v.8h-.8zM36.7 28.9h.8v.8h-.8zM42.8 24.6h.8v.8h-.8zM27.6 20.2h.8v.8h-.8zM46.9 25.3h.8v.8h-.8zM22.9 28.6h.8v.8h-.8zM28.9 24.0h.8v.8h-.8zM39.1 20.4h.8v.8h-.8zM37.1 22.7h.8v.8h-.8zM51.6 24.5h.8v.8h-.8z"/><path fill-opacity="0.32" d="M72.7 29.2h.8v.8h-.8zM56.7 31.7h.8v.8h-.8zM64.6 22.9h.8v.8h-.8zM52.4 23.7h.8v.8h-.8zM68.4 26.2h.8v.8h-.8zM55.3 24.6h.8v.8h-.8zM63.9 21.3h.8v.8h-.8zM61.6 25.9h.8v.8h-.8zM67.8 26.9h.8v.8h-.8zM64.5 24.8h.8v.8h-.8zM73.1 15.6h.8v.8h-.8zM74.4 24.3h.8v.8h-.8zM56.3 34.0h.8v.8h-.8zM53.8 32.9h.8v.8h-.8zM62.7 30.0h.8v.8h-.8zM54.5 37.6h.8v.8h-.8zM57.2 25.0h.8v.8h-.8zM64.4 29.0h.8v.8h-.8zM63.4 20.5h.8v.8h-.8zM54.4 24.5h.8v.8h-.8zM50.8 30.1h.8v.8h-.8zM55.8 29.7h.8v.8h-.8zM67.9 27.7h.8v.8h-.8zM66.2 24.1h.8v.8h-.8zM60.6 33.5h.8v.8h-.8zM63.8 27.9h.8v.8h-.8zM59.9 29.2h.8v.8h-.8zM60.5 25.5h.8v.8h-.8zM70.7 29.4h.8v.8h-.8zM64.2 36.8h.8v.8h-.8zM56.5 23.4h.8v.8h-.8zM60.2 30.3h.8v.8h-.8zM59.1 25.9h.8v.8h-.8zM57.8 37.5h.8v.8h-.8zM64.9 20.4h.8v.8h-.8zM52.4 34.2h.8v.8h-.8zM56.3 24.1h.8v.8h-.8zM48.5 29.7h.8v.8h-.8zM66.8 37.0h.8v.8h-.8zM64.7 29.3h.8v.8h-.8zM60.9 27.3h.8v.8h-.8zM69.0 27.4h.8v.8h-.8zM51.9 25.8h.8v.8h-.8zM52.3 24.8h.8v.8h-.8zM72.2 28.6h.8v.8h-.8zM49.7 30.7h.8v.8h-.8zM61.3 25.7h.8v.8h-.8zM70.9 29.1h.8v.8h-.8zM63.6 21.2h.8v.8h-.8zM64.0 39.0h.8v.8h-.8zM66.6 23.1h.8v.8h-.8zM54.8 24.6h.8v.8h-.8zM52.6 30.3h.8v.8h-.8zM61.2 41.7h.8v.8h-.8zM61.3 27.5h.8v.8h-.8zM62.1 20.2h.8v.8h-.8zM57.4 21.2h.8v.8h-.8zM53.9 26.0h.8v.8h-.8zM62.2 27.3h.8v.8h-.8zM61.8 25.2h.8v.8h-.8zM64.0 22.9h.8v.8h-.8zM62.7 24.0h.8v.8h-.8zM61.2 34.3h.8v.8h-.8zM63.4 32.6h.8v.8h-.8zM58.9 17.9h.8v.8h-.8zM64.6 20.7h.8v.8h-.8zM61.9 24.8h.8v.8h-.8zM51.7 23.0h.8v.8h-.8zM56.5 33.6h.8v.8h-.8zM64.3 27.4h.8v.8h-.8zM62.5 27.4h.8v.8h-.8zM73.9 27.4h.8v.8h-.8zM47.6 31.0h.8v.8h-.8zM65.4 29.1h.8v.8h-.8zM57.4 37.2h.8v.8h-.8zM55.9 35.5h.8v.8h-.8zM41.9 26.6h.8v.8h-.8zM64.7 31.0h.8v.8h-.8zM73.4 21.7h.8v.8h-.8zM60.5 29.0h.8v.8h-.8zM53.6 35.6h.8v.8h-.8zM63.9 18.9h.8v.8h-.8zM57.0 27.8h.8v.8h-.8zM63.4 27.1h.8v.8h-.8zM53.6 29.3h.8v.8h-.8zM57.0 25.7h.8v.8h-.8zM67.9 24.3h.8v.8h-.8zM58.7 19.5h.8v.8h-.8zM57.3 30.6h.8v.8h-.8zM66.6 30.6h.8v.8h-.8zM42.4 30.2h.8v.8h-.8zM63.9 33.0h.8v.8h-.8zM67.8 22.4h.8v.8h-.8zM68.7 27.6h.8v.8h-.8zM48.1 33.1h.8v.8h-.8zM68.1 29.6h.8v.8h-.8zM50.4 22.1h.8v.8h-.8zM42.3 21.9h.8v.8h-.8zM64.6 25.9h.8v.8h-.8zM65.9 29.7h.8v.8h-.8zM55.3 27.7h.8v.8h-.8zM59.3 32.7h.8v.8h-.8zM63.1 37.7h.8v.8h-.8zM75.5 27.1h.8v.8h-.8zM65.1 32.8h.8v.8h-.8zM54.1 33.4h.8v.8h-.8zM47.0 26.3h.8v.8h-.8zM71.7 23.1h.8v.8h-.8zM53.7 26.2h.8v.8h-.8zM60.6 35.5h.8v.8h-.8zM66.0 26.6h.8v.8h-.8zM69.3 35.5h.8v.8h-.8zM72.1 37.8h.8v.8h-.8zM66.4 31.8h.8v.8h-.8zM62.0 30.2h.8v.8h-.8zM60.2 34.8h.8v.8h-.8zM76.0 37.0h.8v.8h-.8zM69.4 27.4h.8v.8h-.8zM78.8 24.4h.8v.8h-.8zM54.9 26.6h.8v.8h-.8zM63.5 29.0h.8v.8h-.8zM71.3 21.7h.8v.8h-.8zM58.2 41.9h.8v.8h-.8zM59.9 23.1h.8v.8h-.8zM66.9 35.1h.8v.8h-.8zM50.1 27.7h.8v.8h-.8zM56.0 23.6h.8v.8h-.8zM69.0 23.9h.8v.8h-.8zM55.8 19.4h.8v.8h-.8zM52.0 19.8h.8v.8h-.8zM64.0 26.6h.8v.8h-.8zM70.3 24.1h.8v.8h-.8zM55.5 32.1h.8v.8h-.8zM59.7 23.7h.8v.8h-.8zM69.0 21.2h.8v.8h-.8zM54.0 24.4h.8v.8h-.8zM60.1 35.5h.8v.8h-.8zM74.9 25.2h.8v.8h-.8zM60.8 34.4h.8v.8h-.8zM66.0 31.0h.8v.8h-.8zM58.9 21.7h.8v.8h-.8zM64.2 33.4h.8v.8h-.8zM70.5 25.2h.8v.8h-.8zM49.3 18.7h.8v.8h-.8zM65.7 29.5h.8v.8h-.8zM59.5 19.3h.8v.8h-.8zM64.0 19.7h.8v.8h-.8zM69.9 24.2h.8v.8h-.8zM64.2 27.3h.8v.8h-.8zM71.3 31.2h.8v.8h-.8zM53.8 24.6h.8v.8h-.8zM64.0 28.0h.8v.8h-.8zM60.0 23.9h.8v.8h-.8zM67.8 40.0h.8v.8h-.8zM59.7 32.1h.8v.8h-.8zM60.6 38.8h.8v.8h-.8zM61.9 19.6h.8v.8h-.8zM62.4 36.5h.8v.8h-.8zM58.2 27.6h.8v.8h-.8zM79.1 31.2h.8v.8h-.8zM55.8 23.5h.8v.8h-.8zM62.7 30.7h.8v.8h-.8zM63.1 30.5h.8v.8h-.8zM54.8 24.5h.8v.8h-.8zM58.3 19.9h.8v.8h-.8zM45.4 30.8h.8v.8h-.8zM49.2 25.0h.8v.8h-.8z"/><path fill-opacity="0.32" d="M67.2 23.5h.8v.8h-.8zM66.2 27.3h.8v.8h-.8zM61.0 24.8h.8v.8h-.8zM66.5 33.3h.8v.8h-.8zM66.0 25.3h.8v.8h-.8zM51.4 29.1h.8v.8h-.8zM68.8 29.6h.8v.8h-.8zM65.4 30.7h.8v.8h-.8zM76.5 28.1h.8v.8h-.8zM63.9 25.9h.8v.8h-.8zM49.7 24.5h.8v.8h-.8zM79.4 27.6h.8v.8h-.8zM56.6 33.1h.8v.8h-.8zM67.2 33.6h.8v.8h-.8zM61.3 29.3h.8v.8h-.8zM61.0 23.1h.8v.8h-.8zM63.6 31.9h.8v.8h-.8zM60.7 29.3h.8v.8h-.8zM67.5 17.6h.8v.8h-.8zM62.9 32.5h.8v.8h-.8zM59.3 33.7h.8v.8h-.8zM65.7 27.3h.8v.8h-.8zM49.8 27.8h.8v.8h-.8zM68.8 32.4h.8v.8h-.8zM60.4 38.8h.8v.8h-.8zM70.0 29.4h.8v.8h-.8zM75.9 22.1h.8v.8h-.8zM55.9 41.9h.8v.8h-.8zM55.6 28.5h.8v.8h-.8zM63.1 25.1h.8v.8h-.8zM59.1 25.6h.8v.8h-.8zM58.7 34.1h.8v.8h-.8zM49.2 24.5h.8v.8h-.8zM57.3 22.4h.8v.8h-.8zM60.7 32.0h.8v.8h-.8zM73.6 31.4h.8v.8h-.8zM57.9 25.0h.8v.8h-.8zM62.0 21.1h.8v.8h-.8zM66.8 33.9h.8v.8h-.8zM61.0 29.5h.8v.8h-.8zM69.5 23.3h.8v.8h-.8zM55.8 29.0h.8v.8h-.8zM79.5 25.9h.8v.8h-.8zM59.7 27.2h.8v.8h-.8zM55.4 23.5h.8v.8h-.8zM68.4 28.7h.8v.8h-.8zM57.4 32.1h.8v.8h-.8zM59.8 18.5h.8v.8h-.8zM59.3 28.7h.8v.8h-.8zM70.5 17.0h.8v.8h-.8zM65.0 26.6h.8v.8h-.8zM53.2 36.2h.8v.8h-.8zM71.8 29.5h.8v.8h-.8zM69.5 27.9h.8v.8h-.8zM69.8 24.0h.8v.8h-.8zM67.2 21.2h.8v.8h-.8zM48.9 29.3h.8v.8h-.8zM69.0 37.9h.8v.8h-.8zM54.6 23.3h.8v.8h-.8zM64.3 29.9h.8v.8h-.8zM56.7 29.2h.8v.8h-.8zM68.9 29.0h.8v.8h-.8zM55.5 24.3h.8v.8h-.8zM55.7 29.9h.8v.8h-.8zM72.9 32.4h.8v.8h-.8zM63.7 24.8h.8v.8h-.8zM64.3 30.2h.8v.8h-.8zM72.1 33.0h.8v.8h-.8zM59.2 28.6h.8v.8h-.8zM52.3 29.2h.8v.8h-.8zM54.2 26.7h.8v.8h-.8zM73.1 23.4h.8v.8h-.8zM57.7 34.0h.8v.8h-.8zM61.6 30.2h.8v.8h-.8zM62.2 18.2h.8v.8h-.8zM40.7 21.9h.8v.8h-.8zM61.2 33.6h.8v.8h-.8zM53.5 27.8h.8v.8h-.8zM64.5 18.4h.8v.8h-.8zM65.0 25.7h.8v.8h-.8zM75.3 25.4h.8v.8h-.8zM69.1 25.8h.8v.8h-.8zM67.3 32.4h.8v.8h-.8zM65.2 30.5h.8v.8h-.8zM56.7 25.7h.8v.8h-.8zM58.9 21.3h.8v.8h-.8zM72.9 26.4h.8v.8h-.8zM64.0 34.6h.8v.8h-.8zM62.6 35.0h.8v.8h-.8zM52.3 32.8h.8v.8h-.8zM62.5 30.9h.8v.8h-.8zM60.3 27.1h.8v.8h-.8zM46.1 27.3h.8v.8h-.8zM54.7 19.4h.8v.8h-.8zM61.0 21.9h.8v.8h-.8zM71.9 25.8h.8v.8h-.8zM77.5 29.3h.8v.8h-.8zM77.7 29.4h.8v.8h-.8zM61.4 30.3h.8v.8h-.8zM64.6 32.7h.8v.8h-.8zM67.3 26.0h.8v.8h-.8zM62.4 30.9h.8v.8h-.8zM62.7 26.1h.8v.8h-.8zM56.9 19.3h.8v.8h-.8zM67.3 31.6h.8v.8h-.8zM57.6 20.8h.8v.8h-.8zM56.3 27.6h.8v.8h-.8zM70.2 27.0h.8v.8h-.8zM49.6 29.3h.8v.8h-.8zM57.6 17.7h.8v.8h-.8zM68.1 22.5h.8v.8h-.8zM64.9 24.7h.8v.8h-.8zM54.2 32.0h.8v.8h-.8zM64.2 29.0h.8v.8h-.8zM53.6 31.7h.8v.8h-.8zM64.7 19.4h.8v.8h-.8zM41.3 25.0h.8v.8h-.8zM55.1 34.2h.8v.8h-.8zM59.7 25.6h.8v.8h-.8zM65.2 25.7h.8v.8h-.8zM60.4 22.9h.8v.8h-.8zM61.5 27.2h.8v.8h-.8zM51.4 24.7h.8v.8h-.8zM65.3 28.5h.8v.8h-.8zM55.4 30.9h.8v.8h-.8zM55.9 27.9h.8v.8h-.8zM58.4 25.0h.8v.8h-.8zM71.6 34.8h.8v.8h-.8zM52.8 27.0h.8v.8h-.8zM57.1 24.2h.8v.8h-.8zM61.3 26.9h.8v.8h-.8zM57.0 27.8h.8v.8h-.8zM60.4 31.4h.8v.8h-.8zM73.0 33.1h.8v.8h-.8zM67.0 33.9h.8v.8h-.8zM61.8 35.6h.8v.8h-.8zM57.1 14.5h.8v.8h-.8zM58.4 34.3h.8v.8h-.8zM48.3 27.9h.8v.8h-.8zM70.8 22.2h.8v.8h-.8zM57.8 23.8h.8v.8h-.8zM60.6 30.6h.8v.8h-.8zM72.5 22.5h.8v.8h-.8zM64.5 36.8h.8v.8h-.8zM61.8 23.8h.8v.8h-.8zM62.3 20.8h.8v.8h-.8zM68.6 22.9h.8v.8h-.8zM64.9 34.4h.8v.8h-.8zM56.1 20.2h.8v.8h-.8zM49.3 33.2h.8v.8h-.8zM46.6 26.0h.8v.8h-.8zM65.2 24.8h.8v.8h-.8zM59.1 17.0h.8v.8h-.8zM62.5 29.5h.8v.8h-.8zM54.5 29.5h.8v.8h-.8zM49.7 23.1h.8v.8h-.8zM69.3 26.2h.8v.8h-.8zM64.1 15.8h.8v.8h-.8zM43.3 34.1h.8v.8h-.8zM65.8 27.0h.8v.8h-.8zM65.0 26.8h.8v.8h-.8zM46.8 19.2h.8v.8h-.8zM77.0 33.5h.8v.8h-.8zM60.8 30.4h.8v.8h-.8zM42.0 29.0h.8v.8h-.8zM63.1 35.6h.8v.8h-.8zM58.1 39.3h.8v.8h-.8z"/><path fill-opacity="0.32" d="M62.9 30.5h.8v.8h-.8zM63.7 33.1h.8v.8h-.8zM57.0 34.4h.8v.8h-.8zM60.5 40.1h.8v.8h-.8zM62.2 21.7h.8v.8h-.8zM69.9 25.0h.8v.8h-.8zM52.6 24.3h.8v.8h-.8zM57.1 27.9h.8v.8h-.8zM62.7 27.2h.8v.8h-.8zM68.4 30.0h.8v.8h-.8zM61.5 22.2h.8v.8h-.8zM62.9 26.0h.8v.8h-.8zM63.3 27.7h.8v.8h-.8zM63.8 26.3h.8v.8h-.8zM67.4 23.6h.8v.8h-.8zM65.4 33.1h.8v.8h-.8zM54.6 27.0h.8v.8h-.8zM66.3 37.4h.8v.8h-.8zM57.7 28.8h.8v.8h-.8zM48.0 26.5h.8v.8h-.8zM79.7 35.3h.8v.8h-.8zM63.7 35.2h.8v.8h-.8zM79.3 23.5h.8v.8h-.8zM57.9 40.7h.8v.8h-.8zM60.1 34.8h.8v.8h-.8zM61.6 23.2h.8v.8h-.8zM77.8 28.4h.8v.8h-.8zM71.8 34.2h.8v.8h-.8zM65.4 22.8h.8v.8h-.8zM70.3 38.2h.8v.8h-.8zM60.5 22.4h.8v.8h-.8zM60.4 18.3h.8v.8h-.8zM62.3 28.5h.8v.8h-.8zM75.5 36.1h.8v.8h-.8zM65.2 22.5h.8v.8h-.8zM67.6 28.2h.8v.8h-.8zM51.7 24.9h.8v.8h-.8zM55.3 26.3h.8v.8h-.8zM59.9 36.7h.8v.8h-.8zM68.9 20.7h.8v.8h-.8zM58.5 21.7h.8v.8h-.8zM60.0 23.4h.8v.8h-.8zM57.5 15.2h.8v.8h-.8zM62.5 27.0h.8v.8h-.8zM68.9 26.7h.8v.8h-.8zM61.8 30.2h.8v.8h-.8zM62.5 28.4h.8v.8h-.8zM53.8 31.2h.8v.8h-.8zM61.1 29.6h.8v.8h-.8zM60.9 22.4h.8v.8h-.8zM52.8 42.5h.8v.8h-.8zM71.5 29.6h.8v.8h-.8zM75.7 22.4h.8v.8h-.8zM57.5 23.8h.8v.8h-.8zM67.8 35.6h.8v.8h-.8zM62.9 25.1h.8v.8h-.8zM66.0 21.3h.8v.8h-.8zM63.8 35.8h.8v.8h-.8zM53.5 31.2h.8v.8h-.8zM66.8 38.0h.8v.8h-.8zM54.9 33.7h.8v.8h-.8zM62.7 24.1h.8v.8h-.8zM59.6 23.8h.8v.8h-.8zM55.0 25.2h.8v.8h-.8zM69.0 28.9h.8v.8h-.8zM51.0 32.3h.8v.8h-.8zM55.9 27.7h.8v.8h-.8zM71.7 29.2h.8v.8h-.8zM49.1 28.0h.8v.8h-.8zM66.1 28.5h.8v.8h-.8zM61.3 34.7h.8v.8h-.8zM57.6 32.5h.8v.8h-.8zM74.6 20.6h.8v.8h-.8zM59.8 15.3h.8v.8h-.8zM67.5 30.6h.8v.8h-.8zM57.8 30.0h.8v.8h-.8zM71.7 30.5h.8v.8h-.8zM59.4 35.9h.8v.8h-.8zM57.4 32.8h.8v.8h-.8zM68.5 34.4h.8v.8h-.8zM56.9 22.3h.8v.8h-.8zM54.7 21.1h.8v.8h-.8zM66.2 32.9h.8v.8h-.8zM61.8 31.9h.8v.8h-.8zM69.3 32.0h.8v.8h-.8zM63.9 26.2h.8v.8h-.8zM44.1 28.5h.8v.8h-.8zM62.2 34.0h.8v.8h-.8zM57.9 25.4h.8v.8h-.8zM65.2 31.4h.8v.8h-.8zM59.1 27.4h.8v.8h-.8zM65.4 38.8h.8v.8h-.8zM62.2 26.8h.8v.8h-.8zM54.1 25.3h.8v.8h-.8zM69.9 17.0h.8v.8h-.8zM66.4 32.8h.8v.8h-.8zM63.2 21.1h.8v.8h-.8zM61.4 28.7h.8v.8h-.8zM66.3 27.4h.8v.8h-.8zM61.2 31.0h.8v.8h-.8zM50.7 31.4h.8v.8h-.8zM65.7 28.6h.8v.8h-.8zM69.7 35.8h.8v.8h-.8zM60.1 27.8h.8v.8h-.8zM56.5 18.1h.8v.8h-.8zM59.0 34.4h.8v.8h-.8zM63.7 27.4h.8v.8h-.8zM59.9 30.7h.8v.8h-.8zM59.4 11.9h.8v.8h-.8zM64.0 35.6h.8v.8h-.8zM48.4 20.5h.8v.8h-.8zM58.5 26.1h.8v.8h-.8zM67.8 29.0h.8v.8h-.8zM70.7 28.8h.8v.8h-.8zM66.0 33.5h.8v.8h-.8zM65.2 27.8h.8v.8h-.8zM68.7 27.2h.8v.8h-.8zM54.1 23.1h.8v.8h-.8zM72.9 36.2h.8v.8h-.8zM47.0 27.3h.8v.8h-.8zM58.8 27.8h.8v.8h-.8zM67.8 29.9h.8v.8h-.8zM53.1 34.0h.8v.8h-.8zM67.1 19.8h.8v.8h-.8zM62.8 26.1h.8v.8h-.8zM56.4 24.0h.8v.8h-.8zM66.2 26.1h.8v.8h-.8zM59.4 28.5h.8v.8h-.8zM63.8 37.1h.8v.8h-.8zM73.3 35.4h.8v.8h-.8zM53.7 30.1h.8v.8h-.8zM71.0 31.6h.8v.8h-.8zM56.0 33.2h.8v.8h-.8zM49.9 23.0h.8v.8h-.8zM65.3 34.5h.8v.8h-.8zM63.4 39.9h.8v.8h-.8zM58.6 25.6h.8v.8h-.8zM62.4 31.2h.8v.8h-.8zM60.1 24.3h.8v.8h-.8zM61.4 27.9h.8v.8h-.8zM69.1 34.8h.8v.8h-.8zM60.2 26.7h.8v.8h-.8zM61.1 32.7h.8v.8h-.8zM55.1 31.3h.8v.8h-.8zM71.7 37.0h.8v.8h-.8zM67.8 31.0h.8v.8h-.8zM62.9 22.4h.8v.8h-.8zM58.7 25.1h.8v.8h-.8zM54.3 26.7h.8v.8h-.8zM66.9 18.6h.8v.8h-.8zM75.1 25.9h.8v.8h-.8zM66.9 26.2h.8v.8h-.8zM62.6 24.4h.8v.8h-.8zM75.8 17.6h.8v.8h-.8zM62.9 27.1h.8v.8h-.8zM60.8 24.2h.8v.8h-.8zM57.4 31.0h.8v.8h-.8zM73.7 36.1h.8v.8h-.8zM55.5 23.0h.8v.8h-.8zM53.5 30.9h.8v.8h-.8zM68.8 27.1h.8v.8h-.8zM59.4 20.2h.8v.8h-.8zM65.9 35.5h.8v.8h-.8zM57.2 21.6h.8v.8h-.8zM57.9 24.5h.8v.8h-.8zM54.9 20.5h.8v.8h-.8zM68.6 22.8h.8v.8h-.8z"/><path fill-opacity="0.32" d="M56.9 29.6h.8v.8h-.8zM68.0 21.7h.8v.8h-.8zM54.8 25.0h.8v.8h-.8zM58.2 35.3h.8v.8h-.8zM52.8 35.9h.8v.8h-.8zM51.9 28.1h.8v.8h-.8zM53.8 25.7h.8v.8h-.8zM47.5 34.1h.8v.8h-.8zM66.2 24.7h.8v.8h-.8zM54.4 24.0h.8v.8h-.8zM77.2 32.5h.8v.8h-.8zM57.2 32.0h.8v.8h-.8zM62.4 25.7h.8v.8h-.8zM58.1 25.9h.8v.8h-.8zM69.5 30.5h.8v.8h-.8zM68.1 27.0h.8v.8h-.8zM63.0 26.2h.8v.8h-.8zM58.8 27.2h.8v.8h-.8zM59.7 32.8h.8v.8h-.8zM56.2 19.4h.8v.8h-.8zM67.5 31.1h.8v.8h-.8zM65.2 35.0h.8v.8h-.8zM60.1 26.4h.8v.8h-.8zM64.0 20.8h.8v.8h-.8zM57.3 27.9h.8v.8h-.8zM57.5 36.3h.8v.8h-.8zM72.9 28.2h.8v.8h-.8zM62.9 23.1h.8v.8h-.8zM53.0 20.2h.8v.8h-.8zM66.8 18.0h.8v.8h-.8zM56.9 28.3h.8v.8h-.8zM61.7 39.0h.8v.8h-.8zM66.7 29.7h.8v.8h-.8zM68.1 34.9h.8v.8h-.8zM55.9 41.0h.8v.8h-.8zM56.6 28.8h.8v.8h-.8zM56.3 27.6h.8v.8h-.8zM54.9 26.6h.8v.8h-.8zM57.6 26.4h.8v.8h-.8zM72.0 24.7h.8v.8h-.8zM62.5 28.1h.8v.8h-.8zM65.8 18.2h.8v.8h-.8zM68.7 33.0h.8v.8h-.8zM65.9 18.1h.8v.8h-.8zM50.0 35.6h.8v.8h-.8zM68.9 23.9h.8v.8h-.8zM57.7 36.8h.8v.8h-.8zM66.7 21.9h.8v.8h-.8zM46.6 28.7h.8v.8h-.8zM60.2 36.2h.8v.8h-.8zM64.2 30.7h.8v.8h-.8zM76.7 34.9h.8v.8h-.8zM73.3 25.7h.8v.8h-.8zM62.1 33.4h.8v.8h-.8zM64.9 28.5h.8v.8h-.8zM64.0 27.0h.8v.8h-.8zM65.9 24.2h.8v.8h-.8zM64.2 32.9h.8v.8h-.8zM63.4 21.1h.8v.8h-.8zM74.0 22.6h.8v.8h-.8zM70.9 24.1h.8v.8h-.8zM73.2 26.6h.8v.8h-.8zM70.6 39.2h.8v.8h-.8zM64.6 31.7h.8v.8h-.8zM62.4 24.2h.8v.8h-.8zM50.2 19.7h.8v.8h-.8zM65.1 28.2h.8v.8h-.8zM58.0 25.9h.8v.8h-.8zM59.6 33.5h.8v.8h-.8zM50.0 26.2h.8v.8h-.8zM60.8 30.5h.8v.8h-.8zM56.8 24.7h.8v.8h-.8zM53.3 28.2h.8v.8h-.8zM51.4 36.8h.8v.8h-.8zM51.7 25.6h.8v.8h-.8zM69.8 31.0h.8v.8h-.8zM73.0 27.6h.8v.8h-.8zM50.3 17.5h.8v.8h-.8zM61.4 31.2h.8v.8h-.8zM48.0 31.5h.8v.8h-.8zM79.3 35.1h.8v.8h-.8zM56.3 27.2h.8v.8h-.8zM52.6 27.4h.8v.8h-.8zM62.1 23.6h.8v.8h-.8zM59.7 33.6h.8v.8h-.8zM71.4 31.4h.8v.8h-.8zM66.1 31.5h.8v.8h-.8zM60.3 24.4h.8v.8h-.8zM63.4 23.8h.8v.8h-.8zM64.0 28.7h.8v.8h-.8zM46.1 37.6h.8v.8h-.8zM62.6 34.2h.8v.8h-.8zM57.8 29.2h.8v.8h-.8zM67.7 23.1h.8v.8h-.8zM58.7 27.2h.8v.8h-.8zM70.4 36.1h.8v.8h-.8zM61.1 29.1h.8v.8h-.8zM62.4 25.0h.8v.8h-.8zM56.1 29.0h.8v.8h-.8zM55.0 30.3h.8v.8h-.8zM58.0 37.2h.8v.8h-.8zM61.5 31.7h.8v.8h-.8zM64.1 39.7h.8v.8h-.8zM56.3 41.6h.8v.8h-.8zM56.0 27.8h.8v.8h-.8zM57.1 29.3h.8v.8h-.8zM54.6 24.9h.8v.8h-.8zM62.9 28.0h.8v.8h-.8zM68.8 26.2h.8v.8h-.8zM54.3 25.3h.8v.8h-.8zM60.4 25.2h.8v.8h-.8zM63.9 26.3h.8v.8h-.8zM52.3 35.6h.8v.8h-.8zM57.7 33.2h.8v.8h-.8zM64.2 28.7h.8v.8h-.8zM66.8 42.1h.8v.8h-.8zM56.3 27.2h.8v.8h-.8zM67.6 31.8h.8v.8h-.8zM54.9 21.9h.8v.8h-.8zM63.2 39.7h.8v.8h-.8zM67.6 30.7h.8v.8h-.8zM59.1 45.6h.8v.8h-.8zM55.4 29.2h.8v.8h-.8zM71.7 32.0h.8v.8h-.8zM55.6 26.7h.8v.8h-.8zM62.6 25.4h.8v.8h-.8zM64.2 29.0h.8v.8h-.8zM56.9 26.3h.8v.8h-.8zM69.3 30.8h.8v.8h-.8zM63.2 22.5h.8v.8h-.8zM53.8 28.5h.8v.8h-.8zM66.8 22.2h.8v.8h-.8zM56.6 33.7h.8v.8h-.8zM53.3 40.8h.8v.8h-.8zM63.4 19.4h.8v.8h-.8zM60.3 22.1h.8v.8h-.8zM54.5 34.7h.8v.8h-.8zM60.3 25.7h.8v.8h-.8zM66.8 46.3h.8v.8h-.8zM65.2 25.7h.8v.8h-.8zM63.5 21.8h.8v.8h-.8zM60.4 20.3h.8v.8h-.8zM62.9 22.2h.8v.8h-.8zM61.5 30.9h.8v.8h-.8zM61.5 16.8h.8v.8h-.8zM61.2 23.9h.8v.8h-.8zM52.9 26.0h.8v.8h-.8zM55.1 27.3h.8v.8h-.8zM72.9 18.5h.8v.8h-.8zM62.5 31.3h.8v.8h-.8zM60.0 34.4h.8v.8h-.8zM72.9 32.6h.8v.8h-.8zM64.8 26.4h.8v.8h-.8zM64.3 33.2h.8v.8h-.8zM59.9 29.0h.8v.8h-.8zM74.2 32.0h.8v.8h-.8zM58.9 27.1h.8v.8h-.8zM57.2 28.9h.8v.8h-.8zM70.0 32.7h.8v.8h-.8zM60.6 24.1h.8v.8h-.8zM56.4 22.8h.8v.8h-.8zM73.9 25.9h.8v.8h-.8zM69.2 31.7h.8v.8h-.8zM68.9 34.8h.8v.8h-.8zM64.1 28.8h.8v.8h-.8zM60.5 26.4h.8v.8h-.8z"/><path fill-opacity="0.32" d="M66.9 23.2h.8v.8h-.8zM57.3 32.2h.8v.8h-.8zM52.8 26.1h.8v.8h-.8zM58.9 30.8h.8v.8h-.8zM49.9 26.2h.8v.8h-.8zM67.3 28.9h.8v.8h-.8zM60.8 36.8h.8v.8h-.8zM65.0 25.4h.8v.8h-.8zM56.0 28.6h.8v.8h-.8zM66.0 32.8h.8v.8h-.8zM59.3 33.1h.8v.8h-.8zM58.1 33.4h.8v.8h-.8zM65.4 24.0h.8v.8h-.8zM60.3 29.5h.8v.8h-.8zM60.0 31.0h.8v.8h-.8zM63.3 28.9h.8v.8h-.8zM62.3 32.9h.8v.8h-.8zM65.4 30.2h.8v.8h-.8zM49.2 29.2h.8v.8h-.8zM62.7 31.8h.8v.8h-.8zM63.2 27.1h.8v.8h-.8zM68.7 30.7h.8v.8h-.8zM57.7 29.2h.8v.8h-.8zM67.0 26.7h.8v.8h-.8zM53.5 23.5h.8v.8h-.8zM52.1 24.2h.8v.8h-.8zM55.9 27.0h.8v.8h-.8zM59.3 14.6h.8v.8h-.8zM60.6 17.9h.8v.8h-.8zM57.9 31.8h.8v.8h-.8zM69.5 35.2h.8v.8h-.8zM61.9 27.8h.8v.8h-.8zM54.8 15.3h.8v.8h-.8zM65.4 33.6h.8v.8h-.8zM61.5 22.7h.8v.8h-.8zM52.0 31.4h.8v.8h-.8zM62.5 28.1h.8v.8h-.8zM59.8 26.7h.8v.8h-.8zM74.3 35.7h.8v.8h-.8zM58.4 27.1h.8v.8h-.8zM58.9 21.5h.8v.8h-.8zM58.8 29.6h.8v.8h-.8zM73.2 22.0h.8v.8h-.8zM68.8 43.1h.8v.8h-.8zM63.0 17.8h.8v.8h-.8zM51.0 19.0h.8v.8h-.8zM59.7 28.6h.8v.8h-.8zM65.4 25.9h.8v.8h-.8zM51.2 28.0h.8v.8h-.8zM69.8 31.0h.8v.8h-.8zM63.4 22.3h.8v.8h-.8zM66.9 28.9h.8v.8h-.8zM55.5 30.1h.8v.8h-.8zM58.0 25.1h.8v.8h-.8zM61.8 34.0h.8v.8h-.8zM61.8 28.3h.8v.8h-.8zM55.3 42.1h.8v.8h-.8zM70.0 36.1h.8v.8h-.8zM73.0 25.2h.8v.8h-.8zM56.7 35.7h.8v.8h-.8zM64.3 24.0h.8v.8h-.8zM60.2 29.9h.8v.8h-.8zM74.0 36.3h.8v.8h-.8zM63.2 29.7h.8v.8h-.8zM63.6 25.6h.8v.8h-.8zM48.7 25.9h.8v.8h-.8zM65.1 21.8h.8v.8h-.8zM75.6 36.2h.8v.8h-.8zM50.8 30.4h.8v.8h-.8zM63.1 22.3h.8v.8h-.8zM62.4 34.3h.8v.8h-.8zM62.2 26.6h.8v.8h-.8zM56.9 34.2h.8v.8h-.8zM66.3 24.1h.8v.8h-.8zM51.2 28.3h.8v.8h-.8zM59.7 27.5h.8v.8h-.8zM58.5 22.0h.8v.8h-.8zM62.6 41.7h.8v.8h-.8zM53.0 26.8h.8v.8h-.8zM64.3 27.4h.8v.8h-.8zM67.5 30.8h.8v.8h-.8zM48.2 42.4h.8v.8h-.8zM66.9 19.9h.8v.8h-.8zM69.4 37.3h.8v.8h-.8zM75.4 25.0h.8v.8h-.8zM60.7 31.1h.8v.8h-.8zM64.1 27.4h.8v.8h-.8zM53.8 36.2h.8v.8h-.8zM67.2 18.5h.8v.8h-.8zM57.6 34.4h.8v.8h-.8zM65.5 30.5h.8v.8h-.8zM60.0 28.2h.8v.8h-.8zM54.2 25.8h.8v.8h-.8zM57.6 21.1h.8v.8h-.8zM61.1 44.6h.8v.8h-.8zM50.3 27.2h.8v.8h-.8zM56.7 24.7h.8v.8h-.8zM52.1 23.7h.8v.8h-.8zM64.2 35.1h.8v.8h-.8zM65.8 28.6h.8v.8h-.8zM67.4 35.9h.8v.8h-.8zM56.5 31.6h.8v.8h-.8zM58.7 39.8h.8v.8h-.8zM64.4 19.5h.8v.8h-.8zM51.5 30.0h.8v.8h-.8zM67.8 24.3h.8v.8h-.8zM58.2 27.0h.8v.8h-.8zM59.4 32.9h.8v.8h-.8zM67.3 31.8h.8v.8h-.8zM68.4 22.5h.8v.8h-.8zM72.5 33.3h.8v.8h-.8zM69.3 28.9h.8v.8h-.8zM61.1 23.8h.8v.8h-.8zM67.9 26.2h.8v.8h-.8zM67.5 29.5h.8v.8h-.8zM75.2 26.3h.8v.8h-.8zM76.0 32.1h.8v.8h-.8zM68.0 24.6h.8v.8h-.8zM55.3 21.6h.8v.8h-.8zM58.1 22.3h.8v.8h-.8zM64.0 23.0h.8v.8h-.8zM66.2 18.4h.8v.8h-.8zM65.9 20.2h.8v.8h-.8zM57.8 14.7h.8v.8h-.8zM60.4 25.7h.8v.8h-.8zM56.9 31.4h.8v.8h-.8zM63.0 25.3h.8v.8h-.8zM54.7 29.6h.8v.8h-.8zM53.4 34.5h.8v.8h-.8zM60.2 23.6h.8v.8h-.8zM76.0 26.3h.8v.8h-.8zM60.5 26.8h.8v.8h-.8zM59.5 33.6h.8v.8h-.8zM55.4 29.6h.8v.8h-.8zM78.6 24.9h.8v.8h-.8zM56.1 33.8h.8v.8h-.8zM71.3 23.8h.8v.8h-.8zM62.1 23.8h.8v.8h-.8zM48.4 19.3h.8v.8h-.8zM74.2 19.8h.8v.8h-.8zM58.2 31.3h.8v.8h-.8zM51.6 28.8h.8v.8h-.8zM66.0 30.4h.8v.8h-.8zM57.4 20.2h.8v.8h-.8zM57.0 31.8h.8v.8h-.8zM61.5 24.2h.8v.8h-.8zM54.2 25.7h.8v.8h-.8zM64.5 23.7h.8v.8h-.8zM55.4 29.5h.8v.8h-.8zM61.0 25.3h.8v.8h-.8zM68.2 16.8h.8v.8h-.8zM65.4 32.0h.8v.8h-.8zM65.7 25.0h.8v.8h-.8zM64.5 23.9h.8v.8h-.8zM56.0 31.6h.8v.8h-.8zM68.2 28.6h.8v.8h-.8zM65.6 25.2h.8v.8h-.8zM64.9 22.7h.8v.8h-.8zM65.6 22.4h.8v.8h-.8zM61.6 33.2h.8v.8h-.8zM62.6 31.8h.8v.8h-.8zM64.9 22.0h.8v.8h-.8zM59.0 23.5h.8v.8h-.8zM66.5 29.7h.8v.8h-.8zM66.6 23.5h.8v.8h-.8zM58.8 29.6h.8v.8h-.8z"/><path fill-opacity="0.32" d="M58.7 31.8h.8v.8h-.8zM70.2 27.0h.8v.8h-.8zM71.8 24.5h.8v.8h-.8zM61.5 32.1h.8v.8h-.8zM75.0 24.1h.8v.8h-.8zM68.6 35.3h.8v.8h-.8zM62.1 31.4h.8v.8h-.8zM60.6 30.7h.8v.8h-.8zM68.4 33.4h.8v.8h-.8zM65.3 31.9h.8v.8h-.8zM59.1 21.5h.8v.8h-.8zM59.4 31.3h.8v.8h-.8zM62.3 32.5h.8v.8h-.8zM64.3 34.9h.8v.8h-.8zM62.0 22.9h.8v.8h-.8zM61.5 23.8h.8v.8h-.8zM55.9 31.9h.8v.8h-.8zM72.9 30.4h.8v.8h-.8zM61.1 25.2h.8v.8h-.8zM64.8 29.4h.8v.8h-.8zM43.2 16.6h.8v.8h-.8zM62.8 35.5h.8v.8h-.8zM72.4 33.8h.8v.8h-.8zM54.3 28.2h.8v.8h-.8zM65.0 27.8h.8v.8h-.8zM62.7 31.8h.8v.8h-.8zM52.5 32.4h.8v.8h-.8zM62.0 34.9h.8v.8h-.8zM57.5 42.0h.8v.8h-.8zM53.0 31.9h.8v.8h-.8zM68.4 33.5h.8v.8h-.8zM51.0 20.9h.8v.8h-.8zM63.2 34.9h.8v.8h-.8zM59.1 36.9h.8v.8h-.8zM59.3 21.3h.8v.8h-.8zM57.1 37.5h.8v.8h-.8zM64.9 21.0h.8v.8h-.8zM57.3 36.1h.8v.8h-.8zM74.8 27.7h.8v.8h-.8zM74.4 30.0h.8v.8h-.8zM62.2 21.5h.8v.8h-.8zM76.0 32.5h.8v.8h-.8zM65.7 32.0h.8v.8h-.8zM69.8 19.4h.8v.8h-.8zM54.6 27.2h.8v.8h-.8zM53.6 20.8h.8v.8h-.8zM54.1 29.1h.8v.8h-.8zM63.5 40.9h.8v.8h-.8zM53.5 24.9h.8v.8h-.8zM59.5 23.8h.8v.8h-.8zM54.0 29.3h.8v.8h-.8zM72.9 39.2h.8v.8h-.8zM69.6 25.3h.8v.8h-.8zM65.3 30.2h.8v.8h-.8zM59.9 26.1h.8v.8h-.8zM61.5 30.8h.8v.8h-.8zM75.4 35.0h.8v.8h-.8zM68.5 26.6h.8v.8h-.8zM68.2 30.5h.8v.8h-.8zM67.1 24.2h.8v.8h-.8zM60.6 25.6h.8v.8h-.8zM56.6 25.7h.8v.8h-.8zM66.4 28.4h.8v.8h-.8zM58.0 35.1h.8v.8h-.8zM71.0 25.8h.8v.8h-.8zM46.3 15.0h.8v.8h-.8zM61.5 31.1h.8v.8h-.8zM62.4 25.8h.8v.8h-.8zM70.0 28.0h.8v.8h-.8zM65.4 13.8h.8v.8h-.8zM72.4 37.6h.8v.8h-.8zM65.1 35.9h.8v.8h-.8zM57.1 21.0h.8v.8h-.8zM62.0 27.3h.8v.8h-.8zM54.9 23.5h.8v.8h-.8zM69.1 26.5h.8v.8h-.8zM56.2 28.9h.8v.8h-.8zM62.0 27.0h.8v.8h-.8zM62.2 27.8h.8v.8h-.8zM67.2 19.0h.8v.8h-.8zM68.8 16.9h.8v.8h-.8zM65.8 44.4h.8v.8h-.8zM63.8 34.0h.8v.8h-.8zM55.0 28.5h.8v.8h-.8zM40.4 31.3h.8v.8h-.8zM54.9 34.0h.8v.8h-.8zM56.2 22.8h.8v.8h-.8zM64.0 27.7h.8v.8h-.8zM63.6 29.8h.8v.8h-.8zM60.8 22.4h.8v.8h-.8zM57.5 35.5h.8v.8h-.8zM65.4 27.4h.8v.8h-.8zM71.1 31.2h.8v.8h-.8zM59.7 26.7h.8v.8h-.8zM74.2 24.8h.8v.8h-.8zM56.2 34.6h.8v.8h-.8zM54.8 29.4h.8v.8h-.8zM61.5 21.6h.8v.8h-.8zM68.2 26.3h.8v.8h-.8zM59.2 38.8h.8v.8h-.8zM68.6 28.3h.8v.8h-.8zM65.0 28.9h.8v.8h-.8zM63.1 29.7h.8v.8h-.8zM53.1 19.6h.8v.8h-.8zM62.2 19.8h.8v.8h-.8zM73.1 19.3h.8v.8h-.8zM63.4 32.9h.8v.8h-.8zM60.7 36.7h.8v.8h-.8zM48.9 21.9h.8v.8h-.8zM60.5 25.4h.8v.8h-.8zM62.1 30.3h.8v.8h-.8zM71.0 30.6h.8v.8h-.8zM60.5 20.8h.8v.8h-.8zM64.7 27.5h.8v.8h-.8zM61.7 14.7h.8v.8h-.8zM57.7 19.3h.8v.8h-.8zM55.8 32.4h.8v.8h-.8zM57.1 31.9h.8v.8h-.8zM62.6 31.2h.8v.8h-.8zM55.3 26.6h.8v.8h-.8zM64.6 34.2h.8v.8h-.8zM65.7 29.6h.8v.8h-.8zM61.0 30.2h.8v.8h-.8zM65.8 27.1h.8v.8h-.8zM64.9 43.0h.8v.8h-.8zM64.6 24.7h.8v.8h-.8zM61.7 27.0h.8v.8h-.8zM74.1 27.8h.8v.8h-.8zM61.1 24.3h.8v.8h-.8zM62.5 34.1h.8v.8h-.8zM56.7 29.4h.8v.8h-.8zM76.0 21.7h.8v.8h-.8zM55.3 31.9h.8v.8h-.8zM58.7 31.3h.8v.8h-.8zM54.2 25.4h.8v.8h-.8zM52.9 26.6h.8v.8h-.8zM65.1 34.5h.8v.8h-.8zM60.2 27.1h.8v.8h-.8zM59.6 26.7h.8v.8h-.8zM71.0 30.5h.8v.8h-.8zM60.4 34.5h.8v.8h-.8zM74.1 30.4h.8v.8h-.8zM67.7 25.3h.8v.8h-.8zM73.8 27.2h.8v.8h-.8zM60.7 17.5h.8v.8h-.8zM69.0 22.9h.8v.8h-.8zM50.5 14.6h.8v.8h-.8zM61.1 23.9h.8v.8h-.8zM61.8 18.9h.8v.8h-.8zM63.9 33.9h.8v.8h-.8zM69.7 31.7h.8v.8h-.8zM70.7 36.8h.8v.8h-.8zM75.5 34.2h.8v.8h-.8zM65.4 27.7h.8v.8h-.8zM62.8 30.9h.8v.8h-.8zM69.5 32.1h.8v.8h-.8zM52.1 28.9h.8v.8h-.8zM57.5 31.0h.8v.8h-.8zM63.1 29.2h.8v.8h-.8zM73.1 24.6h.8v.8h-.8zM48.1 26.7h.8v.8h-.8zM62.4 26.7h.8v.8h-.8zM59.0 30.4h.8v.8h-.8zM61.2 25.8h.8v.8h-.8zM40.7 24.4h.8v.8h-.8zM66.1 26.6h.8v.8h-.8z"/><path fill-opacity="0.42" d="M63.3 28.9h.8v.8h-.8zM58.1 27.8h.8v.8h-.8zM62.0 30.1h.8v.8h-.8zM54.1 31.9h.8v.8h-.8zM64.9 32.2h.8v.8h-.8zM56.8 28.7h.8v.8h-.8zM67.4 28.3h.8v.8h-.8zM68.3 28.4h.8v.8h-.8zM57.2 29.5h.8v.8h-.8zM64.7 28.0h.8v.8h-.8zM67.2 29.7h.8v.8h-.8zM60.9 25.2h.8v.8h-.8zM59.5 26.2h.8v.8h-.8zM69.5 30.9h.8v.8h-.8zM58.6 27.3h.8v.8h-.8zM65.3 28.4h.8v.8h-.8zM60.9 25.0h.8v.8h-.8zM67.9 23.3h.8v.8h-.8zM65.0 26.9h.8v.8h-.8zM61.3 32.0h.8v.8h-.8zM69.8 32.9h.8v.8h-.8zM64.5 30.0h.8v.8h-.8zM62.3 28.5h.8v.8h-.8zM60.1 28.2h.8v.8h-.8zM58.8 26.5h.8v.8h-.8zM62.2 23.9h.8v.8h-.8zM67.4 26.7h.8v.8h-.8zM58.8 25.0h.8v.8h-.8zM65.0 29.7h.8v.8h-.8zM59.8 30.2h.8v.8h-.8zM66.3 27.3h.8v.8h-.8zM67.9 28.9h.8v.8h-.8zM58.3 30.9h.8v.8h-.8zM58.8 30.1h.8v.8h-.8zM64.8 31.4h.8v.8h-.8zM61.7 31.7h.8v.8h-.8zM53.9 27.1h.8v.8h-.8zM65.2 27.8h.8v.8h-.8zM62.4 26.8h.8v.8h-.8zM58.2 28.6h.8v.8h-.8zM62.5 26.9h.8v.8h-.8zM62.3 26.7h.8v.8h-.8zM62.2 33.0h.8v.8h-.8zM61.8 28.5h.8v.8h-.8zM59.8 28.0h.8v.8h-.8zM65.8 29.3h.8v.8h-.8zM68.5 31.3h.8v.8h-.8zM62.5 29.1h.8v.8h-.8zM63.9 28.0h.8v.8h-.8zM66.7 26.3h.8v.8h-.8zM63.3 20.3h.8v.8h-.8zM64.2 31.2h.8v.8h-.8zM64.5 27.2h.8v.8h-.8zM62.3 29.6h.8v.8h-.8zM62.3 26.7h.8v.8h-.8zM65.3 26.9h.8v.8h-.8zM58.8 28.8h.8v.8h-.8zM63.0 27.6h.8v.8h-.8zM58.9 24.4h.8v.8h-.8zM66.7 26.4h.8v.8h-.8zM61.3 22.4h.8v.8h-.8zM60.5 26.5h.8v.8h-.8zM55.7 31.4h.8v.8h-.8zM57.8 29.0h.8v.8h-.8zM59.6 24.3h.8v.8h-.8zM61.9 31.3h.8v.8h-.8zM59.3 27.9h.8v.8h-.8zM64.9 27.5h.8v.8h-.8zM59.4 29.6h.8v.8h-.8zM64.9 31.1h.8v.8h-.8z"/><path fill-opacity="0.42" d="M60.0 22.1h.8v.8h-.8zM68.4 31.1h.8v.8h-.8zM60.7 27.7h.8v.8h-.8zM58.5 28.8h.8v.8h-.8zM60.0 28.9h.8v.8h-.8zM61.4 26.2h.8v.8h-.8zM63.2 29.6h.8v.8h-.8zM59.7 26.2h.8v.8h-.8zM63.2 24.4h.8v.8h-.8zM58.3 26.9h.8v.8h-.8zM66.8 29.7h.8v.8h-.8zM64.6 26.2h.8v.8h-.8zM60.9 31.4h.8v.8h-.8zM62.7 24.6h.8v.8h-.8zM62.7 24.6h.8v.8h-.8zM61.7 29.1h.8v.8h-.8zM57.6 28.8h.8v.8h-.8zM62.4 26.2h.8v.8h-.8zM64.8 24.3h.8v.8h-.8zM65.6 25.5h.8v.8h-.8zM64.6 25.4h.8v.8h-.8zM58.7 26.0h.8v.8h-.8zM69.5 31.4h.8v.8h-.8zM61.7 23.4h.8v.8h-.8zM56.7 28.0h.8v.8h-.8zM70.1 31.5h.8v.8h-.8zM62.0 31.7h.8v.8h-.8zM62.1 27.3h.8v.8h-.8zM59.9 24.4h.8v.8h-.8zM57.7 33.7h.8v.8h-.8zM64.2 32.8h.8v.8h-.8zM60.4 27.4h.8v.8h-.8zM57.1 23.1h.8v.8h-.8zM65.2 28.0h.8v.8h-.8zM67.0 27.3h.8v.8h-.8zM60.4 29.9h.8v.8h-.8zM65.5 23.8h.8v.8h-.8zM63.1 28.2h.8v.8h-.8zM61.9 37.6h.8v.8h-.8zM65.3 30.7h.8v.8h-.8zM63.7 29.1h.8v.8h-.8zM61.4 29.1h.8v.8h-.8zM58.4 27.8h.8v.8h-.8zM65.6 31.1h.8v.8h-.8zM68.7 25.8h.8v.8h-.8zM61.4 24.5h.8v.8h-.8zM64.9 30.5h.8v.8h-.8zM61.0 32.2h.8v.8h-.8zM62.5 33.4h.8v.8h-.8zM69.0 33.2h.8v.8h-.8zM62.6 27.3h.8v.8h-.8zM55.3 30.4h.8v.8h-.8zM65.9 31.8h.8v.8h-.8zM71.7 32.5h.8v.8h-.8zM60.4 30.0h.8v.8h-.8zM64.1 31.9h.8v.8h-.8zM63.7 24.5h.8v.8h-.8zM55.4 30.7h.8v.8h-.8zM60.7 28.5h.8v.8h-.8zM62.1 26.4h.8v.8h-.8zM59.1 28.3h.8v.8h-.8zM69.9 24.6h.8v.8h-.8zM65.3 28.0h.8v.8h-.8zM60.5 26.9h.8v.8h-.8zM66.0 29.5h.8v.8h-.8zM67.6 26.3h.8v.8h-.8zM63.0 26.3h.8v.8h-.8zM63.7 26.4h.8v.8h-.8zM64.5 34.7h.8v.8h-.8zM64.2 28.5h.8v.8h-.8z"/><path fill-opacity="0.42" d="M61.5 32.7h.8v.8h-.8zM60.8 30.5h.8v.8h-.8zM56.7 28.6h.8v.8h-.8zM62.8 29.2h.8v.8h-.8zM56.8 27.1h.8v.8h-.8zM62.2 28.9h.8v.8h-.8zM61.2 28.9h.8v.8h-.8zM65.1 30.1h.8v.8h-.8zM53.5 27.4h.8v.8h-.8zM61.4 31.8h.8v.8h-.8zM59.6 29.1h.8v.8h-.8zM62.2 26.0h.8v.8h-.8zM61.5 27.2h.8v.8h-.8zM60.8 32.4h.8v.8h-.8zM64.5 31.4h.8v.8h-.8zM61.0 27.6h.8v.8h-.8zM59.2 25.2h.8v.8h-.8zM61.6 25.6h.8v.8h-.8zM58.1 28.6h.8v.8h-.8zM62.8 32.6h.8v.8h-.8zM59.4 29.2h.8v.8h-.8zM59.3 28.2h.8v.8h-.8zM65.5 30.4h.8v.8h-.8zM65.1 28.2h.8v.8h-.8zM55.2 27.9h.8v.8h-.8zM57.9 24.8h.8v.8h-.8zM67.1 26.3h.8v.8h-.8zM61.7 28.0h.8v.8h-.8zM53.4 28.8h.8v.8h-.8zM64.6 27.1h.8v.8h-.8zM55.3 25.7h.8v.8h-.8zM64.9 28.0h.8v.8h-.8zM63.1 30.6h.8v.8h-.8zM57.5 30.0h.8v.8h-.8zM60.6 28.7h.8v.8h-.8zM60.6 32.3h.8v.8h-.8zM60.2 25.3h.8v.8h-.8zM56.6 26.2h.8v.8h-.8zM66.3 30.1h.8v.8h-.8zM66.5 23.9h.8v.8h-.8zM62.3 31.1h.8v.8h-.8zM60.4 27.3h.8v.8h-.8zM54.9 24.0h.8v.8h-.8zM57.8 26.9h.8v.8h-.8zM68.2 27.9h.8v.8h-.8zM68.1 33.7h.8v.8h-.8zM58.7 29.9h.8v.8h-.8zM65.8 25.4h.8v.8h-.8zM64.1 29.7h.8v.8h-.8zM58.9 22.0h.8v.8h-.8zM64.5 27.5h.8v.8h-.8zM65.6 25.8h.8v.8h-.8zM67.4 30.5h.8v.8h-.8zM54.6 31.4h.8v.8h-.8zM58.9 29.3h.8v.8h-.8zM55.2 25.8h.8v.8h-.8zM61.8 28.3h.8v.8h-.8zM67.4 33.5h.8v.8h-.8zM69.6 31.9h.8v.8h-.8zM68.3 27.0h.8v.8h-.8zM65.1 28.1h.8v.8h-.8zM66.0 24.0h.8v.8h-.8zM58.4 28.1h.8v.8h-.8zM63.5 31.1h.8v.8h-.8zM62.0 25.8h.8v.8h-.8zM59.0 27.2h.8v.8h-.8zM65.3 30.2h.8v.8h-.8zM59.3 27.2h.8v.8h-.8zM67.4 26.9h.8v.8h-.8zM62.3 28.2h.8v.8h-.8z"/><path fill-opacity="0.42" d="M53.0 34.0h.8v.8h-.8zM59.5 26.7h.8v.8h-.8zM58.4 26.7h.8v.8h-.8zM72.4 29.6h.8v.8h-.8zM64.1 25.9h.8v.8h-.8zM55.0 29.0h.8v.8h-.8zM63.2 28.2h.8v.8h-.8zM58.4 22.6h.8v.8h-.8zM57.4 25.7h.8v.8h-.8zM62.6 28.6h.8v.8h-.8zM60.3 29.2h.8v.8h-.8zM58.3 26.2h.8v.8h-.8zM55.5 32.7h.8v.8h-.8zM61.3 29.3h.8v.8h-.8zM54.1 24.9h.8v.8h-.8zM61.6 30.3h.8v.8h-.8zM58.1 27.7h.8v.8h-.8zM67.0 31.6h.8v.8h-.8zM71.5 25.1h.8v.8h-.8zM65.3 30.9h.8v.8h-.8zM67.9 24.6h.8v.8h-.8zM61.3 25.7h.8v.8h-.8zM59.6 29.3h.8v.8h-.8zM63.1 27.0h.8v.8h-.8zM60.4 29.7h.8v.8h-.8zM61.1 27.0h.8v.8h-.8zM57.8 29.1h.8v.8h-.8zM64.4 23.2h.8v.8h-.8zM59.5 29.5h.8v.8h-.8zM63.7 27.1h.8v.8h-.8zM63.0 27.7h.8v.8h-.8zM57.4 28.3h.8v.8h-.8zM63.9 26.8h.8v.8h-.8zM66.7 26.1h.8v.8h-.8zM59.3 27.3h.8v.8h-.8zM63.2 32.6h.8v.8h-.8zM61.9 26.9h.8v.8h-.8zM62.0 28.8h.8v.8h-.8zM58.0 28.0h.8v.8h-.8zM67.1 26.3h.8v.8h-.8zM60.2 29.3h.8v.8h-.8zM55.7 30.1h.8v.8h-.8zM64.8 28.7h.8v.8h-.8zM56.7 27.8h.8v.8h-.8zM64.9 33.3h.8v.8h-.8zM67.2 24.3h.8v.8h-.8zM61.3 29.1h.8v.8h-.8zM67.7 29.2h.8v.8h-.8zM59.8 31.3h.8v.8h-.8zM52.4 23.3h.8v.8h-.8zM73.1 31.6h.8v.8h-.8zM60.1 27.6h.8v.8h-.8zM64.3 25.9h.8v.8h-.8zM68.9 29.2h.8v.8h-.8zM56.6 25.4h.8v.8h-.8zM61.6 26.6h.8v.8h-.8zM62.8 27.4h.8v.8h-.8zM71.3 28.7h.8v.8h-.8zM63.5 32.2h.8v.8h-.8zM69.7 32.3h.8v.8h-.8zM64.8 30.3h.8v.8h-.8zM69.0 31.8h.8v.8h-.8zM68.1 24.5h.8v.8h-.8zM65.7 32.3h.8v.8h-.8zM61.7 28.0h.8v.8h-.8zM63.9 29.3h.8v.8h-.8zM59.1 28.6h.8v.8h-.8zM66.1 26.7h.8v.8h-.8zM60.2 30.0h.8v.8h-.8zM56.7 28.9h.8v.8h-.8z"/><path fill-opacity="0.42" d="M65.4 29.9h.8v.8h-.8zM58.6 32.0h.8v.8h-.8zM63.3 29.2h.8v.8h-.8zM59.0 29.5h.8v.8h-.8zM61.0 26.7h.8v.8h-.8zM65.7 26.7h.8v.8h-.8zM59.6 30.5h.8v.8h-.8zM61.8 29.0h.8v.8h-.8zM60.3 27.1h.8v.8h-.8zM55.8 22.9h.8v.8h-.8zM58.3 26.0h.8v.8h-.8zM65.1 27.5h.8v.8h-.8zM62.4 31.2h.8v.8h-.8zM64.3 25.7h.8v.8h-.8zM67.3 27.7h.8v.8h-.8zM63.0 25.8h.8v.8h-.8zM64.9 29.9h.8v.8h-.8zM60.5 25.9h.8v.8h-.8zM64.2 30.3h.8v.8h-.8zM71.2 23.3h.8v.8h-.8zM59.3 27.9h.8v.8h-.8zM63.6 29.3h.8v.8h-.8zM59.7 31.5h.8v.8h-.8zM65.9 30.6h.8v.8h-.8zM62.4 25.8h.8v.8h-.8zM60.3 25.2h.8v.8h-.8zM69.5 30.4h.8v.8h-.8zM57.1 30.2h.8v.8h-.8zM60.7 31.1h.8v.8h-.8zM65.1 27.4h.8v.8h-.8zM65.2 31.6h.8v.8h-.8zM62.2 30.2h.8v.8h-.8zM59.8 28.3h.8v.8h-.8zM55.7 28.8h.8v.8h-.8zM56.7 28.0h.8v.8h-.8zM62.4 24.8h.8v.8h-.8zM61.0 32.9h.8v.8h-.8zM61.9 28.1h.8v.8h-.8zM70.8 30.1h.8v.8h-.8zM68.0 27.2h.8v.8h-.8zM68.5 31.1h.8v.8h-.8zM59.6 27.4h.8v.8h-.8zM69.0 29.1h.8v.8h-.8zM62.4 26.4h.8v.8h-.8zM62.1 23.7h.8v.8h-.8zM60.0 24.8h.8v.8h-.8zM61.1 31.9h.8v.8h-.8zM60.2 31.7h.8v.8h-.8zM63.6 25.4h.8v.8h-.8zM60.6 30.5h.8v.8h-.8zM60.4 23.1h.8v.8h-.8zM57.0 24.3h.8v.8h-.8zM59.8 28.0h.8v.8h-.8zM65.6 30.2h.8v.8h-.8zM70.6 28.1h.8v.8h-.8zM63.1 29.9h.8v.8h-.8zM59.6 26.2h.8v.8h-.8zM59.3 32.4h.8v.8h-.8zM68.6 26.0h.8v.8h-.8zM65.4 29.5h.8v.8h-.8zM60.1 27.1h.8v.8h-.8zM60.0 30.5h.8v.8h-.8zM63.4 26.9h.8v.8h-.8zM57.8 26.2h.8v.8h-.8zM64.5 28.9h.8v.8h-.8zM58.5 28.3h.8v.8h-.8zM56.0 30.9h.8v.8h-.8zM61.7 23.1h.8v.8h-.8zM61.7 29.2h.8v.8h-.8zM62.8 22.4h.8v.8h-.8z"/><path fill-opacity="0.42" d="M61.1 26.3h.8v.8h-.8zM66.1 30.7h.8v.8h-.8zM61.8 26.8h.8v.8h-.8zM53.2 24.7h.8v.8h-.8zM58.1 26.9h.8v.8h-.8zM57.0 34.8h.8v.8h-.8zM61.7 32.4h.8v.8h-.8zM65.7 28.1h.8v.8h-.8zM65.3 30.2h.8v.8h-.8zM63.6 25.7h.8v.8h-.8zM60.0 28.2h.8v.8h-.8zM65.3 27.8h.8v.8h-.8zM64.5 25.1h.8v.8h-.8zM65.0 22.3h.8v.8h-.8zM61.1 29.7h.8v.8h-.8zM65.3 29.9h.8v.8h-.8zM58.2 31.7h.8v.8h-.8zM60.8 30.2h.8v.8h-.8zM57.1 30.6h.8v.8h-.8zM65.6 34.4h.8v.8h-.8zM65.7 28.8h.8v.8h-.8zM67.2 30.1h.8v.8h-.8zM62.4 24.8h.8v.8h-.8zM59.4 27.0h.8v.8h-.8zM61.4 24.1h.8v.8h-.8zM58.6 30.7h.8v.8h-.8zM71.0 30.9h.8v.8h-.8zM64.0 29.4h.8v.8h-.8zM65.2 26.8h.8v.8h-.8zM62.4 24.2h.8v.8h-.8zM62.4 29.9h.8v.8h-.8zM60.1 28.5h.8v.8h-.8zM57.4 27.1h.8v.8h-.8zM63.3 31.7h.8v.8h-.8zM65.8 28.3h.8v.8h-.8zM66.8 29.2h.8v.8h-.8zM61.9 28.5h.8v.8h-.8zM63.7 23.8h.8v.8h-.8zM60.1 25.6h.8v.8h-.8zM64.1 27.5h.8v.8h-.8zM69.4 31.2h.8v.8h-.8zM60.3 27.8h.8v.8h-.8zM54.0 26.9h.8v.8h-.8zM61.4 29.2h.8v.8h-.8zM61.1 24.5h.8v.8h-.8zM65.3 26.9h.8v.8h-.8zM62.9 23.4h.8v.8h-.8zM56.7 31.8h.8v.8h-.8zM58.9 26.3h.8v.8h-.8zM60.5 28.7h.8v.8h-.8zM61.1 26.9h.8v.8h-.8zM59.3 32.1h.8v.8h-.8zM64.8 30.1h.8v.8h-.8zM64.2 26.4h.8v.8h-.8zM66.3 26.2h.8v.8h-.8zM67.2 28.6h.8v.8h-.8zM64.1 26.9h.8v.8h-.8zM67.2 28.7h.8v.8h-.8zM63.9 34.5h.8v.8h-.8zM60.6 30.9h.8v.8h-.8zM66.4 31.6h.8v.8h-.8zM58.9 26.3h.8v.8h-.8zM65.8 28.7h.8v.8h-.8zM64.2 29.5h.8v.8h-.8zM67.3 27.8h.8v.8h-.8zM63.7 29.1h.8v.8h-.8zM62.2 32.0h.8v.8h-.8zM65.8 32.9h.8v.8h-.8zM65.2 28.3h.8v.8h-.8zM57.8 26.5h.8v.8h-.8z"/><path fill-opacity="0.26" d="M59.7 64.4h.8v.8h-.8zM74.7 61.2h.8v.8h-.8zM66.7 68.6h.8v.8h-.8zM55.8 69.1h.8v.8h-.8zM63.2 66.1h.8v.8h-.8zM58.6 72.2h.8v.8h-.8zM63.2 72.8h.8v.8h-.8zM60.6 64.8h.8v.8h-.8zM59.7 67.1h.8v.8h-.8zM68.0 63.7h.8v.8h-.8zM67.4 75.0h.8v.8h-.8zM65.7 69.4h.8v.8h-.8zM54.4 61.7h.8v.8h-.8zM70.4 68.3h.8v.8h-.8zM65.7 67.5h.8v.8h-.8zM62.0 74.7h.8v.8h-.8zM71.4 73.4h.8v.8h-.8zM67.8 70.9h.8v.8h-.8zM62.9 61.9h.8v.8h-.8zM66.3 61.6h.8v.8h-.8zM77.8 75.6h.8v.8h-.8zM56.4 57.1h.8v.8h-.8zM69.9 64.7h.8v.8h-.8zM65.9 69.7h.8v.8h-.8zM70.2 66.2h.8v.8h-.8zM63.0 68.9h.8v.8h-.8zM73.3 69.5h.8v.8h-.8zM64.0 65.5h.8v.8h-.8zM59.5 70.4h.8v.8h-.8zM66.4 75.0h.8v.8h-.8zM73.4 69.2h.8v.8h-.8zM63.8 67.8h.8v.8h-.8zM69.3 64.2h.8v.8h-.8zM55.8 77.9h.8v.8h-.8zM59.5 62.8h.8v.8h-.8zM57.9 76.9h.8v.8h-.8zM59.0 72.9h.8v.8h-.8zM53.4 72.6h.8v.8h-.8zM64.4 65.9h.8v.8h-.8zM65.0 74.5h.8v.8h-.8zM66.6 64.3h.8v.8h-.8zM58.1 70.2h.8v.8h-.8zM61.6 70.6h.8v.8h-.8zM52.8 67.0h.8v.8h-.8zM57.2 70.9h.8v.8h-.8zM64.2 71.8h.8v.8h-.8zM65.2 72.3h.8v.8h-.8zM72.2 68.5h.8v.8h-.8zM65.5 75.1h.8v.8h-.8zM81.5 77.9h.8v.8h-.8zM46.1 59.6h.8v.8h-.8zM57.7 57.8h.8v.8h-.8zM71.2 58.9h.8v.8h-.8zM60.3 64.8h.8v.8h-.8zM71.6 56.8h.8v.8h-.8zM75.9 70.4h.8v.8h-.8zM58.5 68.5h.8v.8h-.8zM52.5 73.6h.8v.8h-.8zM68.6 70.6h.8v.8h-.8zM58.4 66.9h.8v.8h-.8zM62.3 61.9h.8v.8h-.8zM62.3 69.2h.8v.8h-.8zM62.8 61.2h.8v.8h-.8zM73.9 70.9h.8v.8h-.8zM74.0 64.1h.8v.8h-.8zM52.8 63.8h.8v.8h-.8zM66.5 67.5h.8v.8h-.8zM58.8 62.3h.8v.8h-.8zM54.1 68.4h.8v.8h-.8zM62.6 71.3h.8v.8h-.8zM58.8 65.0h.8v.8h-.8zM57.7 64.8h.8v.8h-.8zM66.1 58.7h.8v.8h-.8zM65.9 72.2h.8v.8h-.8zM79.3 66.4h.8v.8h-.8zM60.9 64.6h.8v.8h-.8zM66.5 69.9h.8v.8h-.8zM61.6 61.7h.8v.8h-.8zM68.8 69.1h.8v.8h-.8zM69.1 71.6h.8v.8h-.8zM57.6 60.5h.8v.8h-.8zM53.9 71.4h.8v.8h-.8zM60.7 65.9h.8v.8h-.8zM70.8 75.3h.8v.8h-.8zM73.0 68.7h.8v.8h-.8zM75.6 64.8h.8v.8h-.8zM70.3 66.5h.8v.8h-.8zM45.9 61.8h.8v.8h-.8zM57.8 64.9h.8v.8h-.8zM64.7 68.4h.8v.8h-.8zM56.6 68.8h.8v.8h-.8zM69.2 72.9h.8v.8h-.8zM63.3 70.7h.8v.8h-.8zM72.1 64.4h.8v.8h-.8zM63.3 67.3h.8v.8h-.8zM71.7 70.9h.8v.8h-.8zM61.0 72.1h.8v.8h-.8zM69.8 65.0h.8v.8h-.8zM56.0 61.9h.8v.8h-.8z"/><path fill-opacity="0.26" d="M74.7 63.3h.8v.8h-.8zM63.1 68.0h.8v.8h-.8zM70.4 64.3h.8v.8h-.8zM70.3 76.6h.8v.8h-.8zM58.2 68.1h.8v.8h-.8zM67.0 68.3h.8v.8h-.8zM70.6 60.1h.8v.8h-.8zM53.3 70.4h.8v.8h-.8zM71.5 66.7h.8v.8h-.8zM65.1 63.9h.8v.8h-.8zM66.8 74.3h.8v.8h-.8zM57.6 69.1h.8v.8h-.8zM62.6 69.3h.8v.8h-.8zM74.7 60.1h.8v.8h-.8zM58.0 68.9h.8v.8h-.8zM77.8 67.6h.8v.8h-.8zM56.2 66.6h.8v.8h-.8zM70.9 65.2h.8v.8h-.8zM53.5 64.4h.8v.8h-.8zM65.4 66.2h.8v.8h-.8zM56.2 70.5h.8v.8h-.8zM56.5 69.2h.8v.8h-.8zM72.5 70.0h.8v.8h-.8zM54.9 67.3h.8v.8h-.8zM67.3 60.8h.8v.8h-.8zM53.2 62.2h.8v.8h-.8zM70.9 76.4h.8v.8h-.8zM58.1 69.9h.8v.8h-.8zM61.1 66.3h.8v.8h-.8zM70.2 74.0h.8v.8h-.8zM68.3 68.6h.8v.8h-.8zM60.8 62.8h.8v.8h-.8zM63.5 63.1h.8v.8h-.8zM61.6 72.2h.8v.8h-.8zM58.5 71.2h.8v.8h-.8zM67.0 73.9h.8v.8h-.8zM67.4 64.7h.8v.8h-.8zM61.7 75.3h.8v.8h-.8zM58.8 65.9h.8v.8h-.8zM59.1 62.3h.8v.8h-.8zM57.3 77.7h.8v.8h-.8zM72.4 64.6h.8v.8h-.8zM60.3 69.3h.8v.8h-.8zM65.9 75.7h.8v.8h-.8zM72.7 75.2h.8v.8h-.8zM67.0 64.8h.8v.8h-.8zM70.3 73.0h.8v.8h-.8zM61.2 55.7h.8v.8h-.8zM60.1 70.0h.8v.8h-.8zM65.9 62.6h.8v.8h-.8zM62.8 68.3h.8v.8h-.8zM71.5 79.2h.8v.8h-.8zM69.4 66.0h.8v.8h-.8zM58.3 67.8h.8v.8h-.8zM63.2 80.2h.8v.8h-.8zM59.0 64.7h.8v.8h-.8zM57.2 69.8h.8v.8h-.8zM62.6 59.4h.8v.8h-.8zM48.2 71.7h.8v.8h-.8zM60.0 66.5h.8v.8h-.8zM60.9 64.8h.8v.8h-.8zM63.8 68.6h.8v.8h-.8zM61.0 67.7h.8v.8h-.8zM69.2 75.7h.8v.8h-.8zM57.9 70.1h.8v.8h-.8zM73.9 67.5h.8v.8h-.8zM71.9 59.7h.8v.8h-.8zM59.5 69.9h.8v.8h-.8zM57.4 70.1h.8v.8h-.8zM66.3 64.3h.8v.8h-.8zM57.9 65.0h.8v.8h-.8zM65.6 72.1h.8v.8h-.8zM59.7 76.3h.8v.8h-.8zM71.5 65.4h.8v.8h-.8zM50.8 68.5h.8v.8h-.8zM64.3 70.1h.8v.8h-.8zM68.8 65.1h.8v.8h-.8zM61.5 72.3h.8v.8h-.8zM70.2 67.3h.8v.8h-.8zM73.4 77.6h.8v.8h-.8zM65.9 62.4h.8v.8h-.8zM77.7 66.8h.8v.8h-.8zM63.4 80.7h.8v.8h-.8zM71.4 72.6h.8v.8h-.8zM76.3 71.3h.8v.8h-.8zM69.8 64.8h.8v.8h-.8zM66.1 69.1h.8v.8h-.8zM65.6 77.2h.8v.8h-.8zM66.8 58.4h.8v.8h-.8zM58.3 61.4h.8v.8h-.8zM63.6 72.2h.8v.8h-.8zM67.2 62.6h.8v.8h-.8zM60.8 75.2h.8v.8h-.8zM59.3 68.8h.8v.8h-.8zM67.7 70.3h.8v.8h-.8zM61.6 64.0h.8v.8h-.8zM52.8 72.5h.8v.8h-.8zM57.7 67.9h.8v.8h-.8zM49.2 73.5h.8v.8h-.8z"/><path fill-opacity="0.26" d="M68.0 63.6h.8v.8h-.8zM55.5 66.1h.8v.8h-.8zM74.0 68.1h.8v.8h-.8zM66.2 63.3h.8v.8h-.8zM60.4 74.6h.8v.8h-.8zM76.7 65.2h.8v.8h-.8zM66.3 57.4h.8v.8h-.8zM63.6 60.8h.8v.8h-.8zM63.7 77.4h.8v.8h-.8zM68.8 74.7h.8v.8h-.8zM63.0 70.3h.8v.8h-.8zM57.0 65.4h.8v.8h-.8zM65.9 64.5h.8v.8h-.8zM49.8 65.6h.8v.8h-.8zM58.7 70.7h.8v.8h-.8zM62.8 76.3h.8v.8h-.8zM58.3 69.3h.8v.8h-.8zM57.1 77.9h.8v.8h-.8zM63.2 60.1h.8v.8h-.8zM61.8 65.0h.8v.8h-.8zM60.8 59.9h.8v.8h-.8zM71.2 63.7h.8v.8h-.8zM68.4 72.9h.8v.8h-.8zM57.5 56.0h.8v.8h-.8zM69.1 61.8h.8v.8h-.8zM62.6 75.7h.8v.8h-.8zM71.5 66.4h.8v.8h-.8zM66.5 64.5h.8v.8h-.8zM62.1 66.8h.8v.8h-.8zM74.3 66.6h.8v.8h-.8zM64.1 73.1h.8v.8h-.8zM62.4 71.6h.8v.8h-.8zM50.3 67.0h.8v.8h-.8zM64.6 69.2h.8v.8h-.8zM63.1 61.9h.8v.8h-.8zM53.8 60.9h.8v.8h-.8zM64.1 58.1h.8v.8h-.8zM67.0 69.8h.8v.8h-.8zM70.0 73.6h.8v.8h-.8zM64.6 66.6h.8v.8h-.8zM58.5 74.4h.8v.8h-.8zM63.0 76.4h.8v.8h-.8zM67.0 75.9h.8v.8h-.8zM65.9 80.0h.8v.8h-.8zM62.0 71.8h.8v.8h-.8zM58.1 68.6h.8v.8h-.8zM63.3 62.0h.8v.8h-.8zM64.1 74.1h.8v.8h-.8zM65.2 70.7h.8v.8h-.8zM62.1 68.1h.8v.8h-.8zM55.4 64.4h.8v.8h-.8zM60.4 67.8h.8v.8h-.8zM67.1 70.0h.8v.8h-.8zM61.5 70.8h.8v.8h-.8zM60.1 66.2h.8v.8h-.8zM60.9 59.3h.8v.8h-.8zM71.8 75.6h.8v.8h-.8zM59.8 71.8h.8v.8h-.8zM61.2 74.8h.8v.8h-.8zM68.3 72.7h.8v.8h-.8zM69.3 74.5h.8v.8h-.8zM62.7 69.0h.8v.8h-.8zM63.7 65.8h.8v.8h-.8zM71.7 67.3h.8v.8h-.8zM57.9 58.0h.8v.8h-.8zM63.9 67.2h.8v.8h-.8zM57.6 65.8h.8v.8h-.8zM56.6 56.9h.8v.8h-.8zM60.0 62.6h.8v.8h-.8zM69.6 70.5h.8v.8h-.8zM67.7 66.6h.8v.8h-.8zM61.0 75.7h.8v.8h-.8zM65.3 68.4h.8v.8h-.8zM60.3 65.1h.8v.8h-.8zM56.7 73.6h.8v.8h-.8zM65.2 71.0h.8v.8h-.8zM62.2 80.1h.8v.8h-.8zM54.5 67.6h.8v.8h-.8zM65.5 61.1h.8v.8h-.8zM57.7 70.3h.8v.8h-.8zM65.7 68.4h.8v.8h-.8zM68.1 67.1h.8v.8h-.8zM66.2 72.9h.8v.8h-.8zM68.5 61.0h.8v.8h-.8zM61.9 68.4h.8v.8h-.8zM65.6 75.0h.8v.8h-.8zM57.1 68.1h.8v.8h-.8zM74.0 64.7h.8v.8h-.8zM59.0 63.2h.8v.8h-.8zM68.7 67.4h.8v.8h-.8zM57.4 70.9h.8v.8h-.8zM62.3 62.4h.8v.8h-.8zM60.8 71.7h.8v.8h-.8zM57.9 68.4h.8v.8h-.8zM60.5 65.6h.8v.8h-.8zM63.1 77.8h.8v.8h-.8zM64.1 76.5h.8v.8h-.8zM77.0 59.9h.8v.8h-.8zM63.6 68.1h.8v.8h-.8z"/><path fill-opacity="0.26" d="M69.3 60.7h.8v.8h-.8zM68.3 74.5h.8v.8h-.8zM68.0 65.4h.8v.8h-.8zM65.1 59.4h.8v.8h-.8zM62.9 53.7h.8v.8h-.8zM61.8 74.6h.8v.8h-.8zM64.7 69.1h.8v.8h-.8zM70.6 78.1h.8v.8h-.8zM61.4 63.8h.8v.8h-.8zM65.2 68.1h.8v.8h-.8zM75.7 72.8h.8v.8h-.8zM68.5 69.8h.8v.8h-.8zM68.3 65.7h.8v.8h-.8zM70.6 73.9h.8v.8h-.8zM67.1 66.7h.8v.8h-.8zM77.3 61.3h.8v.8h-.8zM66.9 71.7h.8v.8h-.8zM61.7 69.6h.8v.8h-.8zM54.4 69.6h.8v.8h-.8zM67.8 73.9h.8v.8h-.8zM55.6 75.9h.8v.8h-.8zM68.5 67.0h.8v.8h-.8zM54.3 71.9h.8v.8h-.8zM64.4 74.0h.8v.8h-.8zM69.9 58.6h.8v.8h-.8zM60.4 66.7h.8v.8h-.8zM67.4 65.0h.8v.8h-.8zM63.5 73.6h.8v.8h-.8zM72.1 66.7h.8v.8h-.8zM57.7 77.4h.8v.8h-.8zM68.5 66.3h.8v.8h-.8zM66.2 68.0h.8v.8h-.8zM54.7 67.4h.8v.8h-.8zM60.0 69.7h.8v.8h-.8zM65.5 73.9h.8v.8h-.8zM69.6 64.6h.8v.8h-.8zM66.1 63.4h.8v.8h-.8zM62.6 67.3h.8v.8h-.8zM70.7 76.6h.8v.8h-.8zM68.8 71.7h.8v.8h-.8zM67.1 63.5h.8v.8h-.8zM68.1 66.4h.8v.8h-.8zM67.8 54.2h.8v.8h-.8zM63.8 73.3h.8v.8h-.8zM62.5 64.7h.8v.8h-.8zM70.5 76.5h.8v.8h-.8zM54.7 63.0h.8v.8h-.8zM71.4 68.4h.8v.8h-.8zM70.2 70.4h.8v.8h-.8zM59.3 66.0h.8v.8h-.8zM62.7 64.4h.8v.8h-.8zM63.7 63.3h.8v.8h-.8zM67.2 63.8h.8v.8h-.8zM58.9 68.7h.8v.8h-.8zM62.0 66.8h.8v.8h-.8zM67.6 67.5h.8v.8h-.8zM59.6 67.6h.8v.8h-.8zM66.9 69.5h.8v.8h-.8zM59.5 68.4h.8v.8h-.8zM66.8 74.6h.8v.8h-.8zM72.9 67.0h.8v.8h-.8zM56.9 72.8h.8v.8h-.8zM56.4 73.3h.8v.8h-.8zM57.3 62.0h.8v.8h-.8zM59.2 71.2h.8v.8h-.8zM66.4 77.2h.8v.8h-.8zM68.1 61.0h.8v.8h-.8zM59.7 59.9h.8v.8h-.8zM53.7 59.2h.8v.8h-.8zM68.7 61.2h.8v.8h-.8zM67.2 70.8h.8v.8h-.8zM58.3 78.0h.8v.8h-.8zM63.4 70.4h.8v.8h-.8zM63.7 73.2h.8v.8h-.8zM61.6 73.1h.8v.8h-.8zM64.3 65.5h.8v.8h-.8zM61.1 75.0h.8v.8h-.8zM75.8 70.2h.8v.8h-.8zM67.0 64.1h.8v.8h-.8zM67.0 69.2h.8v.8h-.8zM65.5 60.4h.8v.8h-.8zM63.4 68.5h.8v.8h-.8zM59.0 72.4h.8v.8h-.8zM72.3 62.5h.8v.8h-.8zM55.0 69.0h.8v.8h-.8zM60.1 66.6h.8v.8h-.8zM60.8 71.9h.8v.8h-.8zM60.7 59.9h.8v.8h-.8zM61.4 62.6h.8v.8h-.8zM57.3 72.1h.8v.8h-.8zM60.8 65.3h.8v.8h-.8zM54.5 67.4h.8v.8h-.8zM69.2 62.2h.8v.8h-.8zM62.7 74.1h.8v.8h-.8zM61.0 66.1h.8v.8h-.8zM57.5 67.4h.8v.8h-.8zM75.2 62.6h.8v.8h-.8zM57.3 63.9h.8v.8h-.8z"/><path fill-opacity="0.26" d="M68.3 76.2h.8v.8h-.8zM71.8 64.0h.8v.8h-.8zM66.2 69.4h.8v.8h-.8zM56.4 75.7h.8v.8h-.8zM65.0 75.5h.8v.8h-.8zM69.1 54.3h.8v.8h-.8zM74.4 74.1h.8v.8h-.8zM62.8 65.4h.8v.8h-.8zM74.6 75.6h.8v.8h-.8zM56.9 66.6h.8v.8h-.8zM59.8 50.7h.8v.8h-.8zM68.6 64.5h.8v.8h-.8zM71.8 76.1h.8v.8h-.8zM61.7 71.5h.8v.8h-.8zM63.3 54.8h.8v.8h-.8zM59.6 75.6h.8v.8h-.8zM71.5 74.3h.8v.8h-.8zM73.4 67.3h.8v.8h-.8zM66.6 68.0h.8v.8h-.8zM57.4 60.3h.8v.8h-.8zM72.0 76.7h.8v.8h-.8zM69.3 59.8h.8v.8h-.8zM52.0 70.8h.8v.8h-.8zM58.7 65.0h.8v.8h-.8zM73.2 71.1h.8v.8h-.8zM70.6 59.7h.8v.8h-.8zM65.0 67.0h.8v.8h-.8zM51.4 63.1h.8v.8h-.8zM60.1 77.7h.8v.8h-.8zM62.4 55.4h.8v.8h-.8zM61.8 67.4h.8v.8h-.8zM65.5 65.4h.8v.8h-.8zM60.8 68.8h.8v.8h-.8zM63.0 54.7h.8v.8h-.8zM57.4 65.5h.8v.8h-.8zM60.2 69.5h.8v.8h-.8zM51.7 67.4h.8v.8h-.8zM66.9 72.5h.8v.8h-.8zM60.5 75.7h.8v.8h-.8zM67.9 61.1h.8v.8h-.8zM75.5 69.2h.8v.8h-.8zM70.4 73.0h.8v.8h-.8zM60.7 71.5h.8v.8h-.8zM54.9 72.9h.8v.8h-.8zM63.1 62.7h.8v.8h-.8zM60.7 59.0h.8v.8h-.8zM56.7 69.4h.8v.8h-.8zM60.3 66.0h.8v.8h-.8zM70.2 70.9h.8v.8h-.8zM57.7 77.7h.8v.8h-.8zM63.5 66.0h.8v.8h-.8zM61.8 71.9h.8v.8h-.8zM56.5 71.0h.8v.8h-.8zM66.3 64.7h.8v.8h-.8zM56.6 69.9h.8v.8h-.8zM65.3 64.1h.8v.8h-.8zM63.2 59.0h.8v.8h-.8zM61.9 65.5h.8v.8h-.8zM60.0 68.4h.8v.8h-.8zM68.1 61.2h.8v.8h-.8zM75.8 72.4h.8v.8h-.8zM77.1 66.0h.8v.8h-.8zM61.7 72.2h.8v.8h-.8zM72.2 71.5h.8v.8h-.8zM73.7 70.6h.8v.8h-.8zM59.0 67.1h.8v.8h-.8zM64.3 69.2h.8v.8h-.8zM63.6 73.9h.8v.8h-.8zM62.0 76.9h.8v.8h-.8zM65.5 60.9h.8v.8h-.8zM77.3 65.5h.8v.8h-.8zM72.2 57.5h.8v.8h-.8zM55.2 63.2h.8v.8h-.8zM63.1 74.1h.8v.8h-.8zM54.1 74.7h.8v.8h-.8zM64.4 70.9h.8v.8h-.8zM61.3 69.9h.8v.8h-.8zM56.2 59.8h.8v.8h-.8zM65.7 72.8h.8v.8h-.8zM74.0 65.2h.8v.8h-.8zM49.9 73.9h.8v.8h-.8zM68.0 57.7h.8v.8h-.8zM68.5 62.8h.8v.8h-.8zM64.5 67.0h.8v.8h-.8zM77.6 70.7h.8v.8h-.8zM58.1 63.9h.8v.8h-.8zM60.2 73.5h.8v.8h-.8zM64.3 58.0h.8v.8h-.8zM65.7 73.9h.8v.8h-.8zM69.5 69.3h.8v.8h-.8zM63.2 75.8h.8v.8h-.8zM62.7 64.0h.8v.8h-.8zM55.7 73.6h.8v.8h-.8zM65.8 70.7h.8v.8h-.8zM66.0 75.8h.8v.8h-.8zM61.4 64.8h.8v.8h-.8zM52.2 66.1h.8v.8h-.8zM63.6 63.6h.8v.8h-.8z"/><path fill-opacity="0.26" d="M63.2 75.2h.8v.8h-.8zM65.0 77.4h.8v.8h-.8zM77.5 66.0h.8v.8h-.8zM71.1 71.9h.8v.8h-.8zM58.7 67.6h.8v.8h-.8zM75.3 68.8h.8v.8h-.8zM58.2 75.0h.8v.8h-.8zM69.5 75.5h.8v.8h-.8zM64.3 66.6h.8v.8h-.8zM66.2 60.2h.8v.8h-.8zM65.2 65.6h.8v.8h-.8zM65.3 64.9h.8v.8h-.8zM67.2 68.3h.8v.8h-.8zM67.4 68.8h.8v.8h-.8zM68.9 79.3h.8v.8h-.8zM67.9 69.5h.8v.8h-.8zM72.9 71.3h.8v.8h-.8zM60.9 66.7h.8v.8h-.8zM73.5 69.7h.8v.8h-.8zM61.5 60.1h.8v.8h-.8zM62.8 74.8h.8v.8h-.8zM63.9 78.0h.8v.8h-.8zM55.1 66.3h.8v.8h-.8zM56.2 65.6h.8v.8h-.8zM63.9 75.0h.8v.8h-.8zM68.3 58.1h.8v.8h-.8zM61.7 63.8h.8v.8h-.8zM47.2 72.4h.8v.8h-.8zM56.1 64.0h.8v.8h-.8zM61.3 69.8h.8v.8h-.8zM62.7 74.8h.8v.8h-.8zM73.2 71.5h.8v.8h-.8zM61.5 61.8h.8v.8h-.8zM63.3 73.5h.8v.8h-.8zM51.2 67.3h.8v.8h-.8zM64.6 67.2h.8v.8h-.8zM68.3 71.5h.8v.8h-.8zM64.8 67.9h.8v.8h-.8zM58.3 59.7h.8v.8h-.8zM72.9 61.7h.8v.8h-.8zM61.6 69.2h.8v.8h-.8zM57.7 59.2h.8v.8h-.8zM67.2 72.9h.8v.8h-.8zM63.1 75.9h.8v.8h-.8zM67.1 74.9h.8v.8h-.8zM68.4 63.5h.8v.8h-.8zM62.4 76.2h.8v.8h-.8zM65.6 62.1h.8v.8h-.8zM61.7 73.1h.8v.8h-.8zM68.7 66.9h.8v.8h-.8zM55.8 61.3h.8v.8h-.8zM68.8 75.8h.8v.8h-.8zM71.7 61.7h.8v.8h-.8zM68.2 66.4h.8v.8h-.8zM59.3 71.6h.8v.8h-.8zM68.4 65.4h.8v.8h-.8zM65.0 71.7h.8v.8h-.8zM50.0 69.4h.8v.8h-.8zM69.6 62.6h.8v.8h-.8zM65.8 75.2h.8v.8h-.8zM57.4 64.3h.8v.8h-.8zM73.0 66.7h.8v.8h-.8zM68.5 64.5h.8v.8h-.8zM64.9 72.3h.8v.8h-.8zM69.6 64.2h.8v.8h-.8zM75.3 67.6h.8v.8h-.8zM62.4 56.4h.8v.8h-.8zM67.4 61.1h.8v.8h-.8zM62.1 65.4h.8v.8h-.8zM67.4 62.7h.8v.8h-.8zM62.4 73.6h.8v.8h-.8zM75.7 78.0h.8v.8h-.8zM68.9 73.6h.8v.8h-.8zM53.1 72.7h.8v.8h-.8zM66.4 69.2h.8v.8h-.8zM62.9 63.9h.8v.8h-.8zM65.7 61.2h.8v.8h-.8zM74.3 60.2h.8v.8h-.8zM67.6 66.1h.8v.8h-.8zM72.6 75.2h.8v.8h-.8zM69.4 65.0h.8v.8h-.8zM64.9 62.5h.8v.8h-.8zM71.0 73.4h.8v.8h-.8zM66.7 63.1h.8v.8h-.8zM71.4 72.7h.8v.8h-.8zM73.3 70.0h.8v.8h-.8zM62.2 63.9h.8v.8h-.8zM65.9 68.2h.8v.8h-.8zM63.8 69.7h.8v.8h-.8zM61.1 74.2h.8v.8h-.8zM69.1 70.4h.8v.8h-.8zM62.1 71.8h.8v.8h-.8zM64.2 64.8h.8v.8h-.8zM72.7 76.4h.8v.8h-.8zM59.9 70.9h.8v.8h-.8zM57.8 68.3h.8v.8h-.8zM75.2 77.0h.8v.8h-.8zM74.0 67.9h.8v.8h-.8z"/><path fill-opacity="0.22" d="M86.4 70.3h.8v.8h-.8zM21.3 67.3h.8v.8h-.8zM71.9 15.4h.8v.8h-.8zM29.7 56.6h.8v.8h-.8zM48.4 59.6h.8v.8h-.8zM51.9 69.2h.8v.8h-.8zM62.3 48.9h.8v.8h-.8zM88.0 36.4h.8v.8h-.8zM36.1 46.6h.8v.8h-.8zM31.6 66.1h.8v.8h-.8zM33.1 20.6h.8v.8h-.8zM74.5 31.5h.8v.8h-.8zM74.3 65.3h.8v.8h-.8zM27.2 37.5h.8v.8h-.8zM41.4 75.0h.8v.8h-.8zM64.3 78.7h.8v.8h-.8zM23.1 66.0h.8v.8h-.8zM80.7 13.1h.8v.8h-.8zM20.6 37.7h.8v.8h-.8zM34.1 22.1h.8v.8h-.8zM33.7 58.5h.8v.8h-.8zM83.4 26.8h.8v.8h-.8zM67.4 36.3h.8v.8h-.8zM74.8 63.1h.8v.8h-.8zM84.4 22.6h.8v.8h-.8zM82.4 66.9h.8v.8h-.8zM38.0 80.2h.8v.8h-.8zM37.6 13.1h.8v.8h-.8zM30.8 58.0h.8v.8h-.8zM36.0 27.3h.8v.8h-.8z"/><path fill-opacity="0.22" d="M61.6 64.4h.8v.8h-.8zM43.9 45.0h.8v.8h-.8zM73.6 41.8h.8v.8h-.8zM41.5 69.3h.8v.8h-.8zM31.4 49.0h.8v.8h-.8zM36.3 39.5h.8v.8h-.8zM63.0 79.5h.8v.8h-.8zM67.5 60.3h.8v.8h-.8zM38.4 30.1h.8v.8h-.8zM24.9 18.3h.8v.8h-.8zM69.4 77.1h.8v.8h-.8zM31.3 79.2h.8v.8h-.8zM66.8 75.4h.8v.8h-.8zM54.8 50.5h.8v.8h-.8zM80.0 36.3h.8v.8h-.8zM53.5 29.6h.8v.8h-.8zM37.4 47.0h.8v.8h-.8zM23.4 32.5h.8v.8h-.8zM76.0 73.1h.8v.8h-.8zM76.1 65.7h.8v.8h-.8zM71.1 27.0h.8v.8h-.8zM45.0 74.2h.8v.8h-.8zM44.6 53.8h.8v.8h-.8zM53.8 70.3h.8v.8h-.8zM67.9 43.8h.8v.8h-.8zM32.5 39.3h.8v.8h-.8zM22.3 58.9h.8v.8h-.8zM29.8 40.5h.8v.8h-.8zM53.0 28.9h.8v.8h-.8zM46.3 15.0h.8v.8h-.8z"/><path fill-opacity="0.22" d="M63.6 46.0h.8v.8h-.8zM86.7 15.1h.8v.8h-.8zM24.8 21.4h.8v.8h-.8zM45.8 38.0h.8v.8h-.8zM27.2 54.2h.8v.8h-.8zM37.6 39.9h.8v.8h-.8zM74.2 53.9h.8v.8h-.8zM76.0 56.9h.8v.8h-.8zM63.0 25.6h.8v.8h-.8zM73.7 53.0h.8v.8h-.8zM74.4 32.0h.8v.8h-.8zM37.4 29.7h.8v.8h-.8zM49.4 77.3h.8v.8h-.8zM24.5 44.6h.8v.8h-.8zM25.2 66.4h.8v.8h-.8zM81.3 31.1h.8v.8h-.8zM81.4 47.2h.8v.8h-.8zM58.1 23.7h.8v.8h-.8zM32.1 62.7h.8v.8h-.8zM74.5 36.0h.8v.8h-.8zM57.5 56.3h.8v.8h-.8zM83.2 60.8h.8v.8h-.8zM82.4 22.7h.8v.8h-.8zM60.6 43.7h.8v.8h-.8zM50.3 16.2h.8v.8h-.8zM31.9 44.2h.8v.8h-.8zM76.5 20.9h.8v.8h-.8zM55.1 38.4h.8v.8h-.8zM82.5 74.4h.8v.8h-.8zM24.4 76.9h.8v.8h-.8z"/><path fill-opacity="0.22" d="M35.5 16.9h.8v.8h-.8zM37.4 47.6h.8v.8h-.8zM48.0 50.4h.8v.8h-.8zM61.0 35.6h.8v.8h-.8zM28.9 33.1h.8v.8h-.8zM70.5 29.8h.8v.8h-.8zM19.6 24.1h.8v.8h-.8zM32.2 65.6h.8v.8h-.8zM54.8 69.2h.8v.8h-.8zM64.3 69.6h.8v.8h-.8zM39.2 60.0h.8v.8h-.8zM71.5 61.1h.8v.8h-.8zM53.5 65.5h.8v.8h-.8zM20.1 76.1h.8v.8h-.8zM59.0 21.1h.8v.8h-.8zM63.5 31.2h.8v.8h-.8zM23.4 30.1h.8v.8h-.8zM51.1 32.4h.8v.8h-.8zM49.5 79.6h.8v.8h-.8zM87.6 38.9h.8v.8h-.8zM48.4 36.4h.8v.8h-.8zM72.9 50.7h.8v.8h-.8zM44.2 79.7h.8v.8h-.8zM62.0 29.4h.8v.8h-.8zM82.6 65.2h.8v.8h-.8zM60.9 57.4h.8v.8h-.8zM27.9 77.1h.8v.8h-.8zM48.0 24.2h.8v.8h-.8zM44.2 30.8h.8v.8h-.8zM39.1 34.2h.8v.8h-.8z"/><path fill-opacity="0.22" d="M87.9 59.2h.8v.8h-.8zM24.2 20.5h.8v.8h-.8zM48.9 15.5h.8v.8h-.8zM64.3 40.1h.8v.8h-.8zM69.8 15.8h.8v.8h-.8zM73.5 27.5h.8v.8h-.8zM37.9 29.9h.8v.8h-.8zM22.1 53.2h.8v.8h-.8zM77.3 58.5h.8v.8h-.8zM65.9 51.2h.8v.8h-.8zM41.1 77.9h.8v.8h-.8zM67.9 52.4h.8v.8h-.8zM33.8 68.4h.8v.8h-.8zM85.4 74.8h.8v.8h-.8zM53.7 79.8h.8v.8h-.8zM30.2 32.1h.8v.8h-.8zM43.0 45.0h.8v.8h-.8zM79.9 41.4h.8v.8h-.8zM81.9 68.0h.8v.8h-.8zM73.8 19.6h.8v.8h-.8zM59.6 55.5h.8v.8h-.8zM63.9 54.4h.8v.8h-.8zM78.3 60.0h.8v.8h-.8zM86.8 14.2h.8v.8h-.8zM71.3 36.5h.8v.8h-.8zM43.4 14.3h.8v.8h-.8zM21.4 75.7h.8v.8h-.8zM46.0 53.4h.8v.8h-.8zM69.8 13.0h.8v.8h-.8zM40.7 60.1h.8v.8h-.8z"/><path fill-opacity="0.22" d="M23.9 46.4h.8v.8h-.8zM41.5 73.0h.8v.8h-.8zM31.4 79.0h.8v.8h-.8zM61.5 13.7h.8v.8h-.8zM32.6 57.6h.8v.8h-.8zM56.3 63.0h.8v.8h-.8zM73.9 58.2h.8v.8h-.8zM83.8 46.1h.8v.8h-.8zM36.0 51.4h.8v.8h-.8zM37.8 72.0h.8v.8h-.8zM73.8 50.2h.8v.8h-.8zM45.6 47.3h.8v.8h-.8zM47.3 14.0h.8v.8h-.8zM28.9 45.0h.8v.8h-.8zM59.7 43.0h.8v.8h-.8zM59.2 18.0h.8v.8h-.8zM24.2 43.5h.8v.8h-.8zM22.8 79.5h.8v.8h-.8zM41.3 76.5h.8v.8h-.8zM60.6 21.8h.8v.8h-.8zM30.1 54.9h.8v.8h-.8zM38.8 56.4h.8v.8h-.8zM22.7 64.5h.8v.8h-.8zM62.0 47.3h.8v.8h-.8zM67.4 32.9h.8v.8h-.8zM30.2 33.3h.8v.8h-.8zM57.5 56.9h.8v.8h-.8zM64.7 31.7h.8v.8h-.8zM45.2 70.1h.8v.8h-.8zM76.3 19.5h.8v.8h-.8z"/></g><rect x="18.8" y="10.8" width="70.2" height="70.4" fill="none" stroke="#8a8a8a" stroke-width="1"/><line x1="18.8" y1="81.2" x2="89" y2="81.2" stroke="#333" stroke-width="1"/><line x1="18.8" y1="10.8" x2="18.8" y2="81.2" stroke="#555" stroke-width="1.1"/><rect x="49.5" y="13.1" width="25.8" height="28.2" fill="none" stroke="#777" stroke-width="0.9"/><rect x="49.5" y="58.4" width="25.3" height="22.6" fill="none" stroke="#777" stroke-width="0.9"/><text x="75.9" y="30.3" font-size="9" font-weight="bold" font-style="normal" text-anchor="start" fill="#111" >R5</text><text x="75.7" y="72.6" font-size="9" font-weight="bold" font-style="normal" text-anchor="start" fill="#111" >R6</text><text x="43.3" y="89.0" font-size="7.9" font-weight="normal" font-style="normal" text-anchor="start" fill="#111" stroke="#111" stroke-width="0.15">CD115</text><text transform="translate(14.9,51.0) rotate(-90)" font-size="7.0" fill="#222">GFP</text><path d="M81.1,38.2 L92.9,38.2 L92.9,30.8 L103.4,44.6 L92.9,58.7 L92.9,51.9 L81.1,51.9 Z" fill="#000"/><rect x="134.5" y="11" width="139.3" height="141.7" fill="none" stroke="#454545" stroke-width="1.5" stroke-linejoin="round"/><line x1="159.7" y1="40" x2="159.7" y2="23.5" stroke="#444" stroke-width="0.9"/><line x1="157.7" y1="23.5" x2="161.7" y2="23.5" stroke="#444" stroke-width="1.2"/><rect x="146.4" y="40.5" width="26.5" height="112.19999999999999" fill="#000" stroke="#000" stroke-width="1"/><line x1="186.2" y1="115.1" x2="186.2" y2="99.8" stroke="#777" stroke-width="0.8"/><line x1="184.7" y1="99.8" x2="187.7" y2="99.8" stroke="#777" stroke-width="1.2"/><rect x="172.9" y="115.1" width="26.69999999999999" height="37.599999999999994" fill="#c6c6c6" stroke="#444" stroke-width="1"/><polygon points="185.90,90.80 186.75,92.53 188.66,92.80 187.28,94.15 187.60,96.05 185.90,95.15 184.20,96.05 184.52,94.15 183.14,92.80 185.05,92.53" fill="#000"/><text transform="translate(132.8,35.1) scale(0.8,1)" font-size="8.4" text-anchor="end" fill="#444">60</text><text transform="translate(132.8,75.3) scale(0.8,1)" font-size="8.4" text-anchor="end" fill="#444">40</text><text transform="translate(132.8,115.5) scale(0.8,1)" font-size="8.4" text-anchor="end" fill="#444">20</text><text transform="translate(132.8,155.7) scale(0.8,1)" font-size="8.4" text-anchor="end" fill="#444">0</text><text transform="translate(123.5,140.6) rotate(-90)" font-size="10.2" fill="#1a1a1a" stroke="#1a1a1a" stroke-width="0.08" textLength="119.6" lengthAdjust="spacing">% Gr1<tspan font-size="4.6" dy="-4.28">low</tspan><tspan dy="4.28"> of total monocytes</tspan></text><rect x="182" y="26.1" width="14" height="13.8" fill="#000"/><rect x="182" y="43.2" width="14" height="13.4" fill="#c6c6c6"/><text x="197.8" y="36.4" font-size="9.7" font-weight="normal" font-style="normal" text-anchor="start" fill="#1a1a1a" stroke="#1a1a1a" stroke-width="0.2">wt (R6)</text><text x="197.8" y="52.2" font-size="9.8" fill="#1a1a1a" stroke="#1a1a1a" stroke-width="0.2"><tspan font-style="italic">cx</tspan><tspan font-style="italic" font-size="6.08" dy="2.94">3</tspan><tspan font-style="italic" dy="-2.94">cr1</tspan><tspan font-style="italic" font-size="6.60" dy="-3.72">gfp/gfp</tspan><tspan dy="3.72"> (R5)</tspan></text><rect x="332.6" y="14" width="185.8" height="139.4" fill="none" stroke="#888" stroke-width="1"/><line x1="332.6" y1="14" x2="332.6" y2="153.4" stroke="#555" stroke-width="1"/><line x1="332.6" y1="153.4" x2="518.4" y2="153.4" stroke="#333" stroke-width="1"/><line x1="330.6" y1="153.4" x2="332.6" y2="153.4" stroke="#888" stroke-width="0.8"/><line x1="330.6" y1="133.5" x2="332.6" y2="133.5" stroke="#888" stroke-width="0.8"/><line x1="330.6" y1="113.5" x2="332.6" y2="113.5" stroke="#888" stroke-width="0.8"/><line x1="330.6" y1="93.6" x2="332.6" y2="93.6" stroke="#888" stroke-width="0.8"/><line x1="330.6" y1="73.6" x2="332.6" y2="73.6" stroke="#888" stroke-width="0.8"/><line x1="330.6" y1="53.7" x2="332.6" y2="53.7" stroke="#888" stroke-width="0.8"/><line x1="330.6" y1="33.7" x2="332.6" y2="33.7" stroke="#888" stroke-width="0.8"/><text x="327.5" y="156.1" font-size="7.6" font-weight="normal" font-style="normal" text-anchor="end" fill="#222" >0</text><text x="327.5" y="117.0" font-size="7.6" font-weight="normal" font-style="normal" text-anchor="end" fill="#222" >20</text><text x="327.5" y="76.8" font-size="7.6" font-weight="normal" font-style="normal" text-anchor="end" fill="#222" >40</text><text x="327.5" y="38.6" font-size="7.6" font-weight="normal" font-style="normal" text-anchor="end" fill="#222" >60</text><line x1="332.6" y1="153.4" x2="332.6" y2="156.5" stroke="#888" stroke-width="0.8"/><line x1="425.4" y1="153.4" x2="425.4" y2="156.5" stroke="#888" stroke-width="0.8"/><line x1="366.0" y1="46.9" x2="366.0" y2="39.4" stroke="#222" stroke-width="1.4"/><line x1="362.7" y1="39.4" x2="369.3" y2="39.4" stroke="#222" stroke-width="1.2"/><rect x="352.3" y="47.1" width="27.0" height="106.30000000000001" fill="#000" stroke="#000" stroke-width="1"/><line x1="392.6" y1="92.4" x2="392.6" y2="87.5" stroke="#222" stroke-width="1.3"/><line x1="389.40000000000003" y1="87.5" x2="395.8" y2="87.5" stroke="#222" stroke-width="1.2"/><rect x="379.3" y="92.4" width="26.899999999999977" height="61.0" fill="#fff" stroke="#111" stroke-width="1"/><polygon points="392.60,79.60 393.48,81.39 395.45,81.67 394.03,83.06 394.36,85.03 392.60,84.10 390.84,85.03 391.17,83.06 389.75,81.67 391.72,81.39" fill="#000"/><line x1="459.5" y1="121.3" x2="459.5" y2="114.7" stroke="#222" stroke-width="1.3"/><line x1="456.3" y1="114.7" x2="462.7" y2="114.7" stroke="#222" stroke-width="1.2"/><rect x="445.6" y="121.6" width="26.69999999999999" height="31.80000000000001" fill="#000" stroke="#000" stroke-width="1"/><line x1="485.9" y1="112.8" x2="485.9" y2="109.9" stroke="#222" stroke-width="1.3"/><line x1="482.7" y1="109.9" x2="489.09999999999997" y2="109.9" stroke="#222" stroke-width="1.2"/><rect x="472.3" y="112.8" width="26.80000000000001" height="40.60000000000001" fill="#fff" stroke="#111" stroke-width="1"/><rect x="412.5" y="19" width="13.9" height="13.7" fill="#000"/><rect x="413.3" y="36.2" width="12.6" height="12.5" fill="#fff" stroke="#111" stroke-width="1"/><text x="430.6" y="28.7" font-size="10.7" font-weight="normal" font-style="normal" text-anchor="start" fill="#1a1a1a" stroke="#1a1a1a" stroke-width="0.2">wt recipient</text><text x="430.6" y="45.9" font-size="10.7" fill="#1a1a1a" stroke="#1a1a1a" stroke-width="0.2"><tspan font-style="italic">cx</tspan><tspan font-style="italic" font-size="6.6" dy="3.2">3</tspan><tspan font-style="italic" dy="-3.2">cl1</tspan><tspan font-size="6.2" dy="-4">-/-</tspan><tspan dy="4"> recipient</tspan></text><text x="357.0" y="165.8" font-size="10.7" font-weight="normal" font-style="normal" text-anchor="start" fill="#1a1a1a" stroke="#1a1a1a" stroke-width="0.2">wt donor</text><text x="430.9" y="166" font-size="10.5" fill="#1a1a1a" stroke="#1a1a1a" stroke-width="0.2"><tspan font-style="italic">cx</tspan><tspan font-style="italic" font-size="6.51" dy="3.15">3</tspan><tspan font-style="italic" dy="-3.15">cr1</tspan><tspan font-style="normal" font-size="8.30" dy="-3.99">gfp/gfp</tspan><tspan dy="3.99"> donor</tspan></text><text transform="translate(310.6,145.9) rotate(-90)" font-size="10.2" fill="#1a1a1a" stroke="#1a1a1a" stroke-width="0.08" textLength="117.9" lengthAdjust="spacing">% Gr1<tspan font-size="4.6" dy="-4.28">low</tspan><tspan dy="4.28"> of total monocytes</tspan></text><rect x="81.9" y="184.9" width="192.1" height="140.6" fill="none" stroke="#2a2a2a" stroke-width="1.4" stroke-linejoin="round"/><text x="79.4" y="328.5" font-size="8.2" font-weight="normal" font-style="normal" text-anchor="end" fill="#333" >0</text><line x1="80.5" y1="325.5" x2="81.9" y2="325.5" stroke="#999" stroke-width="0.6"/><text x="79.4" y="288.4" font-size="8.2" font-weight="normal" font-style="normal" text-anchor="end" fill="#333" >10</text><line x1="80.5" y1="285.4" x2="81.9" y2="285.4" stroke="#999" stroke-width="0.6"/><text x="79.4" y="248.3" font-size="8.2" font-weight="normal" font-style="normal" text-anchor="end" fill="#333" >20</text><line x1="80.5" y1="245.3" x2="81.9" y2="245.3" stroke="#999" stroke-width="0.6"/><text x="79.4" y="208.2" font-size="8.2" font-weight="normal" font-style="normal" text-anchor="end" fill="#333" >30</text><line x1="80.5" y1="205.2" x2="81.9" y2="205.2" stroke="#999" stroke-width="0.6"/><line x1="178" y1="325.5" x2="178" y2="328" stroke="#999" stroke-width="0.6"/><line x1="116.7" y1="228.8" x2="116.7" y2="205.5" stroke="#333" stroke-width="1"/><line x1="114.4" y1="205.5" x2="119.0" y2="205.5" stroke="#333" stroke-width="1.2"/><rect x="102.8" y="228.8" width="27.700000000000003" height="96.69999999999999" fill="#7f7f7f" stroke="#222" stroke-width="1"/><line x1="143.9" y1="272.1" x2="143.9" y2="262.6" stroke="#555" stroke-width="1"/><line x1="141.6" y1="262.6" x2="146.20000000000002" y2="262.6" stroke="#555" stroke-width="1.2"/><rect x="130.5" y="272.1" width="26.69999999999999" height="53.39999999999998" fill="#c8c8c8" stroke="#222" stroke-width="1"/><polygon points="141.30,255.00 142.15,256.73 144.06,257.00 142.68,258.35 143.00,260.25 141.30,259.35 139.60,260.25 139.92,258.35 138.54,257.00 140.45,256.73" fill="#000"/><polygon points="147.30,255.00 148.15,256.73 150.06,257.00 148.68,258.35 149.00,260.25 147.30,259.35 145.60,260.25 145.92,258.35 144.54,257.00 146.45,256.73" fill="#000"/><line x1="212.3" y1="304" x2="212.3" y2="298.7" stroke="#333" stroke-width="1"/><line x1="209.8" y1="298.7" x2="214.8" y2="298.7" stroke="#333" stroke-width="1.2"/><rect x="198.3" y="304" width="27.5" height="21.5" fill="#7f7f7f" stroke="#222" stroke-width="1"/><line x1="239.6" y1="305.4" x2="239.6" y2="299.8" stroke="#333" stroke-width="1"/><line x1="237.1" y1="299.8" x2="242.1" y2="299.8" stroke="#333" stroke-width="1.2"/><rect x="225.8" y="305.4" width="27.69999999999999" height="20.100000000000023" fill="#c8c8c8" stroke="#222" stroke-width="1"/><rect x="193.9" y="201.8" width="13.9" height="13.1" fill="#7f7f7f"/><rect x="193.9" y="220.5" width="13.9" height="12.9" fill="#c8c8c8"/><text x="212.4" y="211.3" font-size="10" fill="#1a1a1a" stroke="#1a1a1a" stroke-width="0.2"><tspan font-style="italic">cx</tspan><tspan font-style="italic" font-size="6.20" dy="3.00">3</tspan><tspan font-style="italic" dy="-3.00">cr1</tspan><tspan font-style="italic" font-size="6.50" dy="-3.80">gfp/+</tspan><tspan dy="3.80"></tspan></text><text x="212.4" y="229.8" font-size="10" fill="#1a1a1a" stroke="#1a1a1a" stroke-width="0.2"><tspan font-style="italic">cx</tspan><tspan font-style="italic" font-size="6.20" dy="3.00">3</tspan><tspan font-style="italic" dy="-3.00">cr1</tspan><tspan font-style="italic" font-size="6.50" dy="-3.80">gfp/gfp</tspan><tspan dy="3.80"></tspan></text><text x="113.5" y="338.5" font-size="11.5" font-weight="bold" font-style="normal" text-anchor="start" fill="#000" >Blood</text><text x="219.5" y="338.9" font-size="11.5" font-weight="bold" font-style="normal" text-anchor="start" fill="#000" >BM</text><text transform="translate(67.3,314.0) rotate(-90)" font-size="10.2" fill="#1a1a1a" stroke="#1a1a1a" stroke-width="0.08" textLength="119" lengthAdjust="spacing">% Gr1<tspan font-size="4.6" dy="-4.28">low</tspan><tspan dy="4.28"> of total monocytes</tspan></text><rect x="328.9" y="185.4" width="189.3" height="139.6" fill="none" stroke="#2a2a2a" stroke-width="1.4" stroke-linejoin="round"/><text x="324.0" y="327.8" font-size="7.8" font-weight="normal" font-style="normal" text-anchor="end" fill="#333" >0</text><text x="324.0" y="296.95" font-size="7.8" font-weight="normal" font-style="normal" text-anchor="end" fill="#333" >20</text><text x="324.0" y="266.1" font-size="7.8" font-weight="normal" font-style="normal" text-anchor="end" fill="#333" >40</text><text x="324.0" y="235.25" font-size="7.8" font-weight="normal" font-style="normal" text-anchor="end" fill="#333" >60</text><text x="324.0" y="204.4" font-size="7.8" font-weight="normal" font-style="normal" text-anchor="end" fill="#333" >80</text><line x1="362.3" y1="259.3" x2="362.3" y2="254.4" stroke="#333" stroke-width="1"/><line x1="359.8" y1="254.4" x2="364.8" y2="254.4" stroke="#333" stroke-width="1.2"/><rect x="349.3" y="259.3" width="27.099999999999966" height="65.69999999999999" fill="#7f7f7f" stroke="#222" stroke-width="1"/><line x1="389.8" y1="286.4" x2="389.8" y2="280.6" stroke="#555" stroke-width="1"/><line x1="387.3" y1="280.6" x2="392.3" y2="280.6" stroke="#555" stroke-width="1.2"/><rect x="376.4" y="286.4" width="27.30000000000001" height="38.60000000000002" fill="#c8c8c8" stroke="#222" stroke-width="1"/><polygon points="387.00,273.10 387.85,274.83 389.76,275.10 388.38,276.45 388.70,278.35 387.00,277.45 385.30,278.35 385.62,276.45 384.24,275.10 386.15,274.83" fill="#000"/><polygon points="393.00,273.10 393.85,274.83 395.76,275.10 394.38,276.45 394.70,278.35 393.00,277.45 391.30,278.35 391.62,276.45 390.24,275.10 392.15,274.83" fill="#000"/><line x1="457.6" y1="217.4" x2="457.6" y2="203.3" stroke="#333" stroke-width="1"/><line x1="455.1" y1="203.3" x2="460.1" y2="203.3" stroke="#333" stroke-width="1.2"/><rect x="444.6" y="217.4" width="27.0" height="107.6" fill="#7f7f7f" stroke="#222" stroke-width="1"/><line x1="485" y1="220.9" x2="485" y2="217" stroke="#333" stroke-width="1"/><line x1="482.5" y1="217" x2="487.5" y2="217" stroke="#333" stroke-width="1.2"/><rect x="471.6" y="220.9" width="26.599999999999966" height="104.1" fill="#c8c8c8" stroke="#222" stroke-width="1"/><rect x="346.5" y="198" width="13.8" height="12.8" fill="#7f7f7f"/><rect x="346.5" y="217.4" width="13.8" height="13.4" fill="#c8c8c8"/><text x="363.4" y="207.8" font-size="10" fill="#1a1a1a" stroke="#1a1a1a" stroke-width="0.2"><tspan font-style="italic">cx</tspan><tspan font-style="italic" font-size="6.20" dy="3.00">3</tspan><tspan font-style="italic" dy="-3.00">cr1</tspan><tspan font-style="italic" font-size="6.50" dy="-3.80">gfp/+</tspan><tspan dy="3.80"></tspan></text><text x="363.4" y="226.8" font-size="10" fill="#1a1a1a" stroke="#1a1a1a" stroke-width="0.2"><tspan font-style="italic">cx</tspan><tspan font-style="italic" font-size="6.20" dy="3.00">3</tspan><tspan font-style="italic" dy="-3.00">cr1</tspan><tspan font-style="italic" font-size="6.50" dy="-3.80">gfp/gfp</tspan><tspan dy="3.80"></tspan></text><text x="355.4" y="338.4" font-size="11.6" font-weight="bold" font-style="normal" text-anchor="start" fill="#000" >non tg</text><text x="449.9" y="338.4" font-size="11.6" font-weight="bold" font-style="normal" text-anchor="start" fill="#000" >hBcl2 tg</text><text transform="translate(312.6,320.6) rotate(-90)" font-size="10.2" fill="#1a1a1a" stroke="#1a1a1a" stroke-width="0.08" textLength="120.4" lengthAdjust="spacing">% Gr1<tspan font-size="4.6" dy="-4.28">low</tspan><tspan dy="4.28"> of total monocytes</tspan></text><line x1="518.2" y1="186.5" x2="518.2" y2="324.5" stroke="#555" stroke-width="1.4"/>
</svg></body></html>
